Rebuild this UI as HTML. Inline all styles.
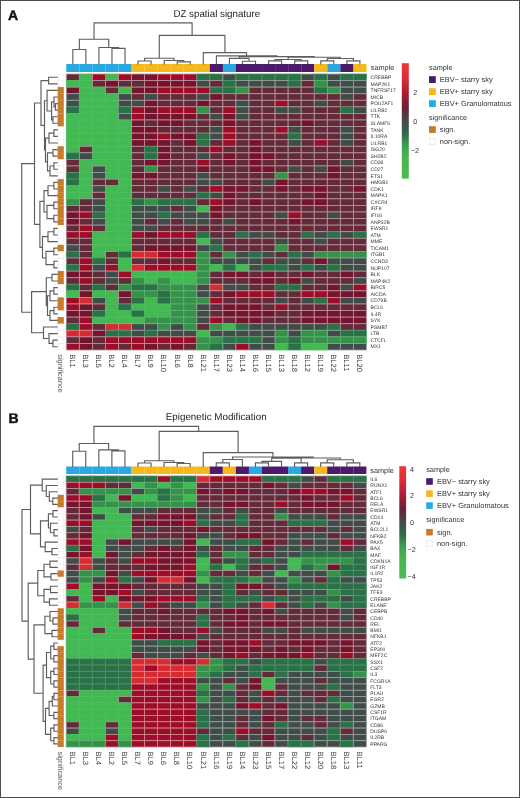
<!DOCTYPE html>
<html><head><meta charset="utf-8"><title>Heatmaps</title>
<style>
html,body{margin:0;padding:0;background:#fff;}
body{width:520px;height:798px;overflow:hidden;position:relative;font-family:"Liberation Sans",sans-serif;}
svg{display:block;position:absolute;left:0;top:0;}
.bd{position:absolute;background:#4d4d4d;}
</style></head><body>
<svg width="520" height="798" viewBox="0 0 520 798" font-family="Liberation Sans" style="text-rendering:geometricPrecision;will-change:transform">
<style>.a{fill:#43b953;stroke:#4dbd5c;stroke-width:0.8}.b{fill:#36924a;stroke:#5bb26e;stroke-width:0.8}.c{fill:#2b7046;stroke:#4f9169;stroke-width:0.8}.e{fill:#404c48;stroke:#9ca2a0;stroke-width:0.8}.f{fill:#632a39;stroke:#b5969e;stroke-width:0.8}.h{fill:#74152d;stroke:#c38f9c;stroke-width:0.8}.i{fill:#9c0e28;stroke:#d58795;stroke-width:0.8}.j{fill:#d62b32;stroke:#e18387;stroke-width:0.8}</style>
<rect x="0" y="0" width="520" height="798" fill="#ffffff"/>
<rect class="f" x="66.30" y="74.00" width="13.05" height="6.57"/>
<rect class="a" x="79.35" y="74.00" width="13.05" height="6.57"/>
<rect class="i" x="92.40" y="74.00" width="13.05" height="6.57"/>
<rect class="a" x="105.45" y="74.00" width="13.05" height="6.57"/>
<rect class="i" x="118.50" y="74.00" width="13.05" height="6.57"/>
<rect class="h" x="131.55" y="74.00" width="13.05" height="6.57"/>
<rect class="h" x="144.60" y="74.00" width="13.05" height="6.57"/>
<rect class="i" x="157.65" y="74.00" width="13.05" height="6.57"/>
<rect class="i" x="170.70" y="74.00" width="13.05" height="6.57"/>
<rect class="i" x="183.75" y="74.00" width="13.05" height="6.57"/>
<rect class="c" x="196.80" y="74.00" width="13.05" height="6.57"/>
<rect class="c" x="209.85" y="74.00" width="13.05" height="6.57"/>
<rect class="e" x="222.90" y="74.00" width="13.05" height="6.57"/>
<rect class="c" x="235.95" y="74.00" width="13.05" height="6.57"/>
<rect class="c" x="249.00" y="74.00" width="13.05" height="6.57"/>
<rect class="c" x="262.05" y="74.00" width="13.05" height="6.57"/>
<rect class="c" x="275.10" y="74.00" width="13.05" height="6.57"/>
<rect class="c" x="288.15" y="74.00" width="13.05" height="6.57"/>
<rect class="e" x="301.20" y="74.00" width="13.05" height="6.57"/>
<rect class="c" x="314.25" y="74.00" width="13.05" height="6.57"/>
<rect class="e" x="327.30" y="74.00" width="13.05" height="6.57"/>
<rect class="c" x="340.35" y="74.00" width="13.05" height="6.57"/>
<rect class="c" x="353.40" y="74.00" width="13.05" height="6.57"/>
<rect class="a" x="66.30" y="80.57" width="13.05" height="6.57"/>
<rect class="a" x="79.35" y="80.57" width="13.05" height="6.57"/>
<rect class="f" x="92.40" y="80.57" width="13.05" height="6.57"/>
<rect class="h" x="105.45" y="80.57" width="13.05" height="6.57"/>
<rect class="f" x="118.50" y="80.57" width="13.05" height="6.57"/>
<rect class="f" x="131.55" y="80.57" width="13.05" height="6.57"/>
<rect class="h" x="144.60" y="80.57" width="13.05" height="6.57"/>
<rect class="h" x="157.65" y="80.57" width="13.05" height="6.57"/>
<rect class="h" x="170.70" y="80.57" width="13.05" height="6.57"/>
<rect class="h" x="183.75" y="80.57" width="13.05" height="6.57"/>
<rect class="e" x="196.80" y="80.57" width="13.05" height="6.57"/>
<rect class="f" x="209.85" y="80.57" width="13.05" height="6.57"/>
<rect class="c" x="222.90" y="80.57" width="13.05" height="6.57"/>
<rect class="e" x="235.95" y="80.57" width="13.05" height="6.57"/>
<rect class="e" x="249.00" y="80.57" width="13.05" height="6.57"/>
<rect class="e" x="262.05" y="80.57" width="13.05" height="6.57"/>
<rect class="e" x="275.10" y="80.57" width="13.05" height="6.57"/>
<rect class="c" x="288.15" y="80.57" width="13.05" height="6.57"/>
<rect class="f" x="301.20" y="80.57" width="13.05" height="6.57"/>
<rect class="b" x="314.25" y="80.57" width="13.05" height="6.57"/>
<rect class="e" x="327.30" y="80.57" width="13.05" height="6.57"/>
<rect class="e" x="340.35" y="80.57" width="13.05" height="6.57"/>
<rect class="e" x="353.40" y="80.57" width="13.05" height="6.57"/>
<rect class="h" x="66.30" y="87.14" width="13.05" height="6.57"/>
<rect class="a" x="79.35" y="87.14" width="13.05" height="6.57"/>
<rect class="a" x="92.40" y="87.14" width="13.05" height="6.57"/>
<rect class="f" x="105.45" y="87.14" width="13.05" height="6.57"/>
<rect class="a" x="118.50" y="87.14" width="13.05" height="6.57"/>
<rect class="h" x="131.55" y="87.14" width="13.05" height="6.57"/>
<rect class="h" x="144.60" y="87.14" width="13.05" height="6.57"/>
<rect class="i" x="157.65" y="87.14" width="13.05" height="6.57"/>
<rect class="i" x="170.70" y="87.14" width="13.05" height="6.57"/>
<rect class="i" x="183.75" y="87.14" width="13.05" height="6.57"/>
<rect class="i" x="196.80" y="87.14" width="13.05" height="6.57"/>
<rect class="c" x="209.85" y="87.14" width="13.05" height="6.57"/>
<rect class="c" x="222.90" y="87.14" width="13.05" height="6.57"/>
<rect class="b" x="235.95" y="87.14" width="13.05" height="6.57"/>
<rect class="f" x="249.00" y="87.14" width="13.05" height="6.57"/>
<rect class="f" x="262.05" y="87.14" width="13.05" height="6.57"/>
<rect class="f" x="275.10" y="87.14" width="13.05" height="6.57"/>
<rect class="f" x="288.15" y="87.14" width="13.05" height="6.57"/>
<rect class="f" x="301.20" y="87.14" width="13.05" height="6.57"/>
<rect class="c" x="314.25" y="87.14" width="13.05" height="6.57"/>
<rect class="b" x="327.30" y="87.14" width="13.05" height="6.57"/>
<rect class="e" x="340.35" y="87.14" width="13.05" height="6.57"/>
<rect class="e" x="353.40" y="87.14" width="13.05" height="6.57"/>
<rect class="e" x="66.30" y="93.71" width="13.05" height="6.57"/>
<rect class="a" x="79.35" y="93.71" width="13.05" height="6.57"/>
<rect class="a" x="92.40" y="93.71" width="13.05" height="6.57"/>
<rect class="a" x="105.45" y="93.71" width="13.05" height="6.57"/>
<rect class="e" x="118.50" y="93.71" width="13.05" height="6.57"/>
<rect class="f" x="131.55" y="93.71" width="13.05" height="6.57"/>
<rect class="e" x="144.60" y="93.71" width="13.05" height="6.57"/>
<rect class="f" x="157.65" y="93.71" width="13.05" height="6.57"/>
<rect class="f" x="170.70" y="93.71" width="13.05" height="6.57"/>
<rect class="f" x="183.75" y="93.71" width="13.05" height="6.57"/>
<rect class="e" x="196.80" y="93.71" width="13.05" height="6.57"/>
<rect class="h" x="209.85" y="93.71" width="13.05" height="6.57"/>
<rect class="f" x="222.90" y="93.71" width="13.05" height="6.57"/>
<rect class="f" x="235.95" y="93.71" width="13.05" height="6.57"/>
<rect class="f" x="249.00" y="93.71" width="13.05" height="6.57"/>
<rect class="f" x="262.05" y="93.71" width="13.05" height="6.57"/>
<rect class="f" x="275.10" y="93.71" width="13.05" height="6.57"/>
<rect class="f" x="288.15" y="93.71" width="13.05" height="6.57"/>
<rect class="f" x="301.20" y="93.71" width="13.05" height="6.57"/>
<rect class="f" x="314.25" y="93.71" width="13.05" height="6.57"/>
<rect class="f" x="327.30" y="93.71" width="13.05" height="6.57"/>
<rect class="e" x="340.35" y="93.71" width="13.05" height="6.57"/>
<rect class="f" x="353.40" y="93.71" width="13.05" height="6.57"/>
<rect class="e" x="66.30" y="100.29" width="13.05" height="6.57"/>
<rect class="a" x="79.35" y="100.29" width="13.05" height="6.57"/>
<rect class="a" x="92.40" y="100.29" width="13.05" height="6.57"/>
<rect class="a" x="105.45" y="100.29" width="13.05" height="6.57"/>
<rect class="e" x="118.50" y="100.29" width="13.05" height="6.57"/>
<rect class="e" x="131.55" y="100.29" width="13.05" height="6.57"/>
<rect class="h" x="144.60" y="100.29" width="13.05" height="6.57"/>
<rect class="f" x="157.65" y="100.29" width="13.05" height="6.57"/>
<rect class="f" x="170.70" y="100.29" width="13.05" height="6.57"/>
<rect class="f" x="183.75" y="100.29" width="13.05" height="6.57"/>
<rect class="h" x="196.80" y="100.29" width="13.05" height="6.57"/>
<rect class="f" x="209.85" y="100.29" width="13.05" height="6.57"/>
<rect class="f" x="222.90" y="100.29" width="13.05" height="6.57"/>
<rect class="e" x="235.95" y="100.29" width="13.05" height="6.57"/>
<rect class="f" x="249.00" y="100.29" width="13.05" height="6.57"/>
<rect class="f" x="262.05" y="100.29" width="13.05" height="6.57"/>
<rect class="i" x="275.10" y="100.29" width="13.05" height="6.57"/>
<rect class="f" x="288.15" y="100.29" width="13.05" height="6.57"/>
<rect class="f" x="301.20" y="100.29" width="13.05" height="6.57"/>
<rect class="e" x="314.25" y="100.29" width="13.05" height="6.57"/>
<rect class="f" x="327.30" y="100.29" width="13.05" height="6.57"/>
<rect class="f" x="340.35" y="100.29" width="13.05" height="6.57"/>
<rect class="f" x="353.40" y="100.29" width="13.05" height="6.57"/>
<rect class="c" x="66.30" y="106.86" width="13.05" height="6.57"/>
<rect class="a" x="79.35" y="106.86" width="13.05" height="6.57"/>
<rect class="a" x="92.40" y="106.86" width="13.05" height="6.57"/>
<rect class="a" x="105.45" y="106.86" width="13.05" height="6.57"/>
<rect class="c" x="118.50" y="106.86" width="13.05" height="6.57"/>
<rect class="i" x="131.55" y="106.86" width="13.05" height="6.57"/>
<rect class="h" x="144.60" y="106.86" width="13.05" height="6.57"/>
<rect class="i" x="157.65" y="106.86" width="13.05" height="6.57"/>
<rect class="i" x="170.70" y="106.86" width="13.05" height="6.57"/>
<rect class="i" x="183.75" y="106.86" width="13.05" height="6.57"/>
<rect class="b" x="196.80" y="106.86" width="13.05" height="6.57"/>
<rect class="f" x="209.85" y="106.86" width="13.05" height="6.57"/>
<rect class="i" x="222.90" y="106.86" width="13.05" height="6.57"/>
<rect class="e" x="235.95" y="106.86" width="13.05" height="6.57"/>
<rect class="f" x="249.00" y="106.86" width="13.05" height="6.57"/>
<rect class="f" x="262.05" y="106.86" width="13.05" height="6.57"/>
<rect class="e" x="275.10" y="106.86" width="13.05" height="6.57"/>
<rect class="e" x="288.15" y="106.86" width="13.05" height="6.57"/>
<rect class="f" x="301.20" y="106.86" width="13.05" height="6.57"/>
<rect class="f" x="314.25" y="106.86" width="13.05" height="6.57"/>
<rect class="f" x="327.30" y="106.86" width="13.05" height="6.57"/>
<rect class="c" x="340.35" y="106.86" width="13.05" height="6.57"/>
<rect class="e" x="353.40" y="106.86" width="13.05" height="6.57"/>
<rect class="a" x="66.30" y="113.43" width="13.05" height="6.57"/>
<rect class="a" x="79.35" y="113.43" width="13.05" height="6.57"/>
<rect class="a" x="92.40" y="113.43" width="13.05" height="6.57"/>
<rect class="a" x="105.45" y="113.43" width="13.05" height="6.57"/>
<rect class="e" x="118.50" y="113.43" width="13.05" height="6.57"/>
<rect class="i" x="131.55" y="113.43" width="13.05" height="6.57"/>
<rect class="h" x="144.60" y="113.43" width="13.05" height="6.57"/>
<rect class="h" x="157.65" y="113.43" width="13.05" height="6.57"/>
<rect class="h" x="170.70" y="113.43" width="13.05" height="6.57"/>
<rect class="h" x="183.75" y="113.43" width="13.05" height="6.57"/>
<rect class="f" x="196.80" y="113.43" width="13.05" height="6.57"/>
<rect class="e" x="209.85" y="113.43" width="13.05" height="6.57"/>
<rect class="h" x="222.90" y="113.43" width="13.05" height="6.57"/>
<rect class="e" x="235.95" y="113.43" width="13.05" height="6.57"/>
<rect class="f" x="249.00" y="113.43" width="13.05" height="6.57"/>
<rect class="f" x="262.05" y="113.43" width="13.05" height="6.57"/>
<rect class="f" x="275.10" y="113.43" width="13.05" height="6.57"/>
<rect class="f" x="288.15" y="113.43" width="13.05" height="6.57"/>
<rect class="f" x="301.20" y="113.43" width="13.05" height="6.57"/>
<rect class="f" x="314.25" y="113.43" width="13.05" height="6.57"/>
<rect class="f" x="327.30" y="113.43" width="13.05" height="6.57"/>
<rect class="f" x="340.35" y="113.43" width="13.05" height="6.57"/>
<rect class="f" x="353.40" y="113.43" width="13.05" height="6.57"/>
<rect class="a" x="66.30" y="120.00" width="13.05" height="6.57"/>
<rect class="a" x="79.35" y="120.00" width="13.05" height="6.57"/>
<rect class="a" x="92.40" y="120.00" width="13.05" height="6.57"/>
<rect class="a" x="105.45" y="120.00" width="13.05" height="6.57"/>
<rect class="a" x="118.50" y="120.00" width="13.05" height="6.57"/>
<rect class="h" x="131.55" y="120.00" width="13.05" height="6.57"/>
<rect class="f" x="144.60" y="120.00" width="13.05" height="6.57"/>
<rect class="h" x="157.65" y="120.00" width="13.05" height="6.57"/>
<rect class="h" x="170.70" y="120.00" width="13.05" height="6.57"/>
<rect class="f" x="183.75" y="120.00" width="13.05" height="6.57"/>
<rect class="f" x="196.80" y="120.00" width="13.05" height="6.57"/>
<rect class="f" x="209.85" y="120.00" width="13.05" height="6.57"/>
<rect class="h" x="222.90" y="120.00" width="13.05" height="6.57"/>
<rect class="f" x="235.95" y="120.00" width="13.05" height="6.57"/>
<rect class="f" x="249.00" y="120.00" width="13.05" height="6.57"/>
<rect class="f" x="262.05" y="120.00" width="13.05" height="6.57"/>
<rect class="f" x="275.10" y="120.00" width="13.05" height="6.57"/>
<rect class="f" x="288.15" y="120.00" width="13.05" height="6.57"/>
<rect class="h" x="301.20" y="120.00" width="13.05" height="6.57"/>
<rect class="f" x="314.25" y="120.00" width="13.05" height="6.57"/>
<rect class="f" x="327.30" y="120.00" width="13.05" height="6.57"/>
<rect class="f" x="340.35" y="120.00" width="13.05" height="6.57"/>
<rect class="f" x="353.40" y="120.00" width="13.05" height="6.57"/>
<rect class="a" x="66.30" y="126.57" width="13.05" height="6.57"/>
<rect class="a" x="79.35" y="126.57" width="13.05" height="6.57"/>
<rect class="a" x="92.40" y="126.57" width="13.05" height="6.57"/>
<rect class="a" x="105.45" y="126.57" width="13.05" height="6.57"/>
<rect class="a" x="118.50" y="126.57" width="13.05" height="6.57"/>
<rect class="h" x="131.55" y="126.57" width="13.05" height="6.57"/>
<rect class="h" x="144.60" y="126.57" width="13.05" height="6.57"/>
<rect class="f" x="157.65" y="126.57" width="13.05" height="6.57"/>
<rect class="f" x="170.70" y="126.57" width="13.05" height="6.57"/>
<rect class="f" x="183.75" y="126.57" width="13.05" height="6.57"/>
<rect class="f" x="196.80" y="126.57" width="13.05" height="6.57"/>
<rect class="e" x="209.85" y="126.57" width="13.05" height="6.57"/>
<rect class="i" x="222.90" y="126.57" width="13.05" height="6.57"/>
<rect class="f" x="235.95" y="126.57" width="13.05" height="6.57"/>
<rect class="f" x="249.00" y="126.57" width="13.05" height="6.57"/>
<rect class="f" x="262.05" y="126.57" width="13.05" height="6.57"/>
<rect class="i" x="275.10" y="126.57" width="13.05" height="6.57"/>
<rect class="e" x="288.15" y="126.57" width="13.05" height="6.57"/>
<rect class="f" x="301.20" y="126.57" width="13.05" height="6.57"/>
<rect class="f" x="314.25" y="126.57" width="13.05" height="6.57"/>
<rect class="f" x="327.30" y="126.57" width="13.05" height="6.57"/>
<rect class="e" x="340.35" y="126.57" width="13.05" height="6.57"/>
<rect class="f" x="353.40" y="126.57" width="13.05" height="6.57"/>
<rect class="a" x="66.30" y="133.14" width="13.05" height="6.57"/>
<rect class="a" x="79.35" y="133.14" width="13.05" height="6.57"/>
<rect class="a" x="92.40" y="133.14" width="13.05" height="6.57"/>
<rect class="a" x="105.45" y="133.14" width="13.05" height="6.57"/>
<rect class="a" x="118.50" y="133.14" width="13.05" height="6.57"/>
<rect class="h" x="131.55" y="133.14" width="13.05" height="6.57"/>
<rect class="h" x="144.60" y="133.14" width="13.05" height="6.57"/>
<rect class="i" x="157.65" y="133.14" width="13.05" height="6.57"/>
<rect class="h" x="170.70" y="133.14" width="13.05" height="6.57"/>
<rect class="h" x="183.75" y="133.14" width="13.05" height="6.57"/>
<rect class="c" x="196.80" y="133.14" width="13.05" height="6.57"/>
<rect class="e" x="209.85" y="133.14" width="13.05" height="6.57"/>
<rect class="i" x="222.90" y="133.14" width="13.05" height="6.57"/>
<rect class="f" x="235.95" y="133.14" width="13.05" height="6.57"/>
<rect class="f" x="249.00" y="133.14" width="13.05" height="6.57"/>
<rect class="f" x="262.05" y="133.14" width="13.05" height="6.57"/>
<rect class="f" x="275.10" y="133.14" width="13.05" height="6.57"/>
<rect class="c" x="288.15" y="133.14" width="13.05" height="6.57"/>
<rect class="f" x="301.20" y="133.14" width="13.05" height="6.57"/>
<rect class="f" x="314.25" y="133.14" width="13.05" height="6.57"/>
<rect class="f" x="327.30" y="133.14" width="13.05" height="6.57"/>
<rect class="e" x="340.35" y="133.14" width="13.05" height="6.57"/>
<rect class="f" x="353.40" y="133.14" width="13.05" height="6.57"/>
<rect class="a" x="66.30" y="139.71" width="13.05" height="6.57"/>
<rect class="a" x="79.35" y="139.71" width="13.05" height="6.57"/>
<rect class="a" x="92.40" y="139.71" width="13.05" height="6.57"/>
<rect class="a" x="105.45" y="139.71" width="13.05" height="6.57"/>
<rect class="a" x="118.50" y="139.71" width="13.05" height="6.57"/>
<rect class="h" x="131.55" y="139.71" width="13.05" height="6.57"/>
<rect class="h" x="144.60" y="139.71" width="13.05" height="6.57"/>
<rect class="h" x="157.65" y="139.71" width="13.05" height="6.57"/>
<rect class="f" x="170.70" y="139.71" width="13.05" height="6.57"/>
<rect class="h" x="183.75" y="139.71" width="13.05" height="6.57"/>
<rect class="c" x="196.80" y="139.71" width="13.05" height="6.57"/>
<rect class="f" x="209.85" y="139.71" width="13.05" height="6.57"/>
<rect class="i" x="222.90" y="139.71" width="13.05" height="6.57"/>
<rect class="f" x="235.95" y="139.71" width="13.05" height="6.57"/>
<rect class="h" x="249.00" y="139.71" width="13.05" height="6.57"/>
<rect class="f" x="262.05" y="139.71" width="13.05" height="6.57"/>
<rect class="f" x="275.10" y="139.71" width="13.05" height="6.57"/>
<rect class="e" x="288.15" y="139.71" width="13.05" height="6.57"/>
<rect class="f" x="301.20" y="139.71" width="13.05" height="6.57"/>
<rect class="i" x="314.25" y="139.71" width="13.05" height="6.57"/>
<rect class="f" x="327.30" y="139.71" width="13.05" height="6.57"/>
<rect class="e" x="340.35" y="139.71" width="13.05" height="6.57"/>
<rect class="f" x="353.40" y="139.71" width="13.05" height="6.57"/>
<rect class="a" x="66.30" y="146.29" width="13.05" height="6.57"/>
<rect class="f" x="79.35" y="146.29" width="13.05" height="6.57"/>
<rect class="a" x="92.40" y="146.29" width="13.05" height="6.57"/>
<rect class="a" x="105.45" y="146.29" width="13.05" height="6.57"/>
<rect class="a" x="118.50" y="146.29" width="13.05" height="6.57"/>
<rect class="f" x="131.55" y="146.29" width="13.05" height="6.57"/>
<rect class="c" x="144.60" y="146.29" width="13.05" height="6.57"/>
<rect class="h" x="157.65" y="146.29" width="13.05" height="6.57"/>
<rect class="f" x="170.70" y="146.29" width="13.05" height="6.57"/>
<rect class="f" x="183.75" y="146.29" width="13.05" height="6.57"/>
<rect class="f" x="196.80" y="146.29" width="13.05" height="6.57"/>
<rect class="i" x="209.85" y="146.29" width="13.05" height="6.57"/>
<rect class="f" x="222.90" y="146.29" width="13.05" height="6.57"/>
<rect class="f" x="235.95" y="146.29" width="13.05" height="6.57"/>
<rect class="h" x="249.00" y="146.29" width="13.05" height="6.57"/>
<rect class="f" x="262.05" y="146.29" width="13.05" height="6.57"/>
<rect class="f" x="275.10" y="146.29" width="13.05" height="6.57"/>
<rect class="f" x="288.15" y="146.29" width="13.05" height="6.57"/>
<rect class="f" x="301.20" y="146.29" width="13.05" height="6.57"/>
<rect class="f" x="314.25" y="146.29" width="13.05" height="6.57"/>
<rect class="f" x="327.30" y="146.29" width="13.05" height="6.57"/>
<rect class="f" x="340.35" y="146.29" width="13.05" height="6.57"/>
<rect class="f" x="353.40" y="146.29" width="13.05" height="6.57"/>
<rect class="c" x="66.30" y="152.86" width="13.05" height="6.57"/>
<rect class="e" x="79.35" y="152.86" width="13.05" height="6.57"/>
<rect class="a" x="92.40" y="152.86" width="13.05" height="6.57"/>
<rect class="a" x="105.45" y="152.86" width="13.05" height="6.57"/>
<rect class="a" x="118.50" y="152.86" width="13.05" height="6.57"/>
<rect class="f" x="131.55" y="152.86" width="13.05" height="6.57"/>
<rect class="c" x="144.60" y="152.86" width="13.05" height="6.57"/>
<rect class="h" x="157.65" y="152.86" width="13.05" height="6.57"/>
<rect class="f" x="170.70" y="152.86" width="13.05" height="6.57"/>
<rect class="f" x="183.75" y="152.86" width="13.05" height="6.57"/>
<rect class="e" x="196.80" y="152.86" width="13.05" height="6.57"/>
<rect class="f" x="209.85" y="152.86" width="13.05" height="6.57"/>
<rect class="h" x="222.90" y="152.86" width="13.05" height="6.57"/>
<rect class="f" x="235.95" y="152.86" width="13.05" height="6.57"/>
<rect class="h" x="249.00" y="152.86" width="13.05" height="6.57"/>
<rect class="h" x="262.05" y="152.86" width="13.05" height="6.57"/>
<rect class="f" x="275.10" y="152.86" width="13.05" height="6.57"/>
<rect class="f" x="288.15" y="152.86" width="13.05" height="6.57"/>
<rect class="f" x="301.20" y="152.86" width="13.05" height="6.57"/>
<rect class="f" x="314.25" y="152.86" width="13.05" height="6.57"/>
<rect class="f" x="327.30" y="152.86" width="13.05" height="6.57"/>
<rect class="f" x="340.35" y="152.86" width="13.05" height="6.57"/>
<rect class="f" x="353.40" y="152.86" width="13.05" height="6.57"/>
<rect class="f" x="66.30" y="159.43" width="13.05" height="6.57"/>
<rect class="a" x="79.35" y="159.43" width="13.05" height="6.57"/>
<rect class="a" x="92.40" y="159.43" width="13.05" height="6.57"/>
<rect class="a" x="105.45" y="159.43" width="13.05" height="6.57"/>
<rect class="a" x="118.50" y="159.43" width="13.05" height="6.57"/>
<rect class="f" x="131.55" y="159.43" width="13.05" height="6.57"/>
<rect class="h" x="144.60" y="159.43" width="13.05" height="6.57"/>
<rect class="h" x="157.65" y="159.43" width="13.05" height="6.57"/>
<rect class="f" x="170.70" y="159.43" width="13.05" height="6.57"/>
<rect class="f" x="183.75" y="159.43" width="13.05" height="6.57"/>
<rect class="i" x="196.80" y="159.43" width="13.05" height="6.57"/>
<rect class="f" x="209.85" y="159.43" width="13.05" height="6.57"/>
<rect class="h" x="222.90" y="159.43" width="13.05" height="6.57"/>
<rect class="f" x="235.95" y="159.43" width="13.05" height="6.57"/>
<rect class="h" x="249.00" y="159.43" width="13.05" height="6.57"/>
<rect class="f" x="262.05" y="159.43" width="13.05" height="6.57"/>
<rect class="f" x="275.10" y="159.43" width="13.05" height="6.57"/>
<rect class="f" x="288.15" y="159.43" width="13.05" height="6.57"/>
<rect class="f" x="301.20" y="159.43" width="13.05" height="6.57"/>
<rect class="f" x="314.25" y="159.43" width="13.05" height="6.57"/>
<rect class="f" x="327.30" y="159.43" width="13.05" height="6.57"/>
<rect class="e" x="340.35" y="159.43" width="13.05" height="6.57"/>
<rect class="f" x="353.40" y="159.43" width="13.05" height="6.57"/>
<rect class="f" x="66.30" y="166.00" width="13.05" height="6.57"/>
<rect class="a" x="79.35" y="166.00" width="13.05" height="6.57"/>
<rect class="e" x="92.40" y="166.00" width="13.05" height="6.57"/>
<rect class="a" x="105.45" y="166.00" width="13.05" height="6.57"/>
<rect class="a" x="118.50" y="166.00" width="13.05" height="6.57"/>
<rect class="f" x="131.55" y="166.00" width="13.05" height="6.57"/>
<rect class="b" x="144.60" y="166.00" width="13.05" height="6.57"/>
<rect class="f" x="157.65" y="166.00" width="13.05" height="6.57"/>
<rect class="f" x="170.70" y="166.00" width="13.05" height="6.57"/>
<rect class="f" x="183.75" y="166.00" width="13.05" height="6.57"/>
<rect class="h" x="196.80" y="166.00" width="13.05" height="6.57"/>
<rect class="f" x="209.85" y="166.00" width="13.05" height="6.57"/>
<rect class="f" x="222.90" y="166.00" width="13.05" height="6.57"/>
<rect class="f" x="235.95" y="166.00" width="13.05" height="6.57"/>
<rect class="h" x="249.00" y="166.00" width="13.05" height="6.57"/>
<rect class="h" x="262.05" y="166.00" width="13.05" height="6.57"/>
<rect class="f" x="275.10" y="166.00" width="13.05" height="6.57"/>
<rect class="e" x="288.15" y="166.00" width="13.05" height="6.57"/>
<rect class="f" x="301.20" y="166.00" width="13.05" height="6.57"/>
<rect class="e" x="314.25" y="166.00" width="13.05" height="6.57"/>
<rect class="h" x="327.30" y="166.00" width="13.05" height="6.57"/>
<rect class="f" x="340.35" y="166.00" width="13.05" height="6.57"/>
<rect class="f" x="353.40" y="166.00" width="13.05" height="6.57"/>
<rect class="c" x="66.30" y="172.57" width="13.05" height="6.57"/>
<rect class="a" x="79.35" y="172.57" width="13.05" height="6.57"/>
<rect class="e" x="92.40" y="172.57" width="13.05" height="6.57"/>
<rect class="a" x="105.45" y="172.57" width="13.05" height="6.57"/>
<rect class="a" x="118.50" y="172.57" width="13.05" height="6.57"/>
<rect class="h" x="131.55" y="172.57" width="13.05" height="6.57"/>
<rect class="h" x="144.60" y="172.57" width="13.05" height="6.57"/>
<rect class="f" x="157.65" y="172.57" width="13.05" height="6.57"/>
<rect class="f" x="170.70" y="172.57" width="13.05" height="6.57"/>
<rect class="f" x="183.75" y="172.57" width="13.05" height="6.57"/>
<rect class="e" x="196.80" y="172.57" width="13.05" height="6.57"/>
<rect class="f" x="209.85" y="172.57" width="13.05" height="6.57"/>
<rect class="f" x="222.90" y="172.57" width="13.05" height="6.57"/>
<rect class="f" x="235.95" y="172.57" width="13.05" height="6.57"/>
<rect class="f" x="249.00" y="172.57" width="13.05" height="6.57"/>
<rect class="f" x="262.05" y="172.57" width="13.05" height="6.57"/>
<rect class="b" x="275.10" y="172.57" width="13.05" height="6.57"/>
<rect class="f" x="288.15" y="172.57" width="13.05" height="6.57"/>
<rect class="f" x="301.20" y="172.57" width="13.05" height="6.57"/>
<rect class="f" x="314.25" y="172.57" width="13.05" height="6.57"/>
<rect class="h" x="327.30" y="172.57" width="13.05" height="6.57"/>
<rect class="f" x="340.35" y="172.57" width="13.05" height="6.57"/>
<rect class="f" x="353.40" y="172.57" width="13.05" height="6.57"/>
<rect class="c" x="66.30" y="179.14" width="13.05" height="6.57"/>
<rect class="a" x="79.35" y="179.14" width="13.05" height="6.57"/>
<rect class="f" x="92.40" y="179.14" width="13.05" height="6.57"/>
<rect class="f" x="105.45" y="179.14" width="13.05" height="6.57"/>
<rect class="a" x="118.50" y="179.14" width="13.05" height="6.57"/>
<rect class="f" x="131.55" y="179.14" width="13.05" height="6.57"/>
<rect class="f" x="144.60" y="179.14" width="13.05" height="6.57"/>
<rect class="f" x="157.65" y="179.14" width="13.05" height="6.57"/>
<rect class="f" x="170.70" y="179.14" width="13.05" height="6.57"/>
<rect class="f" x="183.75" y="179.14" width="13.05" height="6.57"/>
<rect class="e" x="196.80" y="179.14" width="13.05" height="6.57"/>
<rect class="e" x="209.85" y="179.14" width="13.05" height="6.57"/>
<rect class="f" x="222.90" y="179.14" width="13.05" height="6.57"/>
<rect class="f" x="235.95" y="179.14" width="13.05" height="6.57"/>
<rect class="f" x="249.00" y="179.14" width="13.05" height="6.57"/>
<rect class="e" x="262.05" y="179.14" width="13.05" height="6.57"/>
<rect class="h" x="275.10" y="179.14" width="13.05" height="6.57"/>
<rect class="f" x="288.15" y="179.14" width="13.05" height="6.57"/>
<rect class="f" x="301.20" y="179.14" width="13.05" height="6.57"/>
<rect class="f" x="314.25" y="179.14" width="13.05" height="6.57"/>
<rect class="f" x="327.30" y="179.14" width="13.05" height="6.57"/>
<rect class="f" x="340.35" y="179.14" width="13.05" height="6.57"/>
<rect class="f" x="353.40" y="179.14" width="13.05" height="6.57"/>
<rect class="a" x="66.30" y="185.71" width="13.05" height="6.57"/>
<rect class="a" x="79.35" y="185.71" width="13.05" height="6.57"/>
<rect class="e" x="92.40" y="185.71" width="13.05" height="6.57"/>
<rect class="a" x="105.45" y="185.71" width="13.05" height="6.57"/>
<rect class="a" x="118.50" y="185.71" width="13.05" height="6.57"/>
<rect class="f" x="131.55" y="185.71" width="13.05" height="6.57"/>
<rect class="f" x="144.60" y="185.71" width="13.05" height="6.57"/>
<rect class="e" x="157.65" y="185.71" width="13.05" height="6.57"/>
<rect class="f" x="170.70" y="185.71" width="13.05" height="6.57"/>
<rect class="e" x="183.75" y="185.71" width="13.05" height="6.57"/>
<rect class="f" x="196.80" y="185.71" width="13.05" height="6.57"/>
<rect class="i" x="209.85" y="185.71" width="13.05" height="6.57"/>
<rect class="h" x="222.90" y="185.71" width="13.05" height="6.57"/>
<rect class="h" x="235.95" y="185.71" width="13.05" height="6.57"/>
<rect class="f" x="249.00" y="185.71" width="13.05" height="6.57"/>
<rect class="f" x="262.05" y="185.71" width="13.05" height="6.57"/>
<rect class="h" x="275.10" y="185.71" width="13.05" height="6.57"/>
<rect class="f" x="288.15" y="185.71" width="13.05" height="6.57"/>
<rect class="h" x="301.20" y="185.71" width="13.05" height="6.57"/>
<rect class="h" x="314.25" y="185.71" width="13.05" height="6.57"/>
<rect class="f" x="327.30" y="185.71" width="13.05" height="6.57"/>
<rect class="f" x="340.35" y="185.71" width="13.05" height="6.57"/>
<rect class="h" x="353.40" y="185.71" width="13.05" height="6.57"/>
<rect class="a" x="66.30" y="192.29" width="13.05" height="6.57"/>
<rect class="a" x="79.35" y="192.29" width="13.05" height="6.57"/>
<rect class="f" x="92.40" y="192.29" width="13.05" height="6.57"/>
<rect class="a" x="105.45" y="192.29" width="13.05" height="6.57"/>
<rect class="a" x="118.50" y="192.29" width="13.05" height="6.57"/>
<rect class="f" x="131.55" y="192.29" width="13.05" height="6.57"/>
<rect class="f" x="144.60" y="192.29" width="13.05" height="6.57"/>
<rect class="f" x="157.65" y="192.29" width="13.05" height="6.57"/>
<rect class="f" x="170.70" y="192.29" width="13.05" height="6.57"/>
<rect class="f" x="183.75" y="192.29" width="13.05" height="6.57"/>
<rect class="c" x="196.80" y="192.29" width="13.05" height="6.57"/>
<rect class="e" x="209.85" y="192.29" width="13.05" height="6.57"/>
<rect class="h" x="222.90" y="192.29" width="13.05" height="6.57"/>
<rect class="f" x="235.95" y="192.29" width="13.05" height="6.57"/>
<rect class="f" x="249.00" y="192.29" width="13.05" height="6.57"/>
<rect class="f" x="262.05" y="192.29" width="13.05" height="6.57"/>
<rect class="f" x="275.10" y="192.29" width="13.05" height="6.57"/>
<rect class="f" x="288.15" y="192.29" width="13.05" height="6.57"/>
<rect class="f" x="301.20" y="192.29" width="13.05" height="6.57"/>
<rect class="h" x="314.25" y="192.29" width="13.05" height="6.57"/>
<rect class="f" x="327.30" y="192.29" width="13.05" height="6.57"/>
<rect class="f" x="340.35" y="192.29" width="13.05" height="6.57"/>
<rect class="f" x="353.40" y="192.29" width="13.05" height="6.57"/>
<rect class="b" x="66.30" y="198.86" width="13.05" height="6.57"/>
<rect class="f" x="79.35" y="198.86" width="13.05" height="6.57"/>
<rect class="e" x="92.40" y="198.86" width="13.05" height="6.57"/>
<rect class="a" x="105.45" y="198.86" width="13.05" height="6.57"/>
<rect class="a" x="118.50" y="198.86" width="13.05" height="6.57"/>
<rect class="c" x="131.55" y="198.86" width="13.05" height="6.57"/>
<rect class="b" x="144.60" y="198.86" width="13.05" height="6.57"/>
<rect class="c" x="157.65" y="198.86" width="13.05" height="6.57"/>
<rect class="c" x="170.70" y="198.86" width="13.05" height="6.57"/>
<rect class="c" x="183.75" y="198.86" width="13.05" height="6.57"/>
<rect class="f" x="196.80" y="198.86" width="13.05" height="6.57"/>
<rect class="i" x="209.85" y="198.86" width="13.05" height="6.57"/>
<rect class="h" x="222.90" y="198.86" width="13.05" height="6.57"/>
<rect class="f" x="235.95" y="198.86" width="13.05" height="6.57"/>
<rect class="h" x="249.00" y="198.86" width="13.05" height="6.57"/>
<rect class="f" x="262.05" y="198.86" width="13.05" height="6.57"/>
<rect class="f" x="275.10" y="198.86" width="13.05" height="6.57"/>
<rect class="f" x="288.15" y="198.86" width="13.05" height="6.57"/>
<rect class="h" x="301.20" y="198.86" width="13.05" height="6.57"/>
<rect class="h" x="314.25" y="198.86" width="13.05" height="6.57"/>
<rect class="f" x="327.30" y="198.86" width="13.05" height="6.57"/>
<rect class="f" x="340.35" y="198.86" width="13.05" height="6.57"/>
<rect class="f" x="353.40" y="198.86" width="13.05" height="6.57"/>
<rect class="f" x="66.30" y="205.43" width="13.05" height="6.57"/>
<rect class="f" x="79.35" y="205.43" width="13.05" height="6.57"/>
<rect class="e" x="92.40" y="205.43" width="13.05" height="6.57"/>
<rect class="a" x="105.45" y="205.43" width="13.05" height="6.57"/>
<rect class="a" x="118.50" y="205.43" width="13.05" height="6.57"/>
<rect class="e" x="131.55" y="205.43" width="13.05" height="6.57"/>
<rect class="e" x="144.60" y="205.43" width="13.05" height="6.57"/>
<rect class="e" x="157.65" y="205.43" width="13.05" height="6.57"/>
<rect class="f" x="170.70" y="205.43" width="13.05" height="6.57"/>
<rect class="e" x="183.75" y="205.43" width="13.05" height="6.57"/>
<rect class="a" x="196.80" y="205.43" width="13.05" height="6.57"/>
<rect class="h" x="209.85" y="205.43" width="13.05" height="6.57"/>
<rect class="f" x="222.90" y="205.43" width="13.05" height="6.57"/>
<rect class="f" x="235.95" y="205.43" width="13.05" height="6.57"/>
<rect class="f" x="249.00" y="205.43" width="13.05" height="6.57"/>
<rect class="f" x="262.05" y="205.43" width="13.05" height="6.57"/>
<rect class="f" x="275.10" y="205.43" width="13.05" height="6.57"/>
<rect class="f" x="288.15" y="205.43" width="13.05" height="6.57"/>
<rect class="f" x="301.20" y="205.43" width="13.05" height="6.57"/>
<rect class="f" x="314.25" y="205.43" width="13.05" height="6.57"/>
<rect class="f" x="327.30" y="205.43" width="13.05" height="6.57"/>
<rect class="f" x="340.35" y="205.43" width="13.05" height="6.57"/>
<rect class="f" x="353.40" y="205.43" width="13.05" height="6.57"/>
<rect class="h" x="66.30" y="212.00" width="13.05" height="6.57"/>
<rect class="i" x="79.35" y="212.00" width="13.05" height="6.57"/>
<rect class="c" x="92.40" y="212.00" width="13.05" height="6.57"/>
<rect class="a" x="105.45" y="212.00" width="13.05" height="6.57"/>
<rect class="a" x="118.50" y="212.00" width="13.05" height="6.57"/>
<rect class="e" x="131.55" y="212.00" width="13.05" height="6.57"/>
<rect class="e" x="144.60" y="212.00" width="13.05" height="6.57"/>
<rect class="c" x="157.65" y="212.00" width="13.05" height="6.57"/>
<rect class="e" x="170.70" y="212.00" width="13.05" height="6.57"/>
<rect class="e" x="183.75" y="212.00" width="13.05" height="6.57"/>
<rect class="e" x="196.80" y="212.00" width="13.05" height="6.57"/>
<rect class="h" x="209.85" y="212.00" width="13.05" height="6.57"/>
<rect class="f" x="222.90" y="212.00" width="13.05" height="6.57"/>
<rect class="f" x="235.95" y="212.00" width="13.05" height="6.57"/>
<rect class="f" x="249.00" y="212.00" width="13.05" height="6.57"/>
<rect class="f" x="262.05" y="212.00" width="13.05" height="6.57"/>
<rect class="e" x="275.10" y="212.00" width="13.05" height="6.57"/>
<rect class="i" x="288.15" y="212.00" width="13.05" height="6.57"/>
<rect class="f" x="301.20" y="212.00" width="13.05" height="6.57"/>
<rect class="f" x="314.25" y="212.00" width="13.05" height="6.57"/>
<rect class="e" x="327.30" y="212.00" width="13.05" height="6.57"/>
<rect class="f" x="340.35" y="212.00" width="13.05" height="6.57"/>
<rect class="f" x="353.40" y="212.00" width="13.05" height="6.57"/>
<rect class="h" x="66.30" y="218.57" width="13.05" height="6.57"/>
<rect class="f" x="79.35" y="218.57" width="13.05" height="6.57"/>
<rect class="e" x="92.40" y="218.57" width="13.05" height="6.57"/>
<rect class="a" x="105.45" y="218.57" width="13.05" height="6.57"/>
<rect class="a" x="118.50" y="218.57" width="13.05" height="6.57"/>
<rect class="e" x="131.55" y="218.57" width="13.05" height="6.57"/>
<rect class="f" x="144.60" y="218.57" width="13.05" height="6.57"/>
<rect class="e" x="157.65" y="218.57" width="13.05" height="6.57"/>
<rect class="f" x="170.70" y="218.57" width="13.05" height="6.57"/>
<rect class="e" x="183.75" y="218.57" width="13.05" height="6.57"/>
<rect class="e" x="196.80" y="218.57" width="13.05" height="6.57"/>
<rect class="f" x="209.85" y="218.57" width="13.05" height="6.57"/>
<rect class="e" x="222.90" y="218.57" width="13.05" height="6.57"/>
<rect class="f" x="235.95" y="218.57" width="13.05" height="6.57"/>
<rect class="f" x="249.00" y="218.57" width="13.05" height="6.57"/>
<rect class="f" x="262.05" y="218.57" width="13.05" height="6.57"/>
<rect class="f" x="275.10" y="218.57" width="13.05" height="6.57"/>
<rect class="h" x="288.15" y="218.57" width="13.05" height="6.57"/>
<rect class="f" x="301.20" y="218.57" width="13.05" height="6.57"/>
<rect class="f" x="314.25" y="218.57" width="13.05" height="6.57"/>
<rect class="f" x="327.30" y="218.57" width="13.05" height="6.57"/>
<rect class="f" x="340.35" y="218.57" width="13.05" height="6.57"/>
<rect class="f" x="353.40" y="218.57" width="13.05" height="6.57"/>
<rect class="f" x="66.30" y="225.14" width="13.05" height="6.57"/>
<rect class="i" x="79.35" y="225.14" width="13.05" height="6.57"/>
<rect class="f" x="92.40" y="225.14" width="13.05" height="6.57"/>
<rect class="a" x="105.45" y="225.14" width="13.05" height="6.57"/>
<rect class="a" x="118.50" y="225.14" width="13.05" height="6.57"/>
<rect class="e" x="131.55" y="225.14" width="13.05" height="6.57"/>
<rect class="e" x="144.60" y="225.14" width="13.05" height="6.57"/>
<rect class="f" x="157.65" y="225.14" width="13.05" height="6.57"/>
<rect class="f" x="170.70" y="225.14" width="13.05" height="6.57"/>
<rect class="f" x="183.75" y="225.14" width="13.05" height="6.57"/>
<rect class="f" x="196.80" y="225.14" width="13.05" height="6.57"/>
<rect class="f" x="209.85" y="225.14" width="13.05" height="6.57"/>
<rect class="f" x="222.90" y="225.14" width="13.05" height="6.57"/>
<rect class="f" x="235.95" y="225.14" width="13.05" height="6.57"/>
<rect class="f" x="249.00" y="225.14" width="13.05" height="6.57"/>
<rect class="f" x="262.05" y="225.14" width="13.05" height="6.57"/>
<rect class="f" x="275.10" y="225.14" width="13.05" height="6.57"/>
<rect class="f" x="288.15" y="225.14" width="13.05" height="6.57"/>
<rect class="f" x="301.20" y="225.14" width="13.05" height="6.57"/>
<rect class="f" x="314.25" y="225.14" width="13.05" height="6.57"/>
<rect class="f" x="327.30" y="225.14" width="13.05" height="6.57"/>
<rect class="f" x="340.35" y="225.14" width="13.05" height="6.57"/>
<rect class="f" x="353.40" y="225.14" width="13.05" height="6.57"/>
<rect class="i" x="66.30" y="231.71" width="13.05" height="6.57"/>
<rect class="i" x="79.35" y="231.71" width="13.05" height="6.57"/>
<rect class="a" x="92.40" y="231.71" width="13.05" height="6.57"/>
<rect class="a" x="105.45" y="231.71" width="13.05" height="6.57"/>
<rect class="a" x="118.50" y="231.71" width="13.05" height="6.57"/>
<rect class="i" x="131.55" y="231.71" width="13.05" height="6.57"/>
<rect class="h" x="144.60" y="231.71" width="13.05" height="6.57"/>
<rect class="i" x="157.65" y="231.71" width="13.05" height="6.57"/>
<rect class="i" x="170.70" y="231.71" width="13.05" height="6.57"/>
<rect class="i" x="183.75" y="231.71" width="13.05" height="6.57"/>
<rect class="c" x="196.80" y="231.71" width="13.05" height="6.57"/>
<rect class="f" x="209.85" y="231.71" width="13.05" height="6.57"/>
<rect class="f" x="222.90" y="231.71" width="13.05" height="6.57"/>
<rect class="c" x="235.95" y="231.71" width="13.05" height="6.57"/>
<rect class="e" x="249.00" y="231.71" width="13.05" height="6.57"/>
<rect class="e" x="262.05" y="231.71" width="13.05" height="6.57"/>
<rect class="f" x="275.10" y="231.71" width="13.05" height="6.57"/>
<rect class="f" x="288.15" y="231.71" width="13.05" height="6.57"/>
<rect class="c" x="301.20" y="231.71" width="13.05" height="6.57"/>
<rect class="e" x="314.25" y="231.71" width="13.05" height="6.57"/>
<rect class="c" x="327.30" y="231.71" width="13.05" height="6.57"/>
<rect class="e" x="340.35" y="231.71" width="13.05" height="6.57"/>
<rect class="c" x="353.40" y="231.71" width="13.05" height="6.57"/>
<rect class="f" x="66.30" y="238.29" width="13.05" height="6.57"/>
<rect class="f" x="79.35" y="238.29" width="13.05" height="6.57"/>
<rect class="a" x="92.40" y="238.29" width="13.05" height="6.57"/>
<rect class="a" x="105.45" y="238.29" width="13.05" height="6.57"/>
<rect class="a" x="118.50" y="238.29" width="13.05" height="6.57"/>
<rect class="f" x="131.55" y="238.29" width="13.05" height="6.57"/>
<rect class="f" x="144.60" y="238.29" width="13.05" height="6.57"/>
<rect class="f" x="157.65" y="238.29" width="13.05" height="6.57"/>
<rect class="f" x="170.70" y="238.29" width="13.05" height="6.57"/>
<rect class="f" x="183.75" y="238.29" width="13.05" height="6.57"/>
<rect class="a" x="196.80" y="238.29" width="13.05" height="6.57"/>
<rect class="e" x="209.85" y="238.29" width="13.05" height="6.57"/>
<rect class="f" x="222.90" y="238.29" width="13.05" height="6.57"/>
<rect class="f" x="235.95" y="238.29" width="13.05" height="6.57"/>
<rect class="f" x="249.00" y="238.29" width="13.05" height="6.57"/>
<rect class="f" x="262.05" y="238.29" width="13.05" height="6.57"/>
<rect class="e" x="275.10" y="238.29" width="13.05" height="6.57"/>
<rect class="f" x="288.15" y="238.29" width="13.05" height="6.57"/>
<rect class="f" x="301.20" y="238.29" width="13.05" height="6.57"/>
<rect class="e" x="314.25" y="238.29" width="13.05" height="6.57"/>
<rect class="f" x="327.30" y="238.29" width="13.05" height="6.57"/>
<rect class="f" x="340.35" y="238.29" width="13.05" height="6.57"/>
<rect class="f" x="353.40" y="238.29" width="13.05" height="6.57"/>
<rect class="e" x="66.30" y="244.86" width="13.05" height="6.57"/>
<rect class="f" x="79.35" y="244.86" width="13.05" height="6.57"/>
<rect class="a" x="92.40" y="244.86" width="13.05" height="6.57"/>
<rect class="a" x="105.45" y="244.86" width="13.05" height="6.57"/>
<rect class="a" x="118.50" y="244.86" width="13.05" height="6.57"/>
<rect class="f" x="131.55" y="244.86" width="13.05" height="6.57"/>
<rect class="h" x="144.60" y="244.86" width="13.05" height="6.57"/>
<rect class="h" x="157.65" y="244.86" width="13.05" height="6.57"/>
<rect class="h" x="170.70" y="244.86" width="13.05" height="6.57"/>
<rect class="h" x="183.75" y="244.86" width="13.05" height="6.57"/>
<rect class="e" x="196.80" y="244.86" width="13.05" height="6.57"/>
<rect class="c" x="209.85" y="244.86" width="13.05" height="6.57"/>
<rect class="f" x="222.90" y="244.86" width="13.05" height="6.57"/>
<rect class="f" x="235.95" y="244.86" width="13.05" height="6.57"/>
<rect class="f" x="249.00" y="244.86" width="13.05" height="6.57"/>
<rect class="f" x="262.05" y="244.86" width="13.05" height="6.57"/>
<rect class="b" x="275.10" y="244.86" width="13.05" height="6.57"/>
<rect class="f" x="288.15" y="244.86" width="13.05" height="6.57"/>
<rect class="f" x="301.20" y="244.86" width="13.05" height="6.57"/>
<rect class="f" x="314.25" y="244.86" width="13.05" height="6.57"/>
<rect class="f" x="327.30" y="244.86" width="13.05" height="6.57"/>
<rect class="f" x="340.35" y="244.86" width="13.05" height="6.57"/>
<rect class="f" x="353.40" y="244.86" width="13.05" height="6.57"/>
<rect class="c" x="66.30" y="251.43" width="13.05" height="6.57"/>
<rect class="f" x="79.35" y="251.43" width="13.05" height="6.57"/>
<rect class="a" x="92.40" y="251.43" width="13.05" height="6.57"/>
<rect class="f" x="105.45" y="251.43" width="13.05" height="6.57"/>
<rect class="c" x="118.50" y="251.43" width="13.05" height="6.57"/>
<rect class="j" x="131.55" y="251.43" width="13.05" height="6.57"/>
<rect class="j" x="144.60" y="251.43" width="13.05" height="6.57"/>
<rect class="i" x="157.65" y="251.43" width="13.05" height="6.57"/>
<rect class="i" x="170.70" y="251.43" width="13.05" height="6.57"/>
<rect class="i" x="183.75" y="251.43" width="13.05" height="6.57"/>
<rect class="b" x="196.80" y="251.43" width="13.05" height="6.57"/>
<rect class="f" x="209.85" y="251.43" width="13.05" height="6.57"/>
<rect class="b" x="222.90" y="251.43" width="13.05" height="6.57"/>
<rect class="e" x="235.95" y="251.43" width="13.05" height="6.57"/>
<rect class="c" x="249.00" y="251.43" width="13.05" height="6.57"/>
<rect class="e" x="262.05" y="251.43" width="13.05" height="6.57"/>
<rect class="f" x="275.10" y="251.43" width="13.05" height="6.57"/>
<rect class="c" x="288.15" y="251.43" width="13.05" height="6.57"/>
<rect class="e" x="301.20" y="251.43" width="13.05" height="6.57"/>
<rect class="b" x="314.25" y="251.43" width="13.05" height="6.57"/>
<rect class="b" x="327.30" y="251.43" width="13.05" height="6.57"/>
<rect class="b" x="340.35" y="251.43" width="13.05" height="6.57"/>
<rect class="b" x="353.40" y="251.43" width="13.05" height="6.57"/>
<rect class="f" x="66.30" y="258.00" width="13.05" height="6.57"/>
<rect class="i" x="79.35" y="258.00" width="13.05" height="6.57"/>
<rect class="c" x="92.40" y="258.00" width="13.05" height="6.57"/>
<rect class="f" x="105.45" y="258.00" width="13.05" height="6.57"/>
<rect class="a" x="118.50" y="258.00" width="13.05" height="6.57"/>
<rect class="f" x="131.55" y="258.00" width="13.05" height="6.57"/>
<rect class="f" x="144.60" y="258.00" width="13.05" height="6.57"/>
<rect class="h" x="157.65" y="258.00" width="13.05" height="6.57"/>
<rect class="f" x="170.70" y="258.00" width="13.05" height="6.57"/>
<rect class="f" x="183.75" y="258.00" width="13.05" height="6.57"/>
<rect class="b" x="196.80" y="258.00" width="13.05" height="6.57"/>
<rect class="e" x="209.85" y="258.00" width="13.05" height="6.57"/>
<rect class="e" x="222.90" y="258.00" width="13.05" height="6.57"/>
<rect class="e" x="235.95" y="258.00" width="13.05" height="6.57"/>
<rect class="e" x="249.00" y="258.00" width="13.05" height="6.57"/>
<rect class="f" x="262.05" y="258.00" width="13.05" height="6.57"/>
<rect class="e" x="275.10" y="258.00" width="13.05" height="6.57"/>
<rect class="e" x="288.15" y="258.00" width="13.05" height="6.57"/>
<rect class="f" x="301.20" y="258.00" width="13.05" height="6.57"/>
<rect class="h" x="314.25" y="258.00" width="13.05" height="6.57"/>
<rect class="e" x="327.30" y="258.00" width="13.05" height="6.57"/>
<rect class="e" x="340.35" y="258.00" width="13.05" height="6.57"/>
<rect class="e" x="353.40" y="258.00" width="13.05" height="6.57"/>
<rect class="c" x="66.30" y="264.57" width="13.05" height="6.57"/>
<rect class="i" x="79.35" y="264.57" width="13.05" height="6.57"/>
<rect class="e" x="92.40" y="264.57" width="13.05" height="6.57"/>
<rect class="i" x="105.45" y="264.57" width="13.05" height="6.57"/>
<rect class="a" x="118.50" y="264.57" width="13.05" height="6.57"/>
<rect class="j" x="131.55" y="264.57" width="13.05" height="6.57"/>
<rect class="i" x="144.60" y="264.57" width="13.05" height="6.57"/>
<rect class="i" x="157.65" y="264.57" width="13.05" height="6.57"/>
<rect class="i" x="170.70" y="264.57" width="13.05" height="6.57"/>
<rect class="i" x="183.75" y="264.57" width="13.05" height="6.57"/>
<rect class="b" x="196.80" y="264.57" width="13.05" height="6.57"/>
<rect class="a" x="209.85" y="264.57" width="13.05" height="6.57"/>
<rect class="c" x="222.90" y="264.57" width="13.05" height="6.57"/>
<rect class="a" x="235.95" y="264.57" width="13.05" height="6.57"/>
<rect class="e" x="249.00" y="264.57" width="13.05" height="6.57"/>
<rect class="c" x="262.05" y="264.57" width="13.05" height="6.57"/>
<rect class="c" x="275.10" y="264.57" width="13.05" height="6.57"/>
<rect class="e" x="288.15" y="264.57" width="13.05" height="6.57"/>
<rect class="c" x="301.20" y="264.57" width="13.05" height="6.57"/>
<rect class="e" x="314.25" y="264.57" width="13.05" height="6.57"/>
<rect class="c" x="327.30" y="264.57" width="13.05" height="6.57"/>
<rect class="e" x="340.35" y="264.57" width="13.05" height="6.57"/>
<rect class="e" x="353.40" y="264.57" width="13.05" height="6.57"/>
<rect class="h" x="66.30" y="271.14" width="13.05" height="6.57"/>
<rect class="h" x="79.35" y="271.14" width="13.05" height="6.57"/>
<rect class="f" x="92.40" y="271.14" width="13.05" height="6.57"/>
<rect class="e" x="105.45" y="271.14" width="13.05" height="6.57"/>
<rect class="i" x="118.50" y="271.14" width="13.05" height="6.57"/>
<rect class="a" x="131.55" y="271.14" width="13.05" height="6.57"/>
<rect class="a" x="144.60" y="271.14" width="13.05" height="6.57"/>
<rect class="a" x="157.65" y="271.14" width="13.05" height="6.57"/>
<rect class="a" x="170.70" y="271.14" width="13.05" height="6.57"/>
<rect class="a" x="183.75" y="271.14" width="13.05" height="6.57"/>
<rect class="b" x="196.80" y="271.14" width="13.05" height="6.57"/>
<rect class="f" x="209.85" y="271.14" width="13.05" height="6.57"/>
<rect class="h" x="222.90" y="271.14" width="13.05" height="6.57"/>
<rect class="h" x="235.95" y="271.14" width="13.05" height="6.57"/>
<rect class="f" x="249.00" y="271.14" width="13.05" height="6.57"/>
<rect class="h" x="262.05" y="271.14" width="13.05" height="6.57"/>
<rect class="f" x="275.10" y="271.14" width="13.05" height="6.57"/>
<rect class="f" x="288.15" y="271.14" width="13.05" height="6.57"/>
<rect class="h" x="301.20" y="271.14" width="13.05" height="6.57"/>
<rect class="f" x="314.25" y="271.14" width="13.05" height="6.57"/>
<rect class="f" x="327.30" y="271.14" width="13.05" height="6.57"/>
<rect class="h" x="340.35" y="271.14" width="13.05" height="6.57"/>
<rect class="f" x="353.40" y="271.14" width="13.05" height="6.57"/>
<rect class="f" x="66.30" y="277.71" width="13.05" height="6.57"/>
<rect class="i" x="79.35" y="277.71" width="13.05" height="6.57"/>
<rect class="f" x="92.40" y="277.71" width="13.05" height="6.57"/>
<rect class="e" x="105.45" y="277.71" width="13.05" height="6.57"/>
<rect class="f" x="118.50" y="277.71" width="13.05" height="6.57"/>
<rect class="b" x="131.55" y="277.71" width="13.05" height="6.57"/>
<rect class="a" x="144.60" y="277.71" width="13.05" height="6.57"/>
<rect class="b" x="157.65" y="277.71" width="13.05" height="6.57"/>
<rect class="a" x="170.70" y="277.71" width="13.05" height="6.57"/>
<rect class="a" x="183.75" y="277.71" width="13.05" height="6.57"/>
<rect class="b" x="196.80" y="277.71" width="13.05" height="6.57"/>
<rect class="f" x="209.85" y="277.71" width="13.05" height="6.57"/>
<rect class="f" x="222.90" y="277.71" width="13.05" height="6.57"/>
<rect class="f" x="235.95" y="277.71" width="13.05" height="6.57"/>
<rect class="h" x="249.00" y="277.71" width="13.05" height="6.57"/>
<rect class="h" x="262.05" y="277.71" width="13.05" height="6.57"/>
<rect class="f" x="275.10" y="277.71" width="13.05" height="6.57"/>
<rect class="h" x="288.15" y="277.71" width="13.05" height="6.57"/>
<rect class="e" x="301.20" y="277.71" width="13.05" height="6.57"/>
<rect class="f" x="314.25" y="277.71" width="13.05" height="6.57"/>
<rect class="f" x="327.30" y="277.71" width="13.05" height="6.57"/>
<rect class="f" x="340.35" y="277.71" width="13.05" height="6.57"/>
<rect class="e" x="353.40" y="277.71" width="13.05" height="6.57"/>
<rect class="c" x="66.30" y="284.29" width="13.05" height="6.57"/>
<rect class="f" x="79.35" y="284.29" width="13.05" height="6.57"/>
<rect class="c" x="92.40" y="284.29" width="13.05" height="6.57"/>
<rect class="f" x="105.45" y="284.29" width="13.05" height="6.57"/>
<rect class="b" x="118.50" y="284.29" width="13.05" height="6.57"/>
<rect class="c" x="131.55" y="284.29" width="13.05" height="6.57"/>
<rect class="c" x="144.60" y="284.29" width="13.05" height="6.57"/>
<rect class="b" x="157.65" y="284.29" width="13.05" height="6.57"/>
<rect class="b" x="170.70" y="284.29" width="13.05" height="6.57"/>
<rect class="b" x="183.75" y="284.29" width="13.05" height="6.57"/>
<rect class="e" x="196.80" y="284.29" width="13.05" height="6.57"/>
<rect class="j" x="209.85" y="284.29" width="13.05" height="6.57"/>
<rect class="e" x="222.90" y="284.29" width="13.05" height="6.57"/>
<rect class="e" x="235.95" y="284.29" width="13.05" height="6.57"/>
<rect class="f" x="249.00" y="284.29" width="13.05" height="6.57"/>
<rect class="f" x="262.05" y="284.29" width="13.05" height="6.57"/>
<rect class="c" x="275.10" y="284.29" width="13.05" height="6.57"/>
<rect class="c" x="288.15" y="284.29" width="13.05" height="6.57"/>
<rect class="f" x="301.20" y="284.29" width="13.05" height="6.57"/>
<rect class="f" x="314.25" y="284.29" width="13.05" height="6.57"/>
<rect class="h" x="327.30" y="284.29" width="13.05" height="6.57"/>
<rect class="e" x="340.35" y="284.29" width="13.05" height="6.57"/>
<rect class="i" x="353.40" y="284.29" width="13.05" height="6.57"/>
<rect class="a" x="66.30" y="290.86" width="13.05" height="6.57"/>
<rect class="h" x="79.35" y="290.86" width="13.05" height="6.57"/>
<rect class="a" x="92.40" y="290.86" width="13.05" height="6.57"/>
<rect class="a" x="105.45" y="290.86" width="13.05" height="6.57"/>
<rect class="h" x="118.50" y="290.86" width="13.05" height="6.57"/>
<rect class="b" x="131.55" y="290.86" width="13.05" height="6.57"/>
<rect class="b" x="144.60" y="290.86" width="13.05" height="6.57"/>
<rect class="c" x="157.65" y="290.86" width="13.05" height="6.57"/>
<rect class="b" x="170.70" y="290.86" width="13.05" height="6.57"/>
<rect class="b" x="183.75" y="290.86" width="13.05" height="6.57"/>
<rect class="e" x="196.80" y="290.86" width="13.05" height="6.57"/>
<rect class="f" x="209.85" y="290.86" width="13.05" height="6.57"/>
<rect class="h" x="222.90" y="290.86" width="13.05" height="6.57"/>
<rect class="i" x="235.95" y="290.86" width="13.05" height="6.57"/>
<rect class="i" x="249.00" y="290.86" width="13.05" height="6.57"/>
<rect class="i" x="262.05" y="290.86" width="13.05" height="6.57"/>
<rect class="f" x="275.10" y="290.86" width="13.05" height="6.57"/>
<rect class="f" x="288.15" y="290.86" width="13.05" height="6.57"/>
<rect class="i" x="301.20" y="290.86" width="13.05" height="6.57"/>
<rect class="i" x="314.25" y="290.86" width="13.05" height="6.57"/>
<rect class="h" x="327.30" y="290.86" width="13.05" height="6.57"/>
<rect class="h" x="340.35" y="290.86" width="13.05" height="6.57"/>
<rect class="h" x="353.40" y="290.86" width="13.05" height="6.57"/>
<rect class="i" x="66.30" y="297.43" width="13.05" height="6.57"/>
<rect class="j" x="79.35" y="297.43" width="13.05" height="6.57"/>
<rect class="e" x="92.40" y="297.43" width="13.05" height="6.57"/>
<rect class="a" x="105.45" y="297.43" width="13.05" height="6.57"/>
<rect class="f" x="118.50" y="297.43" width="13.05" height="6.57"/>
<rect class="c" x="131.55" y="297.43" width="13.05" height="6.57"/>
<rect class="a" x="144.60" y="297.43" width="13.05" height="6.57"/>
<rect class="c" x="157.65" y="297.43" width="13.05" height="6.57"/>
<rect class="b" x="170.70" y="297.43" width="13.05" height="6.57"/>
<rect class="b" x="183.75" y="297.43" width="13.05" height="6.57"/>
<rect class="b" x="196.80" y="297.43" width="13.05" height="6.57"/>
<rect class="i" x="209.85" y="297.43" width="13.05" height="6.57"/>
<rect class="f" x="222.90" y="297.43" width="13.05" height="6.57"/>
<rect class="f" x="235.95" y="297.43" width="13.05" height="6.57"/>
<rect class="f" x="249.00" y="297.43" width="13.05" height="6.57"/>
<rect class="f" x="262.05" y="297.43" width="13.05" height="6.57"/>
<rect class="e" x="275.10" y="297.43" width="13.05" height="6.57"/>
<rect class="f" x="288.15" y="297.43" width="13.05" height="6.57"/>
<rect class="e" x="301.20" y="297.43" width="13.05" height="6.57"/>
<rect class="c" x="314.25" y="297.43" width="13.05" height="6.57"/>
<rect class="i" x="327.30" y="297.43" width="13.05" height="6.57"/>
<rect class="e" x="340.35" y="297.43" width="13.05" height="6.57"/>
<rect class="e" x="353.40" y="297.43" width="13.05" height="6.57"/>
<rect class="i" x="66.30" y="304.00" width="13.05" height="6.57"/>
<rect class="h" x="79.35" y="304.00" width="13.05" height="6.57"/>
<rect class="f" x="92.40" y="304.00" width="13.05" height="6.57"/>
<rect class="a" x="105.45" y="304.00" width="13.05" height="6.57"/>
<rect class="c" x="118.50" y="304.00" width="13.05" height="6.57"/>
<rect class="a" x="131.55" y="304.00" width="13.05" height="6.57"/>
<rect class="a" x="144.60" y="304.00" width="13.05" height="6.57"/>
<rect class="a" x="157.65" y="304.00" width="13.05" height="6.57"/>
<rect class="b" x="170.70" y="304.00" width="13.05" height="6.57"/>
<rect class="b" x="183.75" y="304.00" width="13.05" height="6.57"/>
<rect class="e" x="196.80" y="304.00" width="13.05" height="6.57"/>
<rect class="f" x="209.85" y="304.00" width="13.05" height="6.57"/>
<rect class="h" x="222.90" y="304.00" width="13.05" height="6.57"/>
<rect class="h" x="235.95" y="304.00" width="13.05" height="6.57"/>
<rect class="h" x="249.00" y="304.00" width="13.05" height="6.57"/>
<rect class="f" x="262.05" y="304.00" width="13.05" height="6.57"/>
<rect class="i" x="275.10" y="304.00" width="13.05" height="6.57"/>
<rect class="f" x="288.15" y="304.00" width="13.05" height="6.57"/>
<rect class="f" x="301.20" y="304.00" width="13.05" height="6.57"/>
<rect class="f" x="314.25" y="304.00" width="13.05" height="6.57"/>
<rect class="f" x="327.30" y="304.00" width="13.05" height="6.57"/>
<rect class="f" x="340.35" y="304.00" width="13.05" height="6.57"/>
<rect class="f" x="353.40" y="304.00" width="13.05" height="6.57"/>
<rect class="h" x="66.30" y="310.57" width="13.05" height="6.57"/>
<rect class="h" x="79.35" y="310.57" width="13.05" height="6.57"/>
<rect class="c" x="92.40" y="310.57" width="13.05" height="6.57"/>
<rect class="a" x="105.45" y="310.57" width="13.05" height="6.57"/>
<rect class="a" x="118.50" y="310.57" width="13.05" height="6.57"/>
<rect class="c" x="131.55" y="310.57" width="13.05" height="6.57"/>
<rect class="a" x="144.60" y="310.57" width="13.05" height="6.57"/>
<rect class="a" x="157.65" y="310.57" width="13.05" height="6.57"/>
<rect class="b" x="170.70" y="310.57" width="13.05" height="6.57"/>
<rect class="b" x="183.75" y="310.57" width="13.05" height="6.57"/>
<rect class="e" x="196.80" y="310.57" width="13.05" height="6.57"/>
<rect class="f" x="209.85" y="310.57" width="13.05" height="6.57"/>
<rect class="h" x="222.90" y="310.57" width="13.05" height="6.57"/>
<rect class="h" x="235.95" y="310.57" width="13.05" height="6.57"/>
<rect class="h" x="249.00" y="310.57" width="13.05" height="6.57"/>
<rect class="h" x="262.05" y="310.57" width="13.05" height="6.57"/>
<rect class="f" x="275.10" y="310.57" width="13.05" height="6.57"/>
<rect class="f" x="288.15" y="310.57" width="13.05" height="6.57"/>
<rect class="h" x="301.20" y="310.57" width="13.05" height="6.57"/>
<rect class="h" x="314.25" y="310.57" width="13.05" height="6.57"/>
<rect class="h" x="327.30" y="310.57" width="13.05" height="6.57"/>
<rect class="h" x="340.35" y="310.57" width="13.05" height="6.57"/>
<rect class="h" x="353.40" y="310.57" width="13.05" height="6.57"/>
<rect class="f" x="66.30" y="317.14" width="13.05" height="6.57"/>
<rect class="i" x="79.35" y="317.14" width="13.05" height="6.57"/>
<rect class="a" x="92.40" y="317.14" width="13.05" height="6.57"/>
<rect class="a" x="105.45" y="317.14" width="13.05" height="6.57"/>
<rect class="a" x="118.50" y="317.14" width="13.05" height="6.57"/>
<rect class="a" x="131.55" y="317.14" width="13.05" height="6.57"/>
<rect class="b" x="144.60" y="317.14" width="13.05" height="6.57"/>
<rect class="b" x="157.65" y="317.14" width="13.05" height="6.57"/>
<rect class="b" x="170.70" y="317.14" width="13.05" height="6.57"/>
<rect class="b" x="183.75" y="317.14" width="13.05" height="6.57"/>
<rect class="e" x="196.80" y="317.14" width="13.05" height="6.57"/>
<rect class="i" x="209.85" y="317.14" width="13.05" height="6.57"/>
<rect class="f" x="222.90" y="317.14" width="13.05" height="6.57"/>
<rect class="h" x="235.95" y="317.14" width="13.05" height="6.57"/>
<rect class="h" x="249.00" y="317.14" width="13.05" height="6.57"/>
<rect class="f" x="262.05" y="317.14" width="13.05" height="6.57"/>
<rect class="f" x="275.10" y="317.14" width="13.05" height="6.57"/>
<rect class="f" x="288.15" y="317.14" width="13.05" height="6.57"/>
<rect class="h" x="301.20" y="317.14" width="13.05" height="6.57"/>
<rect class="h" x="314.25" y="317.14" width="13.05" height="6.57"/>
<rect class="h" x="327.30" y="317.14" width="13.05" height="6.57"/>
<rect class="h" x="340.35" y="317.14" width="13.05" height="6.57"/>
<rect class="h" x="353.40" y="317.14" width="13.05" height="6.57"/>
<rect class="c" x="66.30" y="323.71" width="13.05" height="6.57"/>
<rect class="i" x="79.35" y="323.71" width="13.05" height="6.57"/>
<rect class="f" x="92.40" y="323.71" width="13.05" height="6.57"/>
<rect class="j" x="105.45" y="323.71" width="13.05" height="6.57"/>
<rect class="j" x="118.50" y="323.71" width="13.05" height="6.57"/>
<rect class="e" x="131.55" y="323.71" width="13.05" height="6.57"/>
<rect class="e" x="144.60" y="323.71" width="13.05" height="6.57"/>
<rect class="b" x="157.65" y="323.71" width="13.05" height="6.57"/>
<rect class="e" x="170.70" y="323.71" width="13.05" height="6.57"/>
<rect class="b" x="183.75" y="323.71" width="13.05" height="6.57"/>
<rect class="f" x="196.80" y="323.71" width="13.05" height="6.57"/>
<rect class="b" x="209.85" y="323.71" width="13.05" height="6.57"/>
<rect class="a" x="222.90" y="323.71" width="13.05" height="6.57"/>
<rect class="c" x="235.95" y="323.71" width="13.05" height="6.57"/>
<rect class="e" x="249.00" y="323.71" width="13.05" height="6.57"/>
<rect class="e" x="262.05" y="323.71" width="13.05" height="6.57"/>
<rect class="e" x="275.10" y="323.71" width="13.05" height="6.57"/>
<rect class="e" x="288.15" y="323.71" width="13.05" height="6.57"/>
<rect class="e" x="301.20" y="323.71" width="13.05" height="6.57"/>
<rect class="e" x="314.25" y="323.71" width="13.05" height="6.57"/>
<rect class="c" x="327.30" y="323.71" width="13.05" height="6.57"/>
<rect class="f" x="340.35" y="323.71" width="13.05" height="6.57"/>
<rect class="f" x="353.40" y="323.71" width="13.05" height="6.57"/>
<rect class="j" x="66.30" y="330.29" width="13.05" height="6.57"/>
<rect class="j" x="79.35" y="330.29" width="13.05" height="6.57"/>
<rect class="h" x="92.40" y="330.29" width="13.05" height="6.57"/>
<rect class="c" x="105.45" y="330.29" width="13.05" height="6.57"/>
<rect class="c" x="118.50" y="330.29" width="13.05" height="6.57"/>
<rect class="e" x="131.55" y="330.29" width="13.05" height="6.57"/>
<rect class="c" x="144.60" y="330.29" width="13.05" height="6.57"/>
<rect class="e" x="157.65" y="330.29" width="13.05" height="6.57"/>
<rect class="e" x="170.70" y="330.29" width="13.05" height="6.57"/>
<rect class="e" x="183.75" y="330.29" width="13.05" height="6.57"/>
<rect class="a" x="196.80" y="330.29" width="13.05" height="6.57"/>
<rect class="e" x="209.85" y="330.29" width="13.05" height="6.57"/>
<rect class="e" x="222.90" y="330.29" width="13.05" height="6.57"/>
<rect class="e" x="235.95" y="330.29" width="13.05" height="6.57"/>
<rect class="e" x="249.00" y="330.29" width="13.05" height="6.57"/>
<rect class="e" x="262.05" y="330.29" width="13.05" height="6.57"/>
<rect class="b" x="275.10" y="330.29" width="13.05" height="6.57"/>
<rect class="e" x="288.15" y="330.29" width="13.05" height="6.57"/>
<rect class="b" x="301.20" y="330.29" width="13.05" height="6.57"/>
<rect class="b" x="314.25" y="330.29" width="13.05" height="6.57"/>
<rect class="e" x="327.30" y="330.29" width="13.05" height="6.57"/>
<rect class="c" x="340.35" y="330.29" width="13.05" height="6.57"/>
<rect class="c" x="353.40" y="330.29" width="13.05" height="6.57"/>
<rect class="f" x="66.30" y="336.86" width="13.05" height="6.57"/>
<rect class="h" x="79.35" y="336.86" width="13.05" height="6.57"/>
<rect class="f" x="92.40" y="336.86" width="13.05" height="6.57"/>
<rect class="i" x="105.45" y="336.86" width="13.05" height="6.57"/>
<rect class="i" x="118.50" y="336.86" width="13.05" height="6.57"/>
<rect class="i" x="131.55" y="336.86" width="13.05" height="6.57"/>
<rect class="i" x="144.60" y="336.86" width="13.05" height="6.57"/>
<rect class="i" x="157.65" y="336.86" width="13.05" height="6.57"/>
<rect class="i" x="170.70" y="336.86" width="13.05" height="6.57"/>
<rect class="i" x="183.75" y="336.86" width="13.05" height="6.57"/>
<rect class="b" x="196.80" y="336.86" width="13.05" height="6.57"/>
<rect class="b" x="209.85" y="336.86" width="13.05" height="6.57"/>
<rect class="c" x="222.90" y="336.86" width="13.05" height="6.57"/>
<rect class="c" x="235.95" y="336.86" width="13.05" height="6.57"/>
<rect class="c" x="249.00" y="336.86" width="13.05" height="6.57"/>
<rect class="e" x="262.05" y="336.86" width="13.05" height="6.57"/>
<rect class="b" x="275.10" y="336.86" width="13.05" height="6.57"/>
<rect class="c" x="288.15" y="336.86" width="13.05" height="6.57"/>
<rect class="b" x="301.20" y="336.86" width="13.05" height="6.57"/>
<rect class="b" x="314.25" y="336.86" width="13.05" height="6.57"/>
<rect class="b" x="327.30" y="336.86" width="13.05" height="6.57"/>
<rect class="b" x="340.35" y="336.86" width="13.05" height="6.57"/>
<rect class="b" x="353.40" y="336.86" width="13.05" height="6.57"/>
<rect class="i" x="66.30" y="343.43" width="13.05" height="6.57"/>
<rect class="h" x="79.35" y="343.43" width="13.05" height="6.57"/>
<rect class="f" x="92.40" y="343.43" width="13.05" height="6.57"/>
<rect class="i" x="105.45" y="343.43" width="13.05" height="6.57"/>
<rect class="f" x="118.50" y="343.43" width="13.05" height="6.57"/>
<rect class="i" x="131.55" y="343.43" width="13.05" height="6.57"/>
<rect class="h" x="144.60" y="343.43" width="13.05" height="6.57"/>
<rect class="f" x="157.65" y="343.43" width="13.05" height="6.57"/>
<rect class="h" x="170.70" y="343.43" width="13.05" height="6.57"/>
<rect class="f" x="183.75" y="343.43" width="13.05" height="6.57"/>
<rect class="b" x="196.80" y="343.43" width="13.05" height="6.57"/>
<rect class="c" x="209.85" y="343.43" width="13.05" height="6.57"/>
<rect class="e" x="222.90" y="343.43" width="13.05" height="6.57"/>
<rect class="i" x="235.95" y="343.43" width="13.05" height="6.57"/>
<rect class="e" x="249.00" y="343.43" width="13.05" height="6.57"/>
<rect class="e" x="262.05" y="343.43" width="13.05" height="6.57"/>
<rect class="a" x="275.10" y="343.43" width="13.05" height="6.57"/>
<rect class="c" x="288.15" y="343.43" width="13.05" height="6.57"/>
<rect class="a" x="301.20" y="343.43" width="13.05" height="6.57"/>
<rect class="a" x="314.25" y="343.43" width="13.05" height="6.57"/>
<rect class="e" x="327.30" y="343.43" width="13.05" height="6.57"/>
<rect class="e" x="340.35" y="343.43" width="13.05" height="6.57"/>
<rect class="e" x="353.40" y="343.43" width="13.05" height="6.57"/>
<rect x="66.30" y="64.00" width="13.10" height="8.00" fill="#29a9e1"/>
<rect x="79.35" y="64.00" width="13.10" height="8.00" fill="#29a9e1"/>
<rect x="92.40" y="64.00" width="13.10" height="8.00" fill="#29a9e1"/>
<rect x="105.45" y="64.00" width="13.10" height="8.00" fill="#29a9e1"/>
<rect x="118.50" y="64.00" width="13.10" height="8.00" fill="#29a9e1"/>
<rect x="131.55" y="64.00" width="13.10" height="8.00" fill="#f6b81a"/>
<rect x="144.60" y="64.00" width="13.10" height="8.00" fill="#f6b81a"/>
<rect x="157.65" y="64.00" width="13.10" height="8.00" fill="#f6b81a"/>
<rect x="170.70" y="64.00" width="13.10" height="8.00" fill="#f6b81a"/>
<rect x="183.75" y="64.00" width="13.10" height="8.00" fill="#f6b81a"/>
<rect x="196.80" y="64.00" width="13.10" height="8.00" fill="#f6b81a"/>
<rect x="209.85" y="64.00" width="13.10" height="8.00" fill="#4b1a6b"/>
<rect x="222.90" y="64.00" width="13.10" height="8.00" fill="#29a9e1"/>
<rect x="235.95" y="64.00" width="13.10" height="8.00" fill="#4b1a6b"/>
<rect x="249.00" y="64.00" width="13.10" height="8.00" fill="#4b1a6b"/>
<rect x="262.05" y="64.00" width="13.10" height="8.00" fill="#4b1a6b"/>
<rect x="275.10" y="64.00" width="13.10" height="8.00" fill="#4b1a6b"/>
<rect x="288.15" y="64.00" width="13.10" height="8.00" fill="#4b1a6b"/>
<rect x="301.20" y="64.00" width="13.10" height="8.00" fill="#4b1a6b"/>
<rect x="314.25" y="64.00" width="13.10" height="8.00" fill="#f6b81a"/>
<rect x="327.30" y="64.00" width="13.10" height="8.00" fill="#29a9e1"/>
<rect x="340.35" y="64.00" width="13.10" height="8.00" fill="#4b1a6b"/>
<rect x="353.40" y="64.00" width="13.10" height="8.00" fill="#f6b81a"/>
<rect x="57.85" y="74.25" width="5.70" height="6.07" fill="#fff" stroke="#ebe8ee" stroke-width="0.5"/>
<rect x="57.85" y="80.82" width="5.70" height="6.07" fill="#fff" stroke="#ebe8ee" stroke-width="0.5"/>
<rect x="57.60" y="87.09" width="6.20" height="6.67" fill="#c97a2a"/>
<rect x="57.60" y="93.66" width="6.20" height="6.67" fill="#c97a2a"/>
<rect x="57.60" y="100.24" width="6.20" height="6.67" fill="#c97a2a"/>
<rect x="57.60" y="106.81" width="6.20" height="6.67" fill="#c97a2a"/>
<rect x="57.60" y="113.38" width="6.20" height="6.67" fill="#c97a2a"/>
<rect x="57.60" y="119.95" width="6.20" height="6.67" fill="#c97a2a"/>
<rect x="57.85" y="126.82" width="5.70" height="6.07" fill="#fff" stroke="#ebe8ee" stroke-width="0.5"/>
<rect x="57.85" y="133.39" width="5.70" height="6.07" fill="#fff" stroke="#ebe8ee" stroke-width="0.5"/>
<rect x="57.85" y="139.96" width="5.70" height="6.07" fill="#fff" stroke="#ebe8ee" stroke-width="0.5"/>
<rect x="57.60" y="146.24" width="6.20" height="6.67" fill="#c97a2a"/>
<rect x="57.60" y="152.81" width="6.20" height="6.67" fill="#c97a2a"/>
<rect x="57.85" y="159.68" width="5.70" height="6.07" fill="#fff" stroke="#ebe8ee" stroke-width="0.5"/>
<rect x="57.85" y="166.25" width="5.70" height="6.07" fill="#fff" stroke="#ebe8ee" stroke-width="0.5"/>
<rect x="57.85" y="172.82" width="5.70" height="6.07" fill="#fff" stroke="#ebe8ee" stroke-width="0.5"/>
<rect x="57.60" y="179.09" width="6.20" height="6.67" fill="#c97a2a"/>
<rect x="57.60" y="185.66" width="6.20" height="6.67" fill="#c97a2a"/>
<rect x="57.60" y="192.24" width="6.20" height="6.67" fill="#c97a2a"/>
<rect x="57.60" y="198.81" width="6.20" height="6.67" fill="#c97a2a"/>
<rect x="57.60" y="205.38" width="6.20" height="6.67" fill="#c97a2a"/>
<rect x="57.60" y="211.95" width="6.20" height="6.67" fill="#c97a2a"/>
<rect x="57.60" y="218.52" width="6.20" height="6.67" fill="#c97a2a"/>
<rect x="57.85" y="225.39" width="5.70" height="6.07" fill="#fff" stroke="#ebe8ee" stroke-width="0.5"/>
<rect x="57.85" y="231.96" width="5.70" height="6.07" fill="#fff" stroke="#ebe8ee" stroke-width="0.5"/>
<rect x="57.85" y="238.54" width="5.70" height="6.07" fill="#fff" stroke="#ebe8ee" stroke-width="0.5"/>
<rect x="57.60" y="244.81" width="6.20" height="6.67" fill="#c97a2a"/>
<rect x="57.85" y="251.68" width="5.70" height="6.07" fill="#fff" stroke="#ebe8ee" stroke-width="0.5"/>
<rect x="57.85" y="258.25" width="5.70" height="6.07" fill="#fff" stroke="#ebe8ee" stroke-width="0.5"/>
<rect x="57.85" y="264.82" width="5.70" height="6.07" fill="#fff" stroke="#ebe8ee" stroke-width="0.5"/>
<rect x="57.60" y="271.09" width="6.20" height="6.67" fill="#c97a2a"/>
<rect x="57.60" y="277.66" width="6.20" height="6.67" fill="#c97a2a"/>
<rect x="57.85" y="284.54" width="5.70" height="6.07" fill="#fff" stroke="#ebe8ee" stroke-width="0.5"/>
<rect x="57.85" y="291.11" width="5.70" height="6.07" fill="#fff" stroke="#ebe8ee" stroke-width="0.5"/>
<rect x="57.60" y="297.38" width="6.20" height="6.67" fill="#c97a2a"/>
<rect x="57.60" y="303.95" width="6.20" height="6.67" fill="#c97a2a"/>
<rect x="57.85" y="310.82" width="5.70" height="6.07" fill="#fff" stroke="#ebe8ee" stroke-width="0.5"/>
<rect x="57.60" y="317.09" width="6.20" height="6.67" fill="#c97a2a"/>
<rect x="57.85" y="323.96" width="5.70" height="6.07" fill="#fff" stroke="#ebe8ee" stroke-width="0.5"/>
<rect x="57.85" y="330.54" width="5.70" height="6.07" fill="#fff" stroke="#ebe8ee" stroke-width="0.5"/>
<rect x="57.85" y="337.11" width="5.70" height="6.07" fill="#fff" stroke="#ebe8ee" stroke-width="0.5"/>
<rect x="57.85" y="343.68" width="5.70" height="6.07" fill="#fff" stroke="#ebe8ee" stroke-width="0.5"/>
<text x="370.60" y="79.04" font-size="5" fill="#333">CREBBP</text>
<text x="370.60" y="85.61" font-size="5" fill="#333">MAP2K1</text>
<text x="370.60" y="92.18" font-size="5" fill="#333">TNFRSF17</text>
<text x="370.60" y="98.75" font-size="5" fill="#333">MICB</text>
<text x="370.60" y="105.32" font-size="5" fill="#333">POU2AF1</text>
<text x="370.60" y="111.89" font-size="5" fill="#333">LILRB2</text>
<text x="370.60" y="118.46" font-size="5" fill="#333">TTK</text>
<text x="370.60" y="125.04" font-size="5" fill="#333">SLAMF6</text>
<text x="370.60" y="131.61" font-size="5" fill="#333">TANK</text>
<text x="370.60" y="138.18" font-size="5" fill="#333">IL10RA</text>
<text x="370.60" y="144.75" font-size="5" fill="#333">LILRB1</text>
<text x="370.60" y="151.32" font-size="5" fill="#333">ISG20</text>
<text x="370.60" y="157.89" font-size="5" fill="#333">SH2B2</text>
<text x="370.60" y="164.46" font-size="5" fill="#333">CD38</text>
<text x="370.60" y="171.04" font-size="5" fill="#333">CD27</text>
<text x="370.60" y="177.61" font-size="5" fill="#333">ETS1</text>
<text x="370.60" y="184.18" font-size="5" fill="#333">HMGB1</text>
<text x="370.60" y="190.75" font-size="5" fill="#333">CDK1</text>
<text x="370.60" y="197.32" font-size="5" fill="#333">MAPK1</text>
<text x="370.60" y="203.89" font-size="5" fill="#333">CXCR4</text>
<text x="370.60" y="210.46" font-size="5" fill="#333">IRF8</text>
<text x="370.60" y="217.04" font-size="5" fill="#333">IFI16</text>
<text x="370.60" y="223.61" font-size="5" fill="#333">ANP32B</text>
<text x="370.60" y="230.18" font-size="5" fill="#333">EWSR1</text>
<text x="370.60" y="236.75" font-size="5" fill="#333">ATM</text>
<text x="370.60" y="243.32" font-size="5" fill="#333">MME</text>
<text x="370.60" y="249.89" font-size="5" fill="#333">TICAM1</text>
<text x="370.60" y="256.46" font-size="5" fill="#333">ITGB1</text>
<text x="370.60" y="263.04" font-size="5" fill="#333">CCND3</text>
<text x="370.60" y="269.61" font-size="5" fill="#333">NUP107</text>
<text x="370.60" y="276.18" font-size="5" fill="#333">BLK</text>
<text x="370.60" y="282.75" font-size="5" fill="#333">MAP4K2</text>
<text x="370.60" y="289.32" font-size="5" fill="#333">BIRC5</text>
<text x="370.60" y="295.89" font-size="5" fill="#333">AICDA</text>
<text x="370.60" y="302.46" font-size="5" fill="#333">CD79B</text>
<text x="370.60" y="309.04" font-size="5" fill="#333">BCL6</text>
<text x="370.60" y="315.61" font-size="5" fill="#333">IL4R</text>
<text x="370.60" y="322.18" font-size="5" fill="#333">SYK</text>
<text x="370.60" y="328.75" font-size="5" fill="#333">PSMB7</text>
<text x="370.60" y="335.32" font-size="5" fill="#333">LTB</text>
<text x="370.60" y="341.89" font-size="5" fill="#333">CTCFL</text>
<text x="370.60" y="348.46" font-size="5" fill="#333">MX1</text>
<text x="70.12" y="354.20" font-size="7.6" fill="#333" transform="rotate(90 70.12 354.20)">BL1</text>
<text x="83.17" y="354.20" font-size="7.6" fill="#333" transform="rotate(90 83.17 354.20)">BL3</text>
<text x="96.22" y="354.20" font-size="7.6" fill="#333" transform="rotate(90 96.22 354.20)">BL5</text>
<text x="109.27" y="354.20" font-size="7.6" fill="#333" transform="rotate(90 109.27 354.20)">BL2</text>
<text x="122.33" y="354.20" font-size="7.6" fill="#333" transform="rotate(90 122.33 354.20)">BL4</text>
<text x="135.38" y="354.20" font-size="7.6" fill="#333" transform="rotate(90 135.38 354.20)">BL7</text>
<text x="148.43" y="354.20" font-size="7.6" fill="#333" transform="rotate(90 148.43 354.20)">BL9</text>
<text x="161.48" y="354.20" font-size="7.6" fill="#333" transform="rotate(90 161.48 354.20)">BL10</text>
<text x="174.53" y="354.20" font-size="7.6" fill="#333" transform="rotate(90 174.53 354.20)">BL6</text>
<text x="187.58" y="354.20" font-size="7.6" fill="#333" transform="rotate(90 187.58 354.20)">BL8</text>
<text x="200.62" y="354.20" font-size="7.6" fill="#333" transform="rotate(90 200.62 354.20)">BL21</text>
<text x="213.68" y="354.20" font-size="7.6" fill="#333" transform="rotate(90 213.68 354.20)">BL17</text>
<text x="226.73" y="354.20" font-size="7.6" fill="#333" transform="rotate(90 226.73 354.20)">BL23</text>
<text x="239.78" y="354.20" font-size="7.6" fill="#333" transform="rotate(90 239.78 354.20)">BL14</text>
<text x="252.83" y="354.20" font-size="7.6" fill="#333" transform="rotate(90 252.83 354.20)">BL16</text>
<text x="265.88" y="354.20" font-size="7.6" fill="#333" transform="rotate(90 265.88 354.20)">BL15</text>
<text x="278.93" y="354.20" font-size="7.6" fill="#333" transform="rotate(90 278.93 354.20)">BL13</text>
<text x="291.98" y="354.20" font-size="7.6" fill="#333" transform="rotate(90 291.98 354.20)">BL18</text>
<text x="305.03" y="354.20" font-size="7.6" fill="#333" transform="rotate(90 305.03 354.20)">BL12</text>
<text x="318.08" y="354.20" font-size="7.6" fill="#333" transform="rotate(90 318.08 354.20)">BL19</text>
<text x="331.13" y="354.20" font-size="7.6" fill="#333" transform="rotate(90 331.13 354.20)">BL22</text>
<text x="344.18" y="354.20" font-size="7.6" fill="#333" transform="rotate(90 344.18 354.20)">BL11</text>
<text x="357.23" y="354.20" font-size="7.6" fill="#333" transform="rotate(90 357.23 354.20)">BL20</text>
<text x="58.10" y="354.20" font-size="7.4" fill="#555" transform="rotate(90 58.10 354.20)">significance</text>
<path d="M72.83 49.50L85.88 49.50 M72.83 49.50L72.83 64.00 M85.88 49.50L85.88 64.00 M111.97 48.40L125.03 48.40 M111.97 48.40L111.97 64.00 M125.03 48.40L125.03 64.00 M98.92 47.50L118.50 47.50 M98.92 47.50L98.92 64.00 M118.50 47.50L118.50 48.40 M79.35 39.20L108.71 39.20 M79.35 39.20L79.35 49.50 M108.71 39.20L108.71 47.50 M138.07 61.00L151.12 61.00 M138.07 61.00L138.07 64.00 M151.12 61.00L151.12 64.00 M177.23 61.80L190.28 61.80 M177.23 61.80L177.23 64.00 M190.28 61.80L190.28 64.00 M164.18 60.50L183.75 60.50 M164.18 60.50L164.18 64.00 M183.75 60.50L183.75 61.80 M144.60 58.20L173.96 58.20 M144.60 58.20L144.60 61.00 M173.96 58.20L173.96 60.50 M242.48 61.20L255.53 61.20 M242.48 61.20L242.48 64.00 M255.53 61.20L255.53 64.00 M229.43 58.40L249.00 58.40 M229.43 58.40L229.43 64.00 M249.00 58.40L249.00 61.20 M268.57 60.90L281.62 60.90 M268.57 60.90L268.57 64.00 M281.62 60.90L281.62 64.00 M294.68 60.90L307.73 60.90 M294.68 60.90L294.68 64.00 M307.73 60.90L307.73 64.00 M275.10 59.50L301.20 59.50 M275.10 59.50L275.10 60.90 M301.20 59.50L301.20 60.90 M320.78 60.90L333.83 60.90 M320.78 60.90L320.78 64.00 M333.83 60.90L333.83 64.00 M346.88 60.90L359.93 60.90 M346.88 60.90L346.88 64.00 M359.93 60.90L359.93 64.00 M327.30 58.50L353.40 58.50 M327.30 58.50L327.30 60.90 M353.40 58.50L353.40 60.90 M288.15 57.20L340.35 57.20 M288.15 57.20L288.15 59.50 M340.35 57.20L340.35 58.50 M239.21 56.60L314.25 56.60 M239.21 56.60L239.21 58.40 M314.25 56.60L314.25 57.20 M216.38 55.80L276.73 55.80 M216.38 55.80L216.38 64.00 M276.73 55.80L276.73 56.60 M203.32 52.60L246.55 52.60 M203.32 52.60L203.32 64.00 M246.55 52.60L246.55 55.80 M159.28 35.30L224.94 35.30 M159.28 35.30L159.28 58.20 M224.94 35.30L224.94 52.60 M94.03 22.80L192.11 22.80 M94.03 22.80L94.03 39.20 M192.11 22.80L192.11 35.30" stroke="#5e5e5e" stroke-width="1.15" fill="none" stroke-linecap="square"/>
<path d="M48.60 77.29L48.60 83.86 M48.60 77.29L57.20 77.29 M48.60 83.86L57.20 83.86 M55.50 103.57L55.50 110.14 M55.50 103.57L57.20 103.57 M55.50 110.14L57.20 110.14 M54.00 97.00L54.00 106.86 M54.00 97.00L57.20 97.00 M54.00 106.86L55.50 106.86 M53.00 116.71L53.00 123.29 M53.00 116.71L57.20 116.71 M53.00 123.29L57.20 123.29 M51.60 101.93L51.60 120.00 M51.60 101.93L54.00 101.93 M51.60 120.00L53.00 120.00 M47.10 90.43L47.10 110.96 M47.10 90.43L57.20 90.43 M47.10 110.96L51.60 110.96 M53.90 129.86L53.90 136.43 M53.90 129.86L57.20 129.86 M53.90 136.43L57.20 136.43 M49.00 133.14L49.00 143.00 M49.00 133.14L53.90 133.14 M49.00 143.00L57.20 143.00 M53.00 149.57L53.00 156.14 M53.00 149.57L57.20 149.57 M53.00 156.14L57.20 156.14 M53.90 162.71L53.90 169.29 M53.90 162.71L57.20 162.71 M53.90 169.29L57.20 169.29 M50.00 166.00L50.00 175.86 M50.00 166.00L53.90 166.00 M50.00 175.86L57.20 175.86 M47.50 152.86L47.50 170.93 M47.50 152.86L53.00 152.86 M47.50 170.93L50.00 170.93 M45.50 138.07L45.50 161.89 M45.50 138.07L49.00 138.07 M45.50 161.89L47.50 161.89 M44.50 100.70L44.50 149.98 M44.50 100.70L47.10 100.70 M44.50 149.98L45.50 149.98 M41.00 80.57L41.00 125.34 M41.00 80.57L48.60 80.57 M41.00 125.34L44.50 125.34 M53.90 182.43L53.90 189.00 M53.90 182.43L57.20 182.43 M53.90 189.00L57.20 189.00 M48.00 185.71L48.00 195.57 M48.00 185.71L53.90 185.71 M48.00 195.57L57.20 195.57 M53.90 202.14L53.90 208.71 M53.90 202.14L57.20 202.14 M53.90 208.71L57.20 208.71 M53.90 215.29L53.90 221.86 M53.90 215.29L57.20 215.29 M53.90 221.86L57.20 221.86 M47.00 205.43L47.00 218.57 M47.00 205.43L53.90 205.43 M47.00 218.57L53.90 218.57 M44.00 190.64L44.00 212.00 M44.00 190.64L48.00 190.64 M44.00 212.00L47.00 212.00 M53.90 228.43L53.90 235.00 M53.90 228.43L57.20 228.43 M53.90 235.00L57.20 235.00 M48.00 231.71L48.00 241.57 M48.00 231.71L53.90 231.71 M48.00 241.57L57.20 241.57 M53.90 248.14L53.90 254.71 M53.90 248.14L57.20 248.14 M53.90 254.71L57.20 254.71 M53.90 261.29L53.90 267.86 M53.90 261.29L57.20 261.29 M53.90 267.86L57.20 267.86 M46.00 251.43L46.00 264.57 M46.00 251.43L53.90 251.43 M46.00 264.57L53.90 264.57 M42.50 236.64L42.50 258.00 M42.50 236.64L48.00 236.64 M42.50 258.00L46.00 258.00 M39.90 201.32L39.90 247.32 M39.90 201.32L44.00 201.32 M39.90 247.32L42.50 247.32 M34.50 102.96L34.50 224.32 M34.50 102.96L41.00 102.96 M34.50 224.32L39.90 224.32 M52.00 274.43L52.00 281.00 M52.00 274.43L57.20 274.43 M52.00 281.00L57.20 281.00 M53.90 287.57L53.90 294.14 M53.90 287.57L57.20 287.57 M53.90 294.14L57.20 294.14 M50.00 290.86L50.00 300.71 M50.00 290.86L53.90 290.86 M50.00 300.71L57.20 300.71 M53.90 307.29L53.90 313.86 M53.90 307.29L57.20 307.29 M53.90 313.86L57.20 313.86 M50.00 310.57L50.00 320.43 M50.00 310.57L53.90 310.57 M50.00 320.43L57.20 320.43 M47.50 295.79L47.50 315.50 M47.50 295.79L50.00 295.79 M47.50 315.50L50.00 315.50 M46.30 277.71L46.30 305.64 M46.30 277.71L52.00 277.71 M46.30 305.64L47.50 305.64 M53.00 340.14L53.00 346.71 M53.00 340.14L57.20 340.14 M53.00 346.71L57.20 346.71 M49.00 333.57L49.00 343.43 M49.00 333.57L57.20 333.57 M49.00 343.43L53.00 343.43 M43.50 327.00L43.50 338.50 M43.50 327.00L57.20 327.00 M43.50 338.50L49.00 338.50 M31.60 291.68L31.60 332.75 M31.60 291.68L46.30 291.68 M31.60 332.75L43.50 332.75 M21.70 163.64L21.70 312.21 M21.70 163.64L34.50 163.64 M21.70 312.21L31.60 312.21" stroke="#5e5e5e" stroke-width="1.15" fill="none" stroke-linecap="square"/>
<rect class="c" x="66.20" y="476.00" width="13.05" height="6.30"/>
<rect class="c" x="79.25" y="476.00" width="13.05" height="6.30"/>
<rect class="c" x="92.30" y="476.00" width="13.05" height="6.30"/>
<rect class="c" x="105.35" y="476.00" width="13.05" height="6.30"/>
<rect class="c" x="118.40" y="476.00" width="13.05" height="6.30"/>
<rect class="c" x="131.45" y="476.00" width="13.05" height="6.30"/>
<rect class="c" x="144.50" y="476.00" width="13.05" height="6.30"/>
<rect class="i" x="157.55" y="476.00" width="13.05" height="6.30"/>
<rect class="c" x="170.60" y="476.00" width="13.05" height="6.30"/>
<rect class="c" x="183.65" y="476.00" width="13.05" height="6.30"/>
<rect class="j" x="196.70" y="476.00" width="13.05" height="6.30"/>
<rect class="i" x="209.75" y="476.00" width="13.05" height="6.30"/>
<rect class="i" x="222.80" y="476.00" width="13.05" height="6.30"/>
<rect class="i" x="235.85" y="476.00" width="13.05" height="6.30"/>
<rect class="i" x="248.90" y="476.00" width="13.05" height="6.30"/>
<rect class="c" x="261.95" y="476.00" width="13.05" height="6.30"/>
<rect class="c" x="275.00" y="476.00" width="13.05" height="6.30"/>
<rect class="c" x="288.05" y="476.00" width="13.05" height="6.30"/>
<rect class="e" x="301.10" y="476.00" width="13.05" height="6.30"/>
<rect class="f" x="314.15" y="476.00" width="13.05" height="6.30"/>
<rect class="c" x="327.20" y="476.00" width="13.05" height="6.30"/>
<rect class="c" x="340.25" y="476.00" width="13.05" height="6.30"/>
<rect class="c" x="353.30" y="476.00" width="13.05" height="6.30"/>
<rect class="i" x="66.20" y="482.30" width="13.05" height="6.30"/>
<rect class="i" x="79.25" y="482.30" width="13.05" height="6.30"/>
<rect class="i" x="92.30" y="482.30" width="13.05" height="6.30"/>
<rect class="f" x="105.35" y="482.30" width="13.05" height="6.30"/>
<rect class="f" x="118.40" y="482.30" width="13.05" height="6.30"/>
<rect class="a" x="131.45" y="482.30" width="13.05" height="6.30"/>
<rect class="b" x="144.50" y="482.30" width="13.05" height="6.30"/>
<rect class="a" x="157.55" y="482.30" width="13.05" height="6.30"/>
<rect class="b" x="170.60" y="482.30" width="13.05" height="6.30"/>
<rect class="a" x="183.65" y="482.30" width="13.05" height="6.30"/>
<rect class="f" x="196.70" y="482.30" width="13.05" height="6.30"/>
<rect class="f" x="209.75" y="482.30" width="13.05" height="6.30"/>
<rect class="f" x="222.80" y="482.30" width="13.05" height="6.30"/>
<rect class="f" x="235.85" y="482.30" width="13.05" height="6.30"/>
<rect class="f" x="248.90" y="482.30" width="13.05" height="6.30"/>
<rect class="h" x="261.95" y="482.30" width="13.05" height="6.30"/>
<rect class="f" x="275.00" y="482.30" width="13.05" height="6.30"/>
<rect class="e" x="288.05" y="482.30" width="13.05" height="6.30"/>
<rect class="f" x="301.10" y="482.30" width="13.05" height="6.30"/>
<rect class="f" x="314.15" y="482.30" width="13.05" height="6.30"/>
<rect class="f" x="327.20" y="482.30" width="13.05" height="6.30"/>
<rect class="f" x="340.25" y="482.30" width="13.05" height="6.30"/>
<rect class="e" x="353.30" y="482.30" width="13.05" height="6.30"/>
<rect class="f" x="66.20" y="488.60" width="13.05" height="6.30"/>
<rect class="b" x="79.25" y="488.60" width="13.05" height="6.30"/>
<rect class="b" x="92.30" y="488.60" width="13.05" height="6.30"/>
<rect class="b" x="105.35" y="488.60" width="13.05" height="6.30"/>
<rect class="b" x="118.40" y="488.60" width="13.05" height="6.30"/>
<rect class="e" x="131.45" y="488.60" width="13.05" height="6.30"/>
<rect class="b" x="144.50" y="488.60" width="13.05" height="6.30"/>
<rect class="c" x="157.55" y="488.60" width="13.05" height="6.30"/>
<rect class="b" x="170.60" y="488.60" width="13.05" height="6.30"/>
<rect class="b" x="183.65" y="488.60" width="13.05" height="6.30"/>
<rect class="h" x="196.70" y="488.60" width="13.05" height="6.30"/>
<rect class="f" x="209.75" y="488.60" width="13.05" height="6.30"/>
<rect class="h" x="222.80" y="488.60" width="13.05" height="6.30"/>
<rect class="h" x="235.85" y="488.60" width="13.05" height="6.30"/>
<rect class="f" x="248.90" y="488.60" width="13.05" height="6.30"/>
<rect class="f" x="261.95" y="488.60" width="13.05" height="6.30"/>
<rect class="f" x="275.00" y="488.60" width="13.05" height="6.30"/>
<rect class="h" x="288.05" y="488.60" width="13.05" height="6.30"/>
<rect class="i" x="301.10" y="488.60" width="13.05" height="6.30"/>
<rect class="i" x="314.15" y="488.60" width="13.05" height="6.30"/>
<rect class="h" x="327.20" y="488.60" width="13.05" height="6.30"/>
<rect class="h" x="340.25" y="488.60" width="13.05" height="6.30"/>
<rect class="f" x="353.30" y="488.60" width="13.05" height="6.30"/>
<rect class="i" x="66.20" y="494.91" width="13.05" height="6.30"/>
<rect class="i" x="79.25" y="494.91" width="13.05" height="6.30"/>
<rect class="c" x="92.30" y="494.91" width="13.05" height="6.30"/>
<rect class="a" x="105.35" y="494.91" width="13.05" height="6.30"/>
<rect class="h" x="118.40" y="494.91" width="13.05" height="6.30"/>
<rect class="a" x="131.45" y="494.91" width="13.05" height="6.30"/>
<rect class="a" x="144.50" y="494.91" width="13.05" height="6.30"/>
<rect class="c" x="157.55" y="494.91" width="13.05" height="6.30"/>
<rect class="b" x="170.60" y="494.91" width="13.05" height="6.30"/>
<rect class="a" x="183.65" y="494.91" width="13.05" height="6.30"/>
<rect class="f" x="196.70" y="494.91" width="13.05" height="6.30"/>
<rect class="f" x="209.75" y="494.91" width="13.05" height="6.30"/>
<rect class="f" x="222.80" y="494.91" width="13.05" height="6.30"/>
<rect class="f" x="235.85" y="494.91" width="13.05" height="6.30"/>
<rect class="f" x="248.90" y="494.91" width="13.05" height="6.30"/>
<rect class="f" x="261.95" y="494.91" width="13.05" height="6.30"/>
<rect class="f" x="275.00" y="494.91" width="13.05" height="6.30"/>
<rect class="f" x="288.05" y="494.91" width="13.05" height="6.30"/>
<rect class="h" x="301.10" y="494.91" width="13.05" height="6.30"/>
<rect class="f" x="314.15" y="494.91" width="13.05" height="6.30"/>
<rect class="f" x="327.20" y="494.91" width="13.05" height="6.30"/>
<rect class="i" x="340.25" y="494.91" width="13.05" height="6.30"/>
<rect class="f" x="353.30" y="494.91" width="13.05" height="6.30"/>
<rect class="h" x="66.20" y="501.21" width="13.05" height="6.30"/>
<rect class="h" x="79.25" y="501.21" width="13.05" height="6.30"/>
<rect class="b" x="92.30" y="501.21" width="13.05" height="6.30"/>
<rect class="b" x="105.35" y="501.21" width="13.05" height="6.30"/>
<rect class="b" x="118.40" y="501.21" width="13.05" height="6.30"/>
<rect class="b" x="131.45" y="501.21" width="13.05" height="6.30"/>
<rect class="b" x="144.50" y="501.21" width="13.05" height="6.30"/>
<rect class="b" x="157.55" y="501.21" width="13.05" height="6.30"/>
<rect class="b" x="170.60" y="501.21" width="13.05" height="6.30"/>
<rect class="b" x="183.65" y="501.21" width="13.05" height="6.30"/>
<rect class="f" x="196.70" y="501.21" width="13.05" height="6.30"/>
<rect class="f" x="209.75" y="501.21" width="13.05" height="6.30"/>
<rect class="h" x="222.80" y="501.21" width="13.05" height="6.30"/>
<rect class="h" x="235.85" y="501.21" width="13.05" height="6.30"/>
<rect class="f" x="248.90" y="501.21" width="13.05" height="6.30"/>
<rect class="f" x="261.95" y="501.21" width="13.05" height="6.30"/>
<rect class="i" x="275.00" y="501.21" width="13.05" height="6.30"/>
<rect class="f" x="288.05" y="501.21" width="13.05" height="6.30"/>
<rect class="h" x="301.10" y="501.21" width="13.05" height="6.30"/>
<rect class="h" x="314.15" y="501.21" width="13.05" height="6.30"/>
<rect class="h" x="327.20" y="501.21" width="13.05" height="6.30"/>
<rect class="f" x="340.25" y="501.21" width="13.05" height="6.30"/>
<rect class="f" x="353.30" y="501.21" width="13.05" height="6.30"/>
<rect class="f" x="66.20" y="507.51" width="13.05" height="6.30"/>
<rect class="h" x="79.25" y="507.51" width="13.05" height="6.30"/>
<rect class="a" x="92.30" y="507.51" width="13.05" height="6.30"/>
<rect class="a" x="105.35" y="507.51" width="13.05" height="6.30"/>
<rect class="e" x="118.40" y="507.51" width="13.05" height="6.30"/>
<rect class="e" x="131.45" y="507.51" width="13.05" height="6.30"/>
<rect class="e" x="144.50" y="507.51" width="13.05" height="6.30"/>
<rect class="f" x="157.55" y="507.51" width="13.05" height="6.30"/>
<rect class="f" x="170.60" y="507.51" width="13.05" height="6.30"/>
<rect class="f" x="183.65" y="507.51" width="13.05" height="6.30"/>
<rect class="e" x="196.70" y="507.51" width="13.05" height="6.30"/>
<rect class="e" x="209.75" y="507.51" width="13.05" height="6.30"/>
<rect class="f" x="222.80" y="507.51" width="13.05" height="6.30"/>
<rect class="e" x="235.85" y="507.51" width="13.05" height="6.30"/>
<rect class="f" x="248.90" y="507.51" width="13.05" height="6.30"/>
<rect class="f" x="261.95" y="507.51" width="13.05" height="6.30"/>
<rect class="e" x="275.00" y="507.51" width="13.05" height="6.30"/>
<rect class="f" x="288.05" y="507.51" width="13.05" height="6.30"/>
<rect class="f" x="301.10" y="507.51" width="13.05" height="6.30"/>
<rect class="f" x="314.15" y="507.51" width="13.05" height="6.30"/>
<rect class="f" x="327.20" y="507.51" width="13.05" height="6.30"/>
<rect class="f" x="340.25" y="507.51" width="13.05" height="6.30"/>
<rect class="f" x="353.30" y="507.51" width="13.05" height="6.30"/>
<rect class="f" x="66.20" y="513.81" width="13.05" height="6.30"/>
<rect class="h" x="79.25" y="513.81" width="13.05" height="6.30"/>
<rect class="e" x="92.30" y="513.81" width="13.05" height="6.30"/>
<rect class="a" x="105.35" y="513.81" width="13.05" height="6.30"/>
<rect class="a" x="118.40" y="513.81" width="13.05" height="6.30"/>
<rect class="f" x="131.45" y="513.81" width="13.05" height="6.30"/>
<rect class="f" x="144.50" y="513.81" width="13.05" height="6.30"/>
<rect class="h" x="157.55" y="513.81" width="13.05" height="6.30"/>
<rect class="h" x="170.60" y="513.81" width="13.05" height="6.30"/>
<rect class="h" x="183.65" y="513.81" width="13.05" height="6.30"/>
<rect class="e" x="196.70" y="513.81" width="13.05" height="6.30"/>
<rect class="f" x="209.75" y="513.81" width="13.05" height="6.30"/>
<rect class="f" x="222.80" y="513.81" width="13.05" height="6.30"/>
<rect class="c" x="235.85" y="513.81" width="13.05" height="6.30"/>
<rect class="f" x="248.90" y="513.81" width="13.05" height="6.30"/>
<rect class="f" x="261.95" y="513.81" width="13.05" height="6.30"/>
<rect class="b" x="275.00" y="513.81" width="13.05" height="6.30"/>
<rect class="e" x="288.05" y="513.81" width="13.05" height="6.30"/>
<rect class="e" x="301.10" y="513.81" width="13.05" height="6.30"/>
<rect class="e" x="314.15" y="513.81" width="13.05" height="6.30"/>
<rect class="f" x="327.20" y="513.81" width="13.05" height="6.30"/>
<rect class="e" x="340.25" y="513.81" width="13.05" height="6.30"/>
<rect class="e" x="353.30" y="513.81" width="13.05" height="6.30"/>
<rect class="i" x="66.20" y="520.12" width="13.05" height="6.30"/>
<rect class="i" x="79.25" y="520.12" width="13.05" height="6.30"/>
<rect class="a" x="92.30" y="520.12" width="13.05" height="6.30"/>
<rect class="a" x="105.35" y="520.12" width="13.05" height="6.30"/>
<rect class="a" x="118.40" y="520.12" width="13.05" height="6.30"/>
<rect class="h" x="131.45" y="520.12" width="13.05" height="6.30"/>
<rect class="h" x="144.50" y="520.12" width="13.05" height="6.30"/>
<rect class="h" x="157.55" y="520.12" width="13.05" height="6.30"/>
<rect class="h" x="170.60" y="520.12" width="13.05" height="6.30"/>
<rect class="i" x="183.65" y="520.12" width="13.05" height="6.30"/>
<rect class="c" x="196.70" y="520.12" width="13.05" height="6.30"/>
<rect class="e" x="209.75" y="520.12" width="13.05" height="6.30"/>
<rect class="e" x="222.80" y="520.12" width="13.05" height="6.30"/>
<rect class="c" x="235.85" y="520.12" width="13.05" height="6.30"/>
<rect class="f" x="248.90" y="520.12" width="13.05" height="6.30"/>
<rect class="f" x="261.95" y="520.12" width="13.05" height="6.30"/>
<rect class="f" x="275.00" y="520.12" width="13.05" height="6.30"/>
<rect class="c" x="288.05" y="520.12" width="13.05" height="6.30"/>
<rect class="c" x="301.10" y="520.12" width="13.05" height="6.30"/>
<rect class="c" x="314.15" y="520.12" width="13.05" height="6.30"/>
<rect class="e" x="327.20" y="520.12" width="13.05" height="6.30"/>
<rect class="e" x="340.25" y="520.12" width="13.05" height="6.30"/>
<rect class="e" x="353.30" y="520.12" width="13.05" height="6.30"/>
<rect class="e" x="66.20" y="526.42" width="13.05" height="6.30"/>
<rect class="f" x="79.25" y="526.42" width="13.05" height="6.30"/>
<rect class="a" x="92.30" y="526.42" width="13.05" height="6.30"/>
<rect class="a" x="105.35" y="526.42" width="13.05" height="6.30"/>
<rect class="a" x="118.40" y="526.42" width="13.05" height="6.30"/>
<rect class="f" x="131.45" y="526.42" width="13.05" height="6.30"/>
<rect class="e" x="144.50" y="526.42" width="13.05" height="6.30"/>
<rect class="f" x="157.55" y="526.42" width="13.05" height="6.30"/>
<rect class="f" x="170.60" y="526.42" width="13.05" height="6.30"/>
<rect class="f" x="183.65" y="526.42" width="13.05" height="6.30"/>
<rect class="h" x="196.70" y="526.42" width="13.05" height="6.30"/>
<rect class="f" x="209.75" y="526.42" width="13.05" height="6.30"/>
<rect class="f" x="222.80" y="526.42" width="13.05" height="6.30"/>
<rect class="f" x="235.85" y="526.42" width="13.05" height="6.30"/>
<rect class="f" x="248.90" y="526.42" width="13.05" height="6.30"/>
<rect class="f" x="261.95" y="526.42" width="13.05" height="6.30"/>
<rect class="f" x="275.00" y="526.42" width="13.05" height="6.30"/>
<rect class="f" x="288.05" y="526.42" width="13.05" height="6.30"/>
<rect class="f" x="301.10" y="526.42" width="13.05" height="6.30"/>
<rect class="f" x="314.15" y="526.42" width="13.05" height="6.30"/>
<rect class="e" x="327.20" y="526.42" width="13.05" height="6.30"/>
<rect class="f" x="340.25" y="526.42" width="13.05" height="6.30"/>
<rect class="e" x="353.30" y="526.42" width="13.05" height="6.30"/>
<rect class="f" x="66.20" y="532.72" width="13.05" height="6.30"/>
<rect class="h" x="79.25" y="532.72" width="13.05" height="6.30"/>
<rect class="a" x="92.30" y="532.72" width="13.05" height="6.30"/>
<rect class="a" x="105.35" y="532.72" width="13.05" height="6.30"/>
<rect class="a" x="118.40" y="532.72" width="13.05" height="6.30"/>
<rect class="f" x="131.45" y="532.72" width="13.05" height="6.30"/>
<rect class="f" x="144.50" y="532.72" width="13.05" height="6.30"/>
<rect class="f" x="157.55" y="532.72" width="13.05" height="6.30"/>
<rect class="f" x="170.60" y="532.72" width="13.05" height="6.30"/>
<rect class="h" x="183.65" y="532.72" width="13.05" height="6.30"/>
<rect class="e" x="196.70" y="532.72" width="13.05" height="6.30"/>
<rect class="e" x="209.75" y="532.72" width="13.05" height="6.30"/>
<rect class="f" x="222.80" y="532.72" width="13.05" height="6.30"/>
<rect class="h" x="235.85" y="532.72" width="13.05" height="6.30"/>
<rect class="h" x="248.90" y="532.72" width="13.05" height="6.30"/>
<rect class="f" x="261.95" y="532.72" width="13.05" height="6.30"/>
<rect class="f" x="275.00" y="532.72" width="13.05" height="6.30"/>
<rect class="e" x="288.05" y="532.72" width="13.05" height="6.30"/>
<rect class="e" x="301.10" y="532.72" width="13.05" height="6.30"/>
<rect class="e" x="314.15" y="532.72" width="13.05" height="6.30"/>
<rect class="f" x="327.20" y="532.72" width="13.05" height="6.30"/>
<rect class="e" x="340.25" y="532.72" width="13.05" height="6.30"/>
<rect class="e" x="353.30" y="532.72" width="13.05" height="6.30"/>
<rect class="i" x="66.20" y="539.02" width="13.05" height="6.30"/>
<rect class="i" x="79.25" y="539.02" width="13.05" height="6.30"/>
<rect class="a" x="92.30" y="539.02" width="13.05" height="6.30"/>
<rect class="e" x="105.35" y="539.02" width="13.05" height="6.30"/>
<rect class="h" x="118.40" y="539.02" width="13.05" height="6.30"/>
<rect class="e" x="131.45" y="539.02" width="13.05" height="6.30"/>
<rect class="e" x="144.50" y="539.02" width="13.05" height="6.30"/>
<rect class="e" x="157.55" y="539.02" width="13.05" height="6.30"/>
<rect class="e" x="170.60" y="539.02" width="13.05" height="6.30"/>
<rect class="h" x="183.65" y="539.02" width="13.05" height="6.30"/>
<rect class="a" x="196.70" y="539.02" width="13.05" height="6.30"/>
<rect class="e" x="209.75" y="539.02" width="13.05" height="6.30"/>
<rect class="e" x="222.80" y="539.02" width="13.05" height="6.30"/>
<rect class="c" x="235.85" y="539.02" width="13.05" height="6.30"/>
<rect class="c" x="248.90" y="539.02" width="13.05" height="6.30"/>
<rect class="h" x="261.95" y="539.02" width="13.05" height="6.30"/>
<rect class="f" x="275.00" y="539.02" width="13.05" height="6.30"/>
<rect class="e" x="288.05" y="539.02" width="13.05" height="6.30"/>
<rect class="f" x="301.10" y="539.02" width="13.05" height="6.30"/>
<rect class="e" x="314.15" y="539.02" width="13.05" height="6.30"/>
<rect class="e" x="327.20" y="539.02" width="13.05" height="6.30"/>
<rect class="i" x="340.25" y="539.02" width="13.05" height="6.30"/>
<rect class="f" x="353.30" y="539.02" width="13.05" height="6.30"/>
<rect class="c" x="66.20" y="545.33" width="13.05" height="6.30"/>
<rect class="h" x="79.25" y="545.33" width="13.05" height="6.30"/>
<rect class="a" x="92.30" y="545.33" width="13.05" height="6.30"/>
<rect class="e" x="105.35" y="545.33" width="13.05" height="6.30"/>
<rect class="e" x="118.40" y="545.33" width="13.05" height="6.30"/>
<rect class="e" x="131.45" y="545.33" width="13.05" height="6.30"/>
<rect class="f" x="144.50" y="545.33" width="13.05" height="6.30"/>
<rect class="h" x="157.55" y="545.33" width="13.05" height="6.30"/>
<rect class="f" x="170.60" y="545.33" width="13.05" height="6.30"/>
<rect class="h" x="183.65" y="545.33" width="13.05" height="6.30"/>
<rect class="e" x="196.70" y="545.33" width="13.05" height="6.30"/>
<rect class="f" x="209.75" y="545.33" width="13.05" height="6.30"/>
<rect class="e" x="222.80" y="545.33" width="13.05" height="6.30"/>
<rect class="e" x="235.85" y="545.33" width="13.05" height="6.30"/>
<rect class="f" x="248.90" y="545.33" width="13.05" height="6.30"/>
<rect class="f" x="261.95" y="545.33" width="13.05" height="6.30"/>
<rect class="e" x="275.00" y="545.33" width="13.05" height="6.30"/>
<rect class="e" x="288.05" y="545.33" width="13.05" height="6.30"/>
<rect class="e" x="301.10" y="545.33" width="13.05" height="6.30"/>
<rect class="e" x="314.15" y="545.33" width="13.05" height="6.30"/>
<rect class="e" x="327.20" y="545.33" width="13.05" height="6.30"/>
<rect class="f" x="340.25" y="545.33" width="13.05" height="6.30"/>
<rect class="e" x="353.30" y="545.33" width="13.05" height="6.30"/>
<rect class="h" x="66.20" y="551.63" width="13.05" height="6.30"/>
<rect class="i" x="79.25" y="551.63" width="13.05" height="6.30"/>
<rect class="a" x="92.30" y="551.63" width="13.05" height="6.30"/>
<rect class="h" x="105.35" y="551.63" width="13.05" height="6.30"/>
<rect class="e" x="118.40" y="551.63" width="13.05" height="6.30"/>
<rect class="f" x="131.45" y="551.63" width="13.05" height="6.30"/>
<rect class="h" x="144.50" y="551.63" width="13.05" height="6.30"/>
<rect class="h" x="157.55" y="551.63" width="13.05" height="6.30"/>
<rect class="h" x="170.60" y="551.63" width="13.05" height="6.30"/>
<rect class="h" x="183.65" y="551.63" width="13.05" height="6.30"/>
<rect class="c" x="196.70" y="551.63" width="13.05" height="6.30"/>
<rect class="f" x="209.75" y="551.63" width="13.05" height="6.30"/>
<rect class="b" x="222.80" y="551.63" width="13.05" height="6.30"/>
<rect class="b" x="235.85" y="551.63" width="13.05" height="6.30"/>
<rect class="f" x="248.90" y="551.63" width="13.05" height="6.30"/>
<rect class="f" x="261.95" y="551.63" width="13.05" height="6.30"/>
<rect class="e" x="275.00" y="551.63" width="13.05" height="6.30"/>
<rect class="e" x="288.05" y="551.63" width="13.05" height="6.30"/>
<rect class="c" x="301.10" y="551.63" width="13.05" height="6.30"/>
<rect class="c" x="314.15" y="551.63" width="13.05" height="6.30"/>
<rect class="c" x="327.20" y="551.63" width="13.05" height="6.30"/>
<rect class="c" x="340.25" y="551.63" width="13.05" height="6.30"/>
<rect class="c" x="353.30" y="551.63" width="13.05" height="6.30"/>
<rect class="e" x="66.20" y="557.93" width="13.05" height="6.30"/>
<rect class="j" x="79.25" y="557.93" width="13.05" height="6.30"/>
<rect class="e" x="92.30" y="557.93" width="13.05" height="6.30"/>
<rect class="f" x="105.35" y="557.93" width="13.05" height="6.30"/>
<rect class="e" x="118.40" y="557.93" width="13.05" height="6.30"/>
<rect class="i" x="131.45" y="557.93" width="13.05" height="6.30"/>
<rect class="i" x="144.50" y="557.93" width="13.05" height="6.30"/>
<rect class="h" x="157.55" y="557.93" width="13.05" height="6.30"/>
<rect class="h" x="170.60" y="557.93" width="13.05" height="6.30"/>
<rect class="h" x="183.65" y="557.93" width="13.05" height="6.30"/>
<rect class="a" x="196.70" y="557.93" width="13.05" height="6.30"/>
<rect class="f" x="209.75" y="557.93" width="13.05" height="6.30"/>
<rect class="e" x="222.80" y="557.93" width="13.05" height="6.30"/>
<rect class="c" x="235.85" y="557.93" width="13.05" height="6.30"/>
<rect class="e" x="248.90" y="557.93" width="13.05" height="6.30"/>
<rect class="c" x="261.95" y="557.93" width="13.05" height="6.30"/>
<rect class="e" x="275.00" y="557.93" width="13.05" height="6.30"/>
<rect class="a" x="288.05" y="557.93" width="13.05" height="6.30"/>
<rect class="b" x="301.10" y="557.93" width="13.05" height="6.30"/>
<rect class="b" x="314.15" y="557.93" width="13.05" height="6.30"/>
<rect class="b" x="327.20" y="557.93" width="13.05" height="6.30"/>
<rect class="b" x="340.25" y="557.93" width="13.05" height="6.30"/>
<rect class="c" x="353.30" y="557.93" width="13.05" height="6.30"/>
<rect class="f" x="66.20" y="564.23" width="13.05" height="6.30"/>
<rect class="j" x="79.25" y="564.23" width="13.05" height="6.30"/>
<rect class="e" x="92.30" y="564.23" width="13.05" height="6.30"/>
<rect class="f" x="105.35" y="564.23" width="13.05" height="6.30"/>
<rect class="f" x="118.40" y="564.23" width="13.05" height="6.30"/>
<rect class="f" x="131.45" y="564.23" width="13.05" height="6.30"/>
<rect class="h" x="144.50" y="564.23" width="13.05" height="6.30"/>
<rect class="h" x="157.55" y="564.23" width="13.05" height="6.30"/>
<rect class="h" x="170.60" y="564.23" width="13.05" height="6.30"/>
<rect class="i" x="183.65" y="564.23" width="13.05" height="6.30"/>
<rect class="a" x="196.70" y="564.23" width="13.05" height="6.30"/>
<rect class="c" x="209.75" y="564.23" width="13.05" height="6.30"/>
<rect class="a" x="222.80" y="564.23" width="13.05" height="6.30"/>
<rect class="c" x="235.85" y="564.23" width="13.05" height="6.30"/>
<rect class="f" x="248.90" y="564.23" width="13.05" height="6.30"/>
<rect class="f" x="261.95" y="564.23" width="13.05" height="6.30"/>
<rect class="e" x="275.00" y="564.23" width="13.05" height="6.30"/>
<rect class="a" x="288.05" y="564.23" width="13.05" height="6.30"/>
<rect class="c" x="301.10" y="564.23" width="13.05" height="6.30"/>
<rect class="b" x="314.15" y="564.23" width="13.05" height="6.30"/>
<rect class="h" x="327.20" y="564.23" width="13.05" height="6.30"/>
<rect class="c" x="340.25" y="564.23" width="13.05" height="6.30"/>
<rect class="c" x="353.30" y="564.23" width="13.05" height="6.30"/>
<rect class="e" x="66.20" y="570.53" width="13.05" height="6.30"/>
<rect class="b" x="79.25" y="570.53" width="13.05" height="6.30"/>
<rect class="b" x="92.30" y="570.53" width="13.05" height="6.30"/>
<rect class="h" x="105.35" y="570.53" width="13.05" height="6.30"/>
<rect class="e" x="118.40" y="570.53" width="13.05" height="6.30"/>
<rect class="i" x="131.45" y="570.53" width="13.05" height="6.30"/>
<rect class="i" x="144.50" y="570.53" width="13.05" height="6.30"/>
<rect class="i" x="157.55" y="570.53" width="13.05" height="6.30"/>
<rect class="i" x="170.60" y="570.53" width="13.05" height="6.30"/>
<rect class="i" x="183.65" y="570.53" width="13.05" height="6.30"/>
<rect class="b" x="196.70" y="570.53" width="13.05" height="6.30"/>
<rect class="f" x="209.75" y="570.53" width="13.05" height="6.30"/>
<rect class="f" x="222.80" y="570.53" width="13.05" height="6.30"/>
<rect class="e" x="235.85" y="570.53" width="13.05" height="6.30"/>
<rect class="f" x="248.90" y="570.53" width="13.05" height="6.30"/>
<rect class="e" x="261.95" y="570.53" width="13.05" height="6.30"/>
<rect class="a" x="275.00" y="570.53" width="13.05" height="6.30"/>
<rect class="e" x="288.05" y="570.53" width="13.05" height="6.30"/>
<rect class="e" x="301.10" y="570.53" width="13.05" height="6.30"/>
<rect class="e" x="314.15" y="570.53" width="13.05" height="6.30"/>
<rect class="b" x="327.20" y="570.53" width="13.05" height="6.30"/>
<rect class="c" x="340.25" y="570.53" width="13.05" height="6.30"/>
<rect class="c" x="353.30" y="570.53" width="13.05" height="6.30"/>
<rect class="e" x="66.20" y="576.84" width="13.05" height="6.30"/>
<rect class="b" x="79.25" y="576.84" width="13.05" height="6.30"/>
<rect class="e" x="92.30" y="576.84" width="13.05" height="6.30"/>
<rect class="i" x="105.35" y="576.84" width="13.05" height="6.30"/>
<rect class="c" x="118.40" y="576.84" width="13.05" height="6.30"/>
<rect class="e" x="131.45" y="576.84" width="13.05" height="6.30"/>
<rect class="h" x="144.50" y="576.84" width="13.05" height="6.30"/>
<rect class="j" x="157.55" y="576.84" width="13.05" height="6.30"/>
<rect class="j" x="170.60" y="576.84" width="13.05" height="6.30"/>
<rect class="h" x="183.65" y="576.84" width="13.05" height="6.30"/>
<rect class="a" x="196.70" y="576.84" width="13.05" height="6.30"/>
<rect class="c" x="209.75" y="576.84" width="13.05" height="6.30"/>
<rect class="c" x="222.80" y="576.84" width="13.05" height="6.30"/>
<rect class="c" x="235.85" y="576.84" width="13.05" height="6.30"/>
<rect class="b" x="248.90" y="576.84" width="13.05" height="6.30"/>
<rect class="e" x="261.95" y="576.84" width="13.05" height="6.30"/>
<rect class="e" x="275.00" y="576.84" width="13.05" height="6.30"/>
<rect class="b" x="288.05" y="576.84" width="13.05" height="6.30"/>
<rect class="e" x="301.10" y="576.84" width="13.05" height="6.30"/>
<rect class="f" x="314.15" y="576.84" width="13.05" height="6.30"/>
<rect class="c" x="327.20" y="576.84" width="13.05" height="6.30"/>
<rect class="e" x="340.25" y="576.84" width="13.05" height="6.30"/>
<rect class="e" x="353.30" y="576.84" width="13.05" height="6.30"/>
<rect class="i" x="66.20" y="583.14" width="13.05" height="6.30"/>
<rect class="a" x="79.25" y="583.14" width="13.05" height="6.30"/>
<rect class="h" x="92.30" y="583.14" width="13.05" height="6.30"/>
<rect class="h" x="105.35" y="583.14" width="13.05" height="6.30"/>
<rect class="h" x="118.40" y="583.14" width="13.05" height="6.30"/>
<rect class="f" x="131.45" y="583.14" width="13.05" height="6.30"/>
<rect class="f" x="144.50" y="583.14" width="13.05" height="6.30"/>
<rect class="f" x="157.55" y="583.14" width="13.05" height="6.30"/>
<rect class="f" x="170.60" y="583.14" width="13.05" height="6.30"/>
<rect class="f" x="183.65" y="583.14" width="13.05" height="6.30"/>
<rect class="e" x="196.70" y="583.14" width="13.05" height="6.30"/>
<rect class="e" x="209.75" y="583.14" width="13.05" height="6.30"/>
<rect class="c" x="222.80" y="583.14" width="13.05" height="6.30"/>
<rect class="h" x="235.85" y="583.14" width="13.05" height="6.30"/>
<rect class="h" x="248.90" y="583.14" width="13.05" height="6.30"/>
<rect class="f" x="261.95" y="583.14" width="13.05" height="6.30"/>
<rect class="e" x="275.00" y="583.14" width="13.05" height="6.30"/>
<rect class="c" x="288.05" y="583.14" width="13.05" height="6.30"/>
<rect class="c" x="301.10" y="583.14" width="13.05" height="6.30"/>
<rect class="c" x="314.15" y="583.14" width="13.05" height="6.30"/>
<rect class="c" x="327.20" y="583.14" width="13.05" height="6.30"/>
<rect class="c" x="340.25" y="583.14" width="13.05" height="6.30"/>
<rect class="c" x="353.30" y="583.14" width="13.05" height="6.30"/>
<rect class="a" x="66.20" y="589.44" width="13.05" height="6.30"/>
<rect class="a" x="79.25" y="589.44" width="13.05" height="6.30"/>
<rect class="h" x="92.30" y="589.44" width="13.05" height="6.30"/>
<rect class="h" x="105.35" y="589.44" width="13.05" height="6.30"/>
<rect class="i" x="118.40" y="589.44" width="13.05" height="6.30"/>
<rect class="e" x="131.45" y="589.44" width="13.05" height="6.30"/>
<rect class="f" x="144.50" y="589.44" width="13.05" height="6.30"/>
<rect class="f" x="157.55" y="589.44" width="13.05" height="6.30"/>
<rect class="f" x="170.60" y="589.44" width="13.05" height="6.30"/>
<rect class="f" x="183.65" y="589.44" width="13.05" height="6.30"/>
<rect class="e" x="196.70" y="589.44" width="13.05" height="6.30"/>
<rect class="e" x="209.75" y="589.44" width="13.05" height="6.30"/>
<rect class="c" x="222.80" y="589.44" width="13.05" height="6.30"/>
<rect class="f" x="235.85" y="589.44" width="13.05" height="6.30"/>
<rect class="e" x="248.90" y="589.44" width="13.05" height="6.30"/>
<rect class="f" x="261.95" y="589.44" width="13.05" height="6.30"/>
<rect class="f" x="275.00" y="589.44" width="13.05" height="6.30"/>
<rect class="e" x="288.05" y="589.44" width="13.05" height="6.30"/>
<rect class="e" x="301.10" y="589.44" width="13.05" height="6.30"/>
<rect class="e" x="314.15" y="589.44" width="13.05" height="6.30"/>
<rect class="b" x="327.20" y="589.44" width="13.05" height="6.30"/>
<rect class="c" x="340.25" y="589.44" width="13.05" height="6.30"/>
<rect class="c" x="353.30" y="589.44" width="13.05" height="6.30"/>
<rect class="f" x="66.20" y="595.74" width="13.05" height="6.30"/>
<rect class="a" x="79.25" y="595.74" width="13.05" height="6.30"/>
<rect class="i" x="92.30" y="595.74" width="13.05" height="6.30"/>
<rect class="a" x="105.35" y="595.74" width="13.05" height="6.30"/>
<rect class="h" x="118.40" y="595.74" width="13.05" height="6.30"/>
<rect class="h" x="131.45" y="595.74" width="13.05" height="6.30"/>
<rect class="h" x="144.50" y="595.74" width="13.05" height="6.30"/>
<rect class="i" x="157.55" y="595.74" width="13.05" height="6.30"/>
<rect class="i" x="170.60" y="595.74" width="13.05" height="6.30"/>
<rect class="i" x="183.65" y="595.74" width="13.05" height="6.30"/>
<rect class="c" x="196.70" y="595.74" width="13.05" height="6.30"/>
<rect class="e" x="209.75" y="595.74" width="13.05" height="6.30"/>
<rect class="c" x="222.80" y="595.74" width="13.05" height="6.30"/>
<rect class="c" x="235.85" y="595.74" width="13.05" height="6.30"/>
<rect class="c" x="248.90" y="595.74" width="13.05" height="6.30"/>
<rect class="e" x="261.95" y="595.74" width="13.05" height="6.30"/>
<rect class="c" x="275.00" y="595.74" width="13.05" height="6.30"/>
<rect class="e" x="288.05" y="595.74" width="13.05" height="6.30"/>
<rect class="c" x="301.10" y="595.74" width="13.05" height="6.30"/>
<rect class="c" x="314.15" y="595.74" width="13.05" height="6.30"/>
<rect class="c" x="327.20" y="595.74" width="13.05" height="6.30"/>
<rect class="e" x="340.25" y="595.74" width="13.05" height="6.30"/>
<rect class="c" x="353.30" y="595.74" width="13.05" height="6.30"/>
<rect class="j" x="66.20" y="602.05" width="13.05" height="6.30"/>
<rect class="b" x="79.25" y="602.05" width="13.05" height="6.30"/>
<rect class="b" x="92.30" y="602.05" width="13.05" height="6.30"/>
<rect class="b" x="105.35" y="602.05" width="13.05" height="6.30"/>
<rect class="j" x="118.40" y="602.05" width="13.05" height="6.30"/>
<rect class="e" x="131.45" y="602.05" width="13.05" height="6.30"/>
<rect class="i" x="144.50" y="602.05" width="13.05" height="6.30"/>
<rect class="f" x="157.55" y="602.05" width="13.05" height="6.30"/>
<rect class="e" x="170.60" y="602.05" width="13.05" height="6.30"/>
<rect class="e" x="183.65" y="602.05" width="13.05" height="6.30"/>
<rect class="b" x="196.70" y="602.05" width="13.05" height="6.30"/>
<rect class="e" x="209.75" y="602.05" width="13.05" height="6.30"/>
<rect class="c" x="222.80" y="602.05" width="13.05" height="6.30"/>
<rect class="e" x="235.85" y="602.05" width="13.05" height="6.30"/>
<rect class="f" x="248.90" y="602.05" width="13.05" height="6.30"/>
<rect class="j" x="261.95" y="602.05" width="13.05" height="6.30"/>
<rect class="f" x="275.00" y="602.05" width="13.05" height="6.30"/>
<rect class="e" x="288.05" y="602.05" width="13.05" height="6.30"/>
<rect class="c" x="301.10" y="602.05" width="13.05" height="6.30"/>
<rect class="e" x="314.15" y="602.05" width="13.05" height="6.30"/>
<rect class="b" x="327.20" y="602.05" width="13.05" height="6.30"/>
<rect class="c" x="340.25" y="602.05" width="13.05" height="6.30"/>
<rect class="c" x="353.30" y="602.05" width="13.05" height="6.30"/>
<rect class="a" x="66.20" y="608.35" width="13.05" height="6.30"/>
<rect class="a" x="79.25" y="608.35" width="13.05" height="6.30"/>
<rect class="a" x="92.30" y="608.35" width="13.05" height="6.30"/>
<rect class="a" x="105.35" y="608.35" width="13.05" height="6.30"/>
<rect class="e" x="118.40" y="608.35" width="13.05" height="6.30"/>
<rect class="f" x="131.45" y="608.35" width="13.05" height="6.30"/>
<rect class="f" x="144.50" y="608.35" width="13.05" height="6.30"/>
<rect class="h" x="157.55" y="608.35" width="13.05" height="6.30"/>
<rect class="f" x="170.60" y="608.35" width="13.05" height="6.30"/>
<rect class="f" x="183.65" y="608.35" width="13.05" height="6.30"/>
<rect class="f" x="196.70" y="608.35" width="13.05" height="6.30"/>
<rect class="f" x="209.75" y="608.35" width="13.05" height="6.30"/>
<rect class="h" x="222.80" y="608.35" width="13.05" height="6.30"/>
<rect class="h" x="235.85" y="608.35" width="13.05" height="6.30"/>
<rect class="f" x="248.90" y="608.35" width="13.05" height="6.30"/>
<rect class="h" x="261.95" y="608.35" width="13.05" height="6.30"/>
<rect class="e" x="275.00" y="608.35" width="13.05" height="6.30"/>
<rect class="f" x="288.05" y="608.35" width="13.05" height="6.30"/>
<rect class="f" x="301.10" y="608.35" width="13.05" height="6.30"/>
<rect class="f" x="314.15" y="608.35" width="13.05" height="6.30"/>
<rect class="f" x="327.20" y="608.35" width="13.05" height="6.30"/>
<rect class="e" x="340.25" y="608.35" width="13.05" height="6.30"/>
<rect class="f" x="353.30" y="608.35" width="13.05" height="6.30"/>
<rect class="c" x="66.20" y="614.65" width="13.05" height="6.30"/>
<rect class="a" x="79.25" y="614.65" width="13.05" height="6.30"/>
<rect class="a" x="92.30" y="614.65" width="13.05" height="6.30"/>
<rect class="a" x="105.35" y="614.65" width="13.05" height="6.30"/>
<rect class="e" x="118.40" y="614.65" width="13.05" height="6.30"/>
<rect class="f" x="131.45" y="614.65" width="13.05" height="6.30"/>
<rect class="f" x="144.50" y="614.65" width="13.05" height="6.30"/>
<rect class="f" x="157.55" y="614.65" width="13.05" height="6.30"/>
<rect class="f" x="170.60" y="614.65" width="13.05" height="6.30"/>
<rect class="f" x="183.65" y="614.65" width="13.05" height="6.30"/>
<rect class="c" x="196.70" y="614.65" width="13.05" height="6.30"/>
<rect class="f" x="209.75" y="614.65" width="13.05" height="6.30"/>
<rect class="f" x="222.80" y="614.65" width="13.05" height="6.30"/>
<rect class="h" x="235.85" y="614.65" width="13.05" height="6.30"/>
<rect class="f" x="248.90" y="614.65" width="13.05" height="6.30"/>
<rect class="f" x="261.95" y="614.65" width="13.05" height="6.30"/>
<rect class="f" x="275.00" y="614.65" width="13.05" height="6.30"/>
<rect class="f" x="288.05" y="614.65" width="13.05" height="6.30"/>
<rect class="f" x="301.10" y="614.65" width="13.05" height="6.30"/>
<rect class="f" x="314.15" y="614.65" width="13.05" height="6.30"/>
<rect class="f" x="327.20" y="614.65" width="13.05" height="6.30"/>
<rect class="e" x="340.25" y="614.65" width="13.05" height="6.30"/>
<rect class="f" x="353.30" y="614.65" width="13.05" height="6.30"/>
<rect class="f" x="66.20" y="620.95" width="13.05" height="6.30"/>
<rect class="a" x="79.25" y="620.95" width="13.05" height="6.30"/>
<rect class="a" x="92.30" y="620.95" width="13.05" height="6.30"/>
<rect class="a" x="105.35" y="620.95" width="13.05" height="6.30"/>
<rect class="f" x="118.40" y="620.95" width="13.05" height="6.30"/>
<rect class="f" x="131.45" y="620.95" width="13.05" height="6.30"/>
<rect class="f" x="144.50" y="620.95" width="13.05" height="6.30"/>
<rect class="f" x="157.55" y="620.95" width="13.05" height="6.30"/>
<rect class="f" x="170.60" y="620.95" width="13.05" height="6.30"/>
<rect class="f" x="183.65" y="620.95" width="13.05" height="6.30"/>
<rect class="c" x="196.70" y="620.95" width="13.05" height="6.30"/>
<rect class="f" x="209.75" y="620.95" width="13.05" height="6.30"/>
<rect class="h" x="222.80" y="620.95" width="13.05" height="6.30"/>
<rect class="h" x="235.85" y="620.95" width="13.05" height="6.30"/>
<rect class="f" x="248.90" y="620.95" width="13.05" height="6.30"/>
<rect class="h" x="261.95" y="620.95" width="13.05" height="6.30"/>
<rect class="h" x="275.00" y="620.95" width="13.05" height="6.30"/>
<rect class="f" x="288.05" y="620.95" width="13.05" height="6.30"/>
<rect class="f" x="301.10" y="620.95" width="13.05" height="6.30"/>
<rect class="f" x="314.15" y="620.95" width="13.05" height="6.30"/>
<rect class="f" x="327.20" y="620.95" width="13.05" height="6.30"/>
<rect class="f" x="340.25" y="620.95" width="13.05" height="6.30"/>
<rect class="f" x="353.30" y="620.95" width="13.05" height="6.30"/>
<rect class="a" x="66.20" y="627.26" width="13.05" height="6.30"/>
<rect class="a" x="79.25" y="627.26" width="13.05" height="6.30"/>
<rect class="f" x="92.30" y="627.26" width="13.05" height="6.30"/>
<rect class="a" x="105.35" y="627.26" width="13.05" height="6.30"/>
<rect class="a" x="118.40" y="627.26" width="13.05" height="6.30"/>
<rect class="i" x="131.45" y="627.26" width="13.05" height="6.30"/>
<rect class="i" x="144.50" y="627.26" width="13.05" height="6.30"/>
<rect class="h" x="157.55" y="627.26" width="13.05" height="6.30"/>
<rect class="f" x="170.60" y="627.26" width="13.05" height="6.30"/>
<rect class="f" x="183.65" y="627.26" width="13.05" height="6.30"/>
<rect class="i" x="196.70" y="627.26" width="13.05" height="6.30"/>
<rect class="e" x="209.75" y="627.26" width="13.05" height="6.30"/>
<rect class="f" x="222.80" y="627.26" width="13.05" height="6.30"/>
<rect class="f" x="235.85" y="627.26" width="13.05" height="6.30"/>
<rect class="f" x="248.90" y="627.26" width="13.05" height="6.30"/>
<rect class="e" x="261.95" y="627.26" width="13.05" height="6.30"/>
<rect class="e" x="275.00" y="627.26" width="13.05" height="6.30"/>
<rect class="f" x="288.05" y="627.26" width="13.05" height="6.30"/>
<rect class="e" x="301.10" y="627.26" width="13.05" height="6.30"/>
<rect class="e" x="314.15" y="627.26" width="13.05" height="6.30"/>
<rect class="e" x="327.20" y="627.26" width="13.05" height="6.30"/>
<rect class="e" x="340.25" y="627.26" width="13.05" height="6.30"/>
<rect class="e" x="353.30" y="627.26" width="13.05" height="6.30"/>
<rect class="a" x="66.20" y="633.56" width="13.05" height="6.30"/>
<rect class="a" x="79.25" y="633.56" width="13.05" height="6.30"/>
<rect class="a" x="92.30" y="633.56" width="13.05" height="6.30"/>
<rect class="a" x="105.35" y="633.56" width="13.05" height="6.30"/>
<rect class="a" x="118.40" y="633.56" width="13.05" height="6.30"/>
<rect class="i" x="131.45" y="633.56" width="13.05" height="6.30"/>
<rect class="h" x="144.50" y="633.56" width="13.05" height="6.30"/>
<rect class="h" x="157.55" y="633.56" width="13.05" height="6.30"/>
<rect class="h" x="170.60" y="633.56" width="13.05" height="6.30"/>
<rect class="h" x="183.65" y="633.56" width="13.05" height="6.30"/>
<rect class="e" x="196.70" y="633.56" width="13.05" height="6.30"/>
<rect class="f" x="209.75" y="633.56" width="13.05" height="6.30"/>
<rect class="f" x="222.80" y="633.56" width="13.05" height="6.30"/>
<rect class="f" x="235.85" y="633.56" width="13.05" height="6.30"/>
<rect class="f" x="248.90" y="633.56" width="13.05" height="6.30"/>
<rect class="f" x="261.95" y="633.56" width="13.05" height="6.30"/>
<rect class="f" x="275.00" y="633.56" width="13.05" height="6.30"/>
<rect class="f" x="288.05" y="633.56" width="13.05" height="6.30"/>
<rect class="f" x="301.10" y="633.56" width="13.05" height="6.30"/>
<rect class="f" x="314.15" y="633.56" width="13.05" height="6.30"/>
<rect class="f" x="327.20" y="633.56" width="13.05" height="6.30"/>
<rect class="f" x="340.25" y="633.56" width="13.05" height="6.30"/>
<rect class="f" x="353.30" y="633.56" width="13.05" height="6.30"/>
<rect class="a" x="66.20" y="639.86" width="13.05" height="6.30"/>
<rect class="a" x="79.25" y="639.86" width="13.05" height="6.30"/>
<rect class="a" x="92.30" y="639.86" width="13.05" height="6.30"/>
<rect class="a" x="105.35" y="639.86" width="13.05" height="6.30"/>
<rect class="a" x="118.40" y="639.86" width="13.05" height="6.30"/>
<rect class="e" x="131.45" y="639.86" width="13.05" height="6.30"/>
<rect class="e" x="144.50" y="639.86" width="13.05" height="6.30"/>
<rect class="c" x="157.55" y="639.86" width="13.05" height="6.30"/>
<rect class="c" x="170.60" y="639.86" width="13.05" height="6.30"/>
<rect class="c" x="183.65" y="639.86" width="13.05" height="6.30"/>
<rect class="h" x="196.70" y="639.86" width="13.05" height="6.30"/>
<rect class="f" x="209.75" y="639.86" width="13.05" height="6.30"/>
<rect class="h" x="222.80" y="639.86" width="13.05" height="6.30"/>
<rect class="h" x="235.85" y="639.86" width="13.05" height="6.30"/>
<rect class="i" x="248.90" y="639.86" width="13.05" height="6.30"/>
<rect class="f" x="261.95" y="639.86" width="13.05" height="6.30"/>
<rect class="f" x="275.00" y="639.86" width="13.05" height="6.30"/>
<rect class="h" x="288.05" y="639.86" width="13.05" height="6.30"/>
<rect class="h" x="301.10" y="639.86" width="13.05" height="6.30"/>
<rect class="h" x="314.15" y="639.86" width="13.05" height="6.30"/>
<rect class="f" x="327.20" y="639.86" width="13.05" height="6.30"/>
<rect class="h" x="340.25" y="639.86" width="13.05" height="6.30"/>
<rect class="f" x="353.30" y="639.86" width="13.05" height="6.30"/>
<rect class="a" x="66.20" y="646.16" width="13.05" height="6.30"/>
<rect class="a" x="79.25" y="646.16" width="13.05" height="6.30"/>
<rect class="a" x="92.30" y="646.16" width="13.05" height="6.30"/>
<rect class="a" x="105.35" y="646.16" width="13.05" height="6.30"/>
<rect class="a" x="118.40" y="646.16" width="13.05" height="6.30"/>
<rect class="e" x="131.45" y="646.16" width="13.05" height="6.30"/>
<rect class="e" x="144.50" y="646.16" width="13.05" height="6.30"/>
<rect class="e" x="157.55" y="646.16" width="13.05" height="6.30"/>
<rect class="e" x="170.60" y="646.16" width="13.05" height="6.30"/>
<rect class="e" x="183.65" y="646.16" width="13.05" height="6.30"/>
<rect class="h" x="196.70" y="646.16" width="13.05" height="6.30"/>
<rect class="f" x="209.75" y="646.16" width="13.05" height="6.30"/>
<rect class="h" x="222.80" y="646.16" width="13.05" height="6.30"/>
<rect class="h" x="235.85" y="646.16" width="13.05" height="6.30"/>
<rect class="h" x="248.90" y="646.16" width="13.05" height="6.30"/>
<rect class="f" x="261.95" y="646.16" width="13.05" height="6.30"/>
<rect class="h" x="275.00" y="646.16" width="13.05" height="6.30"/>
<rect class="f" x="288.05" y="646.16" width="13.05" height="6.30"/>
<rect class="h" x="301.10" y="646.16" width="13.05" height="6.30"/>
<rect class="f" x="314.15" y="646.16" width="13.05" height="6.30"/>
<rect class="f" x="327.20" y="646.16" width="13.05" height="6.30"/>
<rect class="h" x="340.25" y="646.16" width="13.05" height="6.30"/>
<rect class="f" x="353.30" y="646.16" width="13.05" height="6.30"/>
<rect class="a" x="66.20" y="652.47" width="13.05" height="6.30"/>
<rect class="a" x="79.25" y="652.47" width="13.05" height="6.30"/>
<rect class="a" x="92.30" y="652.47" width="13.05" height="6.30"/>
<rect class="a" x="105.35" y="652.47" width="13.05" height="6.30"/>
<rect class="a" x="118.40" y="652.47" width="13.05" height="6.30"/>
<rect class="f" x="131.45" y="652.47" width="13.05" height="6.30"/>
<rect class="e" x="144.50" y="652.47" width="13.05" height="6.30"/>
<rect class="e" x="157.55" y="652.47" width="13.05" height="6.30"/>
<rect class="e" x="170.60" y="652.47" width="13.05" height="6.30"/>
<rect class="f" x="183.65" y="652.47" width="13.05" height="6.30"/>
<rect class="e" x="196.70" y="652.47" width="13.05" height="6.30"/>
<rect class="f" x="209.75" y="652.47" width="13.05" height="6.30"/>
<rect class="h" x="222.80" y="652.47" width="13.05" height="6.30"/>
<rect class="i" x="235.85" y="652.47" width="13.05" height="6.30"/>
<rect class="f" x="248.90" y="652.47" width="13.05" height="6.30"/>
<rect class="h" x="261.95" y="652.47" width="13.05" height="6.30"/>
<rect class="h" x="275.00" y="652.47" width="13.05" height="6.30"/>
<rect class="h" x="288.05" y="652.47" width="13.05" height="6.30"/>
<rect class="i" x="301.10" y="652.47" width="13.05" height="6.30"/>
<rect class="f" x="314.15" y="652.47" width="13.05" height="6.30"/>
<rect class="f" x="327.20" y="652.47" width="13.05" height="6.30"/>
<rect class="i" x="340.25" y="652.47" width="13.05" height="6.30"/>
<rect class="f" x="353.30" y="652.47" width="13.05" height="6.30"/>
<rect class="c" x="66.20" y="658.77" width="13.05" height="6.30"/>
<rect class="c" x="79.25" y="658.77" width="13.05" height="6.30"/>
<rect class="c" x="92.30" y="658.77" width="13.05" height="6.30"/>
<rect class="c" x="105.35" y="658.77" width="13.05" height="6.30"/>
<rect class="c" x="118.40" y="658.77" width="13.05" height="6.30"/>
<rect class="j" x="131.45" y="658.77" width="13.05" height="6.30"/>
<rect class="j" x="144.50" y="658.77" width="13.05" height="6.30"/>
<rect class="j" x="157.55" y="658.77" width="13.05" height="6.30"/>
<rect class="i" x="170.60" y="658.77" width="13.05" height="6.30"/>
<rect class="i" x="183.65" y="658.77" width="13.05" height="6.30"/>
<rect class="j" x="196.70" y="658.77" width="13.05" height="6.30"/>
<rect class="b" x="209.75" y="658.77" width="13.05" height="6.30"/>
<rect class="c" x="222.80" y="658.77" width="13.05" height="6.30"/>
<rect class="c" x="235.85" y="658.77" width="13.05" height="6.30"/>
<rect class="e" x="248.90" y="658.77" width="13.05" height="6.30"/>
<rect class="c" x="261.95" y="658.77" width="13.05" height="6.30"/>
<rect class="c" x="275.00" y="658.77" width="13.05" height="6.30"/>
<rect class="c" x="288.05" y="658.77" width="13.05" height="6.30"/>
<rect class="c" x="301.10" y="658.77" width="13.05" height="6.30"/>
<rect class="e" x="314.15" y="658.77" width="13.05" height="6.30"/>
<rect class="c" x="327.20" y="658.77" width="13.05" height="6.30"/>
<rect class="c" x="340.25" y="658.77" width="13.05" height="6.30"/>
<rect class="c" x="353.30" y="658.77" width="13.05" height="6.30"/>
<rect class="c" x="66.20" y="665.07" width="13.05" height="6.30"/>
<rect class="c" x="79.25" y="665.07" width="13.05" height="6.30"/>
<rect class="c" x="92.30" y="665.07" width="13.05" height="6.30"/>
<rect class="c" x="105.35" y="665.07" width="13.05" height="6.30"/>
<rect class="c" x="118.40" y="665.07" width="13.05" height="6.30"/>
<rect class="j" x="131.45" y="665.07" width="13.05" height="6.30"/>
<rect class="i" x="144.50" y="665.07" width="13.05" height="6.30"/>
<rect class="j" x="157.55" y="665.07" width="13.05" height="6.30"/>
<rect class="j" x="170.60" y="665.07" width="13.05" height="6.30"/>
<rect class="j" x="183.65" y="665.07" width="13.05" height="6.30"/>
<rect class="b" x="196.70" y="665.07" width="13.05" height="6.30"/>
<rect class="b" x="209.75" y="665.07" width="13.05" height="6.30"/>
<rect class="c" x="222.80" y="665.07" width="13.05" height="6.30"/>
<rect class="e" x="235.85" y="665.07" width="13.05" height="6.30"/>
<rect class="c" x="248.90" y="665.07" width="13.05" height="6.30"/>
<rect class="c" x="261.95" y="665.07" width="13.05" height="6.30"/>
<rect class="c" x="275.00" y="665.07" width="13.05" height="6.30"/>
<rect class="c" x="288.05" y="665.07" width="13.05" height="6.30"/>
<rect class="c" x="301.10" y="665.07" width="13.05" height="6.30"/>
<rect class="f" x="314.15" y="665.07" width="13.05" height="6.30"/>
<rect class="c" x="327.20" y="665.07" width="13.05" height="6.30"/>
<rect class="c" x="340.25" y="665.07" width="13.05" height="6.30"/>
<rect class="c" x="353.30" y="665.07" width="13.05" height="6.30"/>
<rect class="c" x="66.20" y="671.37" width="13.05" height="6.30"/>
<rect class="c" x="79.25" y="671.37" width="13.05" height="6.30"/>
<rect class="c" x="92.30" y="671.37" width="13.05" height="6.30"/>
<rect class="c" x="105.35" y="671.37" width="13.05" height="6.30"/>
<rect class="c" x="118.40" y="671.37" width="13.05" height="6.30"/>
<rect class="j" x="131.45" y="671.37" width="13.05" height="6.30"/>
<rect class="j" x="144.50" y="671.37" width="13.05" height="6.30"/>
<rect class="j" x="157.55" y="671.37" width="13.05" height="6.30"/>
<rect class="j" x="170.60" y="671.37" width="13.05" height="6.30"/>
<rect class="j" x="183.65" y="671.37" width="13.05" height="6.30"/>
<rect class="b" x="196.70" y="671.37" width="13.05" height="6.30"/>
<rect class="c" x="209.75" y="671.37" width="13.05" height="6.30"/>
<rect class="e" x="222.80" y="671.37" width="13.05" height="6.30"/>
<rect class="e" x="235.85" y="671.37" width="13.05" height="6.30"/>
<rect class="c" x="248.90" y="671.37" width="13.05" height="6.30"/>
<rect class="f" x="261.95" y="671.37" width="13.05" height="6.30"/>
<rect class="c" x="275.00" y="671.37" width="13.05" height="6.30"/>
<rect class="e" x="288.05" y="671.37" width="13.05" height="6.30"/>
<rect class="e" x="301.10" y="671.37" width="13.05" height="6.30"/>
<rect class="e" x="314.15" y="671.37" width="13.05" height="6.30"/>
<rect class="e" x="327.20" y="671.37" width="13.05" height="6.30"/>
<rect class="c" x="340.25" y="671.37" width="13.05" height="6.30"/>
<rect class="b" x="353.30" y="671.37" width="13.05" height="6.30"/>
<rect class="c" x="66.20" y="677.67" width="13.05" height="6.30"/>
<rect class="c" x="79.25" y="677.67" width="13.05" height="6.30"/>
<rect class="c" x="92.30" y="677.67" width="13.05" height="6.30"/>
<rect class="c" x="105.35" y="677.67" width="13.05" height="6.30"/>
<rect class="c" x="118.40" y="677.67" width="13.05" height="6.30"/>
<rect class="j" x="131.45" y="677.67" width="13.05" height="6.30"/>
<rect class="j" x="144.50" y="677.67" width="13.05" height="6.30"/>
<rect class="i" x="157.55" y="677.67" width="13.05" height="6.30"/>
<rect class="i" x="170.60" y="677.67" width="13.05" height="6.30"/>
<rect class="i" x="183.65" y="677.67" width="13.05" height="6.30"/>
<rect class="e" x="196.70" y="677.67" width="13.05" height="6.30"/>
<rect class="e" x="209.75" y="677.67" width="13.05" height="6.30"/>
<rect class="f" x="222.80" y="677.67" width="13.05" height="6.30"/>
<rect class="e" x="235.85" y="677.67" width="13.05" height="6.30"/>
<rect class="h" x="248.90" y="677.67" width="13.05" height="6.30"/>
<rect class="a" x="261.95" y="677.67" width="13.05" height="6.30"/>
<rect class="e" x="275.00" y="677.67" width="13.05" height="6.30"/>
<rect class="e" x="288.05" y="677.67" width="13.05" height="6.30"/>
<rect class="e" x="301.10" y="677.67" width="13.05" height="6.30"/>
<rect class="f" x="314.15" y="677.67" width="13.05" height="6.30"/>
<rect class="e" x="327.20" y="677.67" width="13.05" height="6.30"/>
<rect class="e" x="340.25" y="677.67" width="13.05" height="6.30"/>
<rect class="e" x="353.30" y="677.67" width="13.05" height="6.30"/>
<rect class="c" x="66.20" y="683.98" width="13.05" height="6.30"/>
<rect class="c" x="79.25" y="683.98" width="13.05" height="6.30"/>
<rect class="c" x="92.30" y="683.98" width="13.05" height="6.30"/>
<rect class="c" x="105.35" y="683.98" width="13.05" height="6.30"/>
<rect class="c" x="118.40" y="683.98" width="13.05" height="6.30"/>
<rect class="i" x="131.45" y="683.98" width="13.05" height="6.30"/>
<rect class="i" x="144.50" y="683.98" width="13.05" height="6.30"/>
<rect class="i" x="157.55" y="683.98" width="13.05" height="6.30"/>
<rect class="i" x="170.60" y="683.98" width="13.05" height="6.30"/>
<rect class="i" x="183.65" y="683.98" width="13.05" height="6.30"/>
<rect class="b" x="196.70" y="683.98" width="13.05" height="6.30"/>
<rect class="e" x="209.75" y="683.98" width="13.05" height="6.30"/>
<rect class="b" x="222.80" y="683.98" width="13.05" height="6.30"/>
<rect class="f" x="235.85" y="683.98" width="13.05" height="6.30"/>
<rect class="h" x="248.90" y="683.98" width="13.05" height="6.30"/>
<rect class="a" x="261.95" y="683.98" width="13.05" height="6.30"/>
<rect class="f" x="275.00" y="683.98" width="13.05" height="6.30"/>
<rect class="e" x="288.05" y="683.98" width="13.05" height="6.30"/>
<rect class="e" x="301.10" y="683.98" width="13.05" height="6.30"/>
<rect class="e" x="314.15" y="683.98" width="13.05" height="6.30"/>
<rect class="c" x="327.20" y="683.98" width="13.05" height="6.30"/>
<rect class="e" x="340.25" y="683.98" width="13.05" height="6.30"/>
<rect class="e" x="353.30" y="683.98" width="13.05" height="6.30"/>
<rect class="f" x="66.20" y="690.28" width="13.05" height="6.30"/>
<rect class="a" x="79.25" y="690.28" width="13.05" height="6.30"/>
<rect class="a" x="92.30" y="690.28" width="13.05" height="6.30"/>
<rect class="a" x="105.35" y="690.28" width="13.05" height="6.30"/>
<rect class="a" x="118.40" y="690.28" width="13.05" height="6.30"/>
<rect class="i" x="131.45" y="690.28" width="13.05" height="6.30"/>
<rect class="i" x="144.50" y="690.28" width="13.05" height="6.30"/>
<rect class="i" x="157.55" y="690.28" width="13.05" height="6.30"/>
<rect class="i" x="170.60" y="690.28" width="13.05" height="6.30"/>
<rect class="i" x="183.65" y="690.28" width="13.05" height="6.30"/>
<rect class="c" x="196.70" y="690.28" width="13.05" height="6.30"/>
<rect class="e" x="209.75" y="690.28" width="13.05" height="6.30"/>
<rect class="e" x="222.80" y="690.28" width="13.05" height="6.30"/>
<rect class="f" x="235.85" y="690.28" width="13.05" height="6.30"/>
<rect class="e" x="248.90" y="690.28" width="13.05" height="6.30"/>
<rect class="i" x="261.95" y="690.28" width="13.05" height="6.30"/>
<rect class="f" x="275.00" y="690.28" width="13.05" height="6.30"/>
<rect class="e" x="288.05" y="690.28" width="13.05" height="6.30"/>
<rect class="f" x="301.10" y="690.28" width="13.05" height="6.30"/>
<rect class="f" x="314.15" y="690.28" width="13.05" height="6.30"/>
<rect class="f" x="327.20" y="690.28" width="13.05" height="6.30"/>
<rect class="e" x="340.25" y="690.28" width="13.05" height="6.30"/>
<rect class="e" x="353.30" y="690.28" width="13.05" height="6.30"/>
<rect class="a" x="66.20" y="696.58" width="13.05" height="6.30"/>
<rect class="a" x="79.25" y="696.58" width="13.05" height="6.30"/>
<rect class="a" x="92.30" y="696.58" width="13.05" height="6.30"/>
<rect class="a" x="105.35" y="696.58" width="13.05" height="6.30"/>
<rect class="f" x="118.40" y="696.58" width="13.05" height="6.30"/>
<rect class="i" x="131.45" y="696.58" width="13.05" height="6.30"/>
<rect class="i" x="144.50" y="696.58" width="13.05" height="6.30"/>
<rect class="i" x="157.55" y="696.58" width="13.05" height="6.30"/>
<rect class="i" x="170.60" y="696.58" width="13.05" height="6.30"/>
<rect class="i" x="183.65" y="696.58" width="13.05" height="6.30"/>
<rect class="b" x="196.70" y="696.58" width="13.05" height="6.30"/>
<rect class="e" x="209.75" y="696.58" width="13.05" height="6.30"/>
<rect class="c" x="222.80" y="696.58" width="13.05" height="6.30"/>
<rect class="f" x="235.85" y="696.58" width="13.05" height="6.30"/>
<rect class="e" x="248.90" y="696.58" width="13.05" height="6.30"/>
<rect class="f" x="261.95" y="696.58" width="13.05" height="6.30"/>
<rect class="e" x="275.00" y="696.58" width="13.05" height="6.30"/>
<rect class="e" x="288.05" y="696.58" width="13.05" height="6.30"/>
<rect class="e" x="301.10" y="696.58" width="13.05" height="6.30"/>
<rect class="f" x="314.15" y="696.58" width="13.05" height="6.30"/>
<rect class="c" x="327.20" y="696.58" width="13.05" height="6.30"/>
<rect class="e" x="340.25" y="696.58" width="13.05" height="6.30"/>
<rect class="e" x="353.30" y="696.58" width="13.05" height="6.30"/>
<rect class="a" x="66.20" y="702.88" width="13.05" height="6.30"/>
<rect class="a" x="79.25" y="702.88" width="13.05" height="6.30"/>
<rect class="a" x="92.30" y="702.88" width="13.05" height="6.30"/>
<rect class="a" x="105.35" y="702.88" width="13.05" height="6.30"/>
<rect class="a" x="118.40" y="702.88" width="13.05" height="6.30"/>
<rect class="i" x="131.45" y="702.88" width="13.05" height="6.30"/>
<rect class="i" x="144.50" y="702.88" width="13.05" height="6.30"/>
<rect class="i" x="157.55" y="702.88" width="13.05" height="6.30"/>
<rect class="i" x="170.60" y="702.88" width="13.05" height="6.30"/>
<rect class="i" x="183.65" y="702.88" width="13.05" height="6.30"/>
<rect class="e" x="196.70" y="702.88" width="13.05" height="6.30"/>
<rect class="e" x="209.75" y="702.88" width="13.05" height="6.30"/>
<rect class="e" x="222.80" y="702.88" width="13.05" height="6.30"/>
<rect class="h" x="235.85" y="702.88" width="13.05" height="6.30"/>
<rect class="i" x="248.90" y="702.88" width="13.05" height="6.30"/>
<rect class="f" x="261.95" y="702.88" width="13.05" height="6.30"/>
<rect class="h" x="275.00" y="702.88" width="13.05" height="6.30"/>
<rect class="e" x="288.05" y="702.88" width="13.05" height="6.30"/>
<rect class="e" x="301.10" y="702.88" width="13.05" height="6.30"/>
<rect class="e" x="314.15" y="702.88" width="13.05" height="6.30"/>
<rect class="e" x="327.20" y="702.88" width="13.05" height="6.30"/>
<rect class="b" x="340.25" y="702.88" width="13.05" height="6.30"/>
<rect class="e" x="353.30" y="702.88" width="13.05" height="6.30"/>
<rect class="a" x="66.20" y="709.19" width="13.05" height="6.30"/>
<rect class="a" x="79.25" y="709.19" width="13.05" height="6.30"/>
<rect class="a" x="92.30" y="709.19" width="13.05" height="6.30"/>
<rect class="a" x="105.35" y="709.19" width="13.05" height="6.30"/>
<rect class="a" x="118.40" y="709.19" width="13.05" height="6.30"/>
<rect class="i" x="131.45" y="709.19" width="13.05" height="6.30"/>
<rect class="i" x="144.50" y="709.19" width="13.05" height="6.30"/>
<rect class="i" x="157.55" y="709.19" width="13.05" height="6.30"/>
<rect class="i" x="170.60" y="709.19" width="13.05" height="6.30"/>
<rect class="i" x="183.65" y="709.19" width="13.05" height="6.30"/>
<rect class="c" x="196.70" y="709.19" width="13.05" height="6.30"/>
<rect class="e" x="209.75" y="709.19" width="13.05" height="6.30"/>
<rect class="e" x="222.80" y="709.19" width="13.05" height="6.30"/>
<rect class="e" x="235.85" y="709.19" width="13.05" height="6.30"/>
<rect class="e" x="248.90" y="709.19" width="13.05" height="6.30"/>
<rect class="f" x="261.95" y="709.19" width="13.05" height="6.30"/>
<rect class="f" x="275.00" y="709.19" width="13.05" height="6.30"/>
<rect class="e" x="288.05" y="709.19" width="13.05" height="6.30"/>
<rect class="e" x="301.10" y="709.19" width="13.05" height="6.30"/>
<rect class="e" x="314.15" y="709.19" width="13.05" height="6.30"/>
<rect class="e" x="327.20" y="709.19" width="13.05" height="6.30"/>
<rect class="e" x="340.25" y="709.19" width="13.05" height="6.30"/>
<rect class="e" x="353.30" y="709.19" width="13.05" height="6.30"/>
<rect class="a" x="66.20" y="715.49" width="13.05" height="6.30"/>
<rect class="a" x="79.25" y="715.49" width="13.05" height="6.30"/>
<rect class="a" x="92.30" y="715.49" width="13.05" height="6.30"/>
<rect class="a" x="105.35" y="715.49" width="13.05" height="6.30"/>
<rect class="a" x="118.40" y="715.49" width="13.05" height="6.30"/>
<rect class="i" x="131.45" y="715.49" width="13.05" height="6.30"/>
<rect class="i" x="144.50" y="715.49" width="13.05" height="6.30"/>
<rect class="i" x="157.55" y="715.49" width="13.05" height="6.30"/>
<rect class="i" x="170.60" y="715.49" width="13.05" height="6.30"/>
<rect class="i" x="183.65" y="715.49" width="13.05" height="6.30"/>
<rect class="c" x="196.70" y="715.49" width="13.05" height="6.30"/>
<rect class="e" x="209.75" y="715.49" width="13.05" height="6.30"/>
<rect class="e" x="222.80" y="715.49" width="13.05" height="6.30"/>
<rect class="f" x="235.85" y="715.49" width="13.05" height="6.30"/>
<rect class="e" x="248.90" y="715.49" width="13.05" height="6.30"/>
<rect class="h" x="261.95" y="715.49" width="13.05" height="6.30"/>
<rect class="f" x="275.00" y="715.49" width="13.05" height="6.30"/>
<rect class="e" x="288.05" y="715.49" width="13.05" height="6.30"/>
<rect class="f" x="301.10" y="715.49" width="13.05" height="6.30"/>
<rect class="f" x="314.15" y="715.49" width="13.05" height="6.30"/>
<rect class="e" x="327.20" y="715.49" width="13.05" height="6.30"/>
<rect class="e" x="340.25" y="715.49" width="13.05" height="6.30"/>
<rect class="e" x="353.30" y="715.49" width="13.05" height="6.30"/>
<rect class="f" x="66.20" y="721.79" width="13.05" height="6.30"/>
<rect class="a" x="79.25" y="721.79" width="13.05" height="6.30"/>
<rect class="a" x="92.30" y="721.79" width="13.05" height="6.30"/>
<rect class="f" x="105.35" y="721.79" width="13.05" height="6.30"/>
<rect class="a" x="118.40" y="721.79" width="13.05" height="6.30"/>
<rect class="i" x="131.45" y="721.79" width="13.05" height="6.30"/>
<rect class="i" x="144.50" y="721.79" width="13.05" height="6.30"/>
<rect class="i" x="157.55" y="721.79" width="13.05" height="6.30"/>
<rect class="i" x="170.60" y="721.79" width="13.05" height="6.30"/>
<rect class="i" x="183.65" y="721.79" width="13.05" height="6.30"/>
<rect class="c" x="196.70" y="721.79" width="13.05" height="6.30"/>
<rect class="e" x="209.75" y="721.79" width="13.05" height="6.30"/>
<rect class="e" x="222.80" y="721.79" width="13.05" height="6.30"/>
<rect class="f" x="235.85" y="721.79" width="13.05" height="6.30"/>
<rect class="e" x="248.90" y="721.79" width="13.05" height="6.30"/>
<rect class="f" x="261.95" y="721.79" width="13.05" height="6.30"/>
<rect class="c" x="275.00" y="721.79" width="13.05" height="6.30"/>
<rect class="e" x="288.05" y="721.79" width="13.05" height="6.30"/>
<rect class="e" x="301.10" y="721.79" width="13.05" height="6.30"/>
<rect class="f" x="314.15" y="721.79" width="13.05" height="6.30"/>
<rect class="e" x="327.20" y="721.79" width="13.05" height="6.30"/>
<rect class="c" x="340.25" y="721.79" width="13.05" height="6.30"/>
<rect class="e" x="353.30" y="721.79" width="13.05" height="6.30"/>
<rect class="e" x="66.20" y="728.09" width="13.05" height="6.30"/>
<rect class="a" x="79.25" y="728.09" width="13.05" height="6.30"/>
<rect class="a" x="92.30" y="728.09" width="13.05" height="6.30"/>
<rect class="e" x="105.35" y="728.09" width="13.05" height="6.30"/>
<rect class="a" x="118.40" y="728.09" width="13.05" height="6.30"/>
<rect class="i" x="131.45" y="728.09" width="13.05" height="6.30"/>
<rect class="i" x="144.50" y="728.09" width="13.05" height="6.30"/>
<rect class="i" x="157.55" y="728.09" width="13.05" height="6.30"/>
<rect class="i" x="170.60" y="728.09" width="13.05" height="6.30"/>
<rect class="i" x="183.65" y="728.09" width="13.05" height="6.30"/>
<rect class="f" x="196.70" y="728.09" width="13.05" height="6.30"/>
<rect class="e" x="209.75" y="728.09" width="13.05" height="6.30"/>
<rect class="e" x="222.80" y="728.09" width="13.05" height="6.30"/>
<rect class="i" x="235.85" y="728.09" width="13.05" height="6.30"/>
<rect class="f" x="248.90" y="728.09" width="13.05" height="6.30"/>
<rect class="f" x="261.95" y="728.09" width="13.05" height="6.30"/>
<rect class="e" x="275.00" y="728.09" width="13.05" height="6.30"/>
<rect class="e" x="288.05" y="728.09" width="13.05" height="6.30"/>
<rect class="e" x="301.10" y="728.09" width="13.05" height="6.30"/>
<rect class="e" x="314.15" y="728.09" width="13.05" height="6.30"/>
<rect class="c" x="327.20" y="728.09" width="13.05" height="6.30"/>
<rect class="f" x="340.25" y="728.09" width="13.05" height="6.30"/>
<rect class="e" x="353.30" y="728.09" width="13.05" height="6.30"/>
<rect class="a" x="66.20" y="734.40" width="13.05" height="6.30"/>
<rect class="a" x="79.25" y="734.40" width="13.05" height="6.30"/>
<rect class="a" x="92.30" y="734.40" width="13.05" height="6.30"/>
<rect class="i" x="105.35" y="734.40" width="13.05" height="6.30"/>
<rect class="a" x="118.40" y="734.40" width="13.05" height="6.30"/>
<rect class="i" x="131.45" y="734.40" width="13.05" height="6.30"/>
<rect class="i" x="144.50" y="734.40" width="13.05" height="6.30"/>
<rect class="i" x="157.55" y="734.40" width="13.05" height="6.30"/>
<rect class="i" x="170.60" y="734.40" width="13.05" height="6.30"/>
<rect class="i" x="183.65" y="734.40" width="13.05" height="6.30"/>
<rect class="c" x="196.70" y="734.40" width="13.05" height="6.30"/>
<rect class="e" x="209.75" y="734.40" width="13.05" height="6.30"/>
<rect class="c" x="222.80" y="734.40" width="13.05" height="6.30"/>
<rect class="f" x="235.85" y="734.40" width="13.05" height="6.30"/>
<rect class="e" x="248.90" y="734.40" width="13.05" height="6.30"/>
<rect class="h" x="261.95" y="734.40" width="13.05" height="6.30"/>
<rect class="e" x="275.00" y="734.40" width="13.05" height="6.30"/>
<rect class="e" x="288.05" y="734.40" width="13.05" height="6.30"/>
<rect class="f" x="301.10" y="734.40" width="13.05" height="6.30"/>
<rect class="e" x="314.15" y="734.40" width="13.05" height="6.30"/>
<rect class="c" x="327.20" y="734.40" width="13.05" height="6.30"/>
<rect class="e" x="340.25" y="734.40" width="13.05" height="6.30"/>
<rect class="e" x="353.30" y="734.40" width="13.05" height="6.30"/>
<rect class="b" x="66.20" y="740.70" width="13.05" height="6.30"/>
<rect class="b" x="79.25" y="740.70" width="13.05" height="6.30"/>
<rect class="b" x="92.30" y="740.70" width="13.05" height="6.30"/>
<rect class="i" x="105.35" y="740.70" width="13.05" height="6.30"/>
<rect class="b" x="118.40" y="740.70" width="13.05" height="6.30"/>
<rect class="i" x="131.45" y="740.70" width="13.05" height="6.30"/>
<rect class="i" x="144.50" y="740.70" width="13.05" height="6.30"/>
<rect class="i" x="157.55" y="740.70" width="13.05" height="6.30"/>
<rect class="i" x="170.60" y="740.70" width="13.05" height="6.30"/>
<rect class="i" x="183.65" y="740.70" width="13.05" height="6.30"/>
<rect class="c" x="196.70" y="740.70" width="13.05" height="6.30"/>
<rect class="e" x="209.75" y="740.70" width="13.05" height="6.30"/>
<rect class="e" x="222.80" y="740.70" width="13.05" height="6.30"/>
<rect class="c" x="235.85" y="740.70" width="13.05" height="6.30"/>
<rect class="e" x="248.90" y="740.70" width="13.05" height="6.30"/>
<rect class="f" x="261.95" y="740.70" width="13.05" height="6.30"/>
<rect class="e" x="275.00" y="740.70" width="13.05" height="6.30"/>
<rect class="c" x="288.05" y="740.70" width="13.05" height="6.30"/>
<rect class="c" x="301.10" y="740.70" width="13.05" height="6.30"/>
<rect class="e" x="314.15" y="740.70" width="13.05" height="6.30"/>
<rect class="e" x="327.20" y="740.70" width="13.05" height="6.30"/>
<rect class="c" x="340.25" y="740.70" width="13.05" height="6.30"/>
<rect class="e" x="353.30" y="740.70" width="13.05" height="6.30"/>
<rect x="66.20" y="466.50" width="13.10" height="7.50" fill="#29a9e1"/>
<rect x="79.25" y="466.50" width="13.10" height="7.50" fill="#29a9e1"/>
<rect x="92.30" y="466.50" width="13.10" height="7.50" fill="#29a9e1"/>
<rect x="105.35" y="466.50" width="13.10" height="7.50" fill="#29a9e1"/>
<rect x="118.40" y="466.50" width="13.10" height="7.50" fill="#29a9e1"/>
<rect x="131.45" y="466.50" width="13.10" height="7.50" fill="#f6b81a"/>
<rect x="144.50" y="466.50" width="13.10" height="7.50" fill="#f6b81a"/>
<rect x="157.55" y="466.50" width="13.10" height="7.50" fill="#f6b81a"/>
<rect x="170.60" y="466.50" width="13.10" height="7.50" fill="#f6b81a"/>
<rect x="183.65" y="466.50" width="13.10" height="7.50" fill="#f6b81a"/>
<rect x="196.70" y="466.50" width="13.10" height="7.50" fill="#f6b81a"/>
<rect x="209.75" y="466.50" width="13.10" height="7.50" fill="#4b1a6b"/>
<rect x="222.80" y="466.50" width="13.10" height="7.50" fill="#f6b81a"/>
<rect x="235.85" y="466.50" width="13.10" height="7.50" fill="#4b1a6b"/>
<rect x="248.90" y="466.50" width="13.10" height="7.50" fill="#29a9e1"/>
<rect x="261.95" y="466.50" width="13.10" height="7.50" fill="#4b1a6b"/>
<rect x="275.00" y="466.50" width="13.10" height="7.50" fill="#4b1a6b"/>
<rect x="288.05" y="466.50" width="13.10" height="7.50" fill="#29a9e1"/>
<rect x="301.10" y="466.50" width="13.10" height="7.50" fill="#4b1a6b"/>
<rect x="314.15" y="466.50" width="13.10" height="7.50" fill="#f6b81a"/>
<rect x="327.20" y="466.50" width="13.10" height="7.50" fill="#4b1a6b"/>
<rect x="340.25" y="466.50" width="13.10" height="7.50" fill="#4b1a6b"/>
<rect x="353.30" y="466.50" width="13.10" height="7.50" fill="#4b1a6b"/>
<rect x="57.85" y="476.25" width="5.70" height="5.80" fill="#fff" stroke="#ebe8ee" stroke-width="0.5"/>
<rect x="57.85" y="482.55" width="5.70" height="5.80" fill="#fff" stroke="#ebe8ee" stroke-width="0.5"/>
<rect x="57.85" y="488.85" width="5.70" height="5.80" fill="#fff" stroke="#ebe8ee" stroke-width="0.5"/>
<rect x="57.60" y="494.86" width="6.20" height="6.40" fill="#c97a2a"/>
<rect x="57.60" y="501.16" width="6.20" height="6.40" fill="#c97a2a"/>
<rect x="57.85" y="507.76" width="5.70" height="5.80" fill="#fff" stroke="#ebe8ee" stroke-width="0.5"/>
<rect x="57.85" y="514.06" width="5.70" height="5.80" fill="#fff" stroke="#ebe8ee" stroke-width="0.5"/>
<rect x="57.85" y="520.37" width="5.70" height="5.80" fill="#fff" stroke="#ebe8ee" stroke-width="0.5"/>
<rect x="57.85" y="526.67" width="5.70" height="5.80" fill="#fff" stroke="#ebe8ee" stroke-width="0.5"/>
<rect x="57.85" y="532.97" width="5.70" height="5.80" fill="#fff" stroke="#ebe8ee" stroke-width="0.5"/>
<rect x="57.85" y="539.27" width="5.70" height="5.80" fill="#fff" stroke="#ebe8ee" stroke-width="0.5"/>
<rect x="57.85" y="545.58" width="5.70" height="5.80" fill="#fff" stroke="#ebe8ee" stroke-width="0.5"/>
<rect x="57.85" y="551.88" width="5.70" height="5.80" fill="#fff" stroke="#ebe8ee" stroke-width="0.5"/>
<rect x="57.85" y="558.18" width="5.70" height="5.80" fill="#fff" stroke="#ebe8ee" stroke-width="0.5"/>
<rect x="57.85" y="564.48" width="5.70" height="5.80" fill="#fff" stroke="#ebe8ee" stroke-width="0.5"/>
<rect x="57.60" y="570.48" width="6.20" height="6.40" fill="#c97a2a"/>
<rect x="57.85" y="577.09" width="5.70" height="5.80" fill="#fff" stroke="#ebe8ee" stroke-width="0.5"/>
<rect x="57.85" y="583.39" width="5.70" height="5.80" fill="#fff" stroke="#ebe8ee" stroke-width="0.5"/>
<rect x="57.85" y="589.69" width="5.70" height="5.80" fill="#fff" stroke="#ebe8ee" stroke-width="0.5"/>
<rect x="57.85" y="595.99" width="5.70" height="5.80" fill="#fff" stroke="#ebe8ee" stroke-width="0.5"/>
<rect x="57.85" y="602.30" width="5.70" height="5.80" fill="#fff" stroke="#ebe8ee" stroke-width="0.5"/>
<rect x="57.60" y="608.30" width="6.20" height="6.40" fill="#c97a2a"/>
<rect x="57.60" y="614.60" width="6.20" height="6.40" fill="#c97a2a"/>
<rect x="57.60" y="620.90" width="6.20" height="6.40" fill="#c97a2a"/>
<rect x="57.60" y="627.21" width="6.20" height="6.40" fill="#c97a2a"/>
<rect x="57.60" y="633.51" width="6.20" height="6.40" fill="#c97a2a"/>
<rect x="57.85" y="640.11" width="5.70" height="5.80" fill="#fff" stroke="#ebe8ee" stroke-width="0.5"/>
<rect x="57.60" y="646.11" width="6.20" height="6.40" fill="#c97a2a"/>
<rect x="57.60" y="652.42" width="6.20" height="6.40" fill="#c97a2a"/>
<rect x="57.60" y="658.72" width="6.20" height="6.40" fill="#c97a2a"/>
<rect x="57.60" y="665.02" width="6.20" height="6.40" fill="#c97a2a"/>
<rect x="57.60" y="671.32" width="6.20" height="6.40" fill="#c97a2a"/>
<rect x="57.60" y="677.62" width="6.20" height="6.40" fill="#c97a2a"/>
<rect x="57.60" y="683.93" width="6.20" height="6.40" fill="#c97a2a"/>
<rect x="57.60" y="690.23" width="6.20" height="6.40" fill="#c97a2a"/>
<rect x="57.60" y="696.53" width="6.20" height="6.40" fill="#c97a2a"/>
<rect x="57.60" y="702.83" width="6.20" height="6.40" fill="#c97a2a"/>
<rect x="57.60" y="709.14" width="6.20" height="6.40" fill="#c97a2a"/>
<rect x="57.60" y="715.44" width="6.20" height="6.40" fill="#c97a2a"/>
<rect x="57.60" y="721.74" width="6.20" height="6.40" fill="#c97a2a"/>
<rect x="57.60" y="728.04" width="6.20" height="6.40" fill="#c97a2a"/>
<rect x="57.60" y="734.35" width="6.20" height="6.40" fill="#c97a2a"/>
<rect x="57.60" y="740.65" width="6.20" height="6.40" fill="#c97a2a"/>
<text x="370.30" y="480.90" font-size="5" fill="#333">IL6</text>
<text x="370.30" y="487.20" font-size="5" fill="#333">RUNX1</text>
<text x="370.30" y="493.51" font-size="5" fill="#333">ATF1</text>
<text x="370.30" y="499.81" font-size="5" fill="#333">BCL6</text>
<text x="370.30" y="506.11" font-size="5" fill="#333">RELA</text>
<text x="370.30" y="512.41" font-size="5" fill="#333">EWSR1</text>
<text x="370.30" y="518.72" font-size="5" fill="#333">CD14</text>
<text x="370.30" y="525.02" font-size="5" fill="#333">ATM</text>
<text x="370.30" y="531.32" font-size="5" fill="#333">BCL2L1</text>
<text x="370.30" y="537.62" font-size="5" fill="#333">NFKB2</text>
<text x="370.30" y="543.92" font-size="5" fill="#333">PAX5</text>
<text x="370.30" y="550.23" font-size="5" fill="#333">BAX</text>
<text x="370.30" y="556.53" font-size="5" fill="#333">MAF</text>
<text x="370.30" y="562.83" font-size="5" fill="#333">CDKN1A</text>
<text x="370.30" y="569.13" font-size="5" fill="#333">IGF1R</text>
<text x="370.30" y="575.44" font-size="5" fill="#333">IL1R2</text>
<text x="370.30" y="581.74" font-size="5" fill="#333">TP53</text>
<text x="370.30" y="588.04" font-size="5" fill="#333">JAK2</text>
<text x="370.30" y="594.34" font-size="5" fill="#333">TFE3</text>
<text x="370.30" y="600.65" font-size="5" fill="#333">CREBBP</text>
<text x="370.30" y="606.95" font-size="5" fill="#333">ELANE</text>
<text x="370.30" y="613.25" font-size="5" fill="#333">CEBPB</text>
<text x="370.30" y="619.55" font-size="5" fill="#333">CD40</text>
<text x="370.30" y="625.85" font-size="5" fill="#333">REL</text>
<text x="370.30" y="632.16" font-size="5" fill="#333">BMI1</text>
<text x="370.30" y="638.46" font-size="5" fill="#333">NFKB1</text>
<text x="370.30" y="644.76" font-size="5" fill="#333">ATF2</text>
<text x="370.30" y="651.06" font-size="5" fill="#333">EP300</text>
<text x="370.30" y="657.37" font-size="5" fill="#333">MEF2C</text>
<text x="370.30" y="663.67" font-size="5" fill="#333">SSX1</text>
<text x="370.30" y="669.97" font-size="5" fill="#333">CSF2</text>
<text x="370.30" y="676.27" font-size="5" fill="#333">IL3</text>
<text x="370.30" y="682.58" font-size="5" fill="#333">FCGR1A</text>
<text x="370.30" y="688.88" font-size="5" fill="#333">FLT3</text>
<text x="370.30" y="695.18" font-size="5" fill="#333">PLAU</text>
<text x="370.30" y="701.48" font-size="5" fill="#333">EGR2</text>
<text x="370.30" y="707.78" font-size="5" fill="#333">GZMB</text>
<text x="370.30" y="714.09" font-size="5" fill="#333">CSF1R</text>
<text x="370.30" y="720.39" font-size="5" fill="#333">ITGAM</text>
<text x="370.30" y="726.69" font-size="5" fill="#333">CD86</text>
<text x="370.30" y="732.99" font-size="5" fill="#333">DUSP6</text>
<text x="370.30" y="739.30" font-size="5" fill="#333">IL2RB</text>
<text x="370.30" y="745.60" font-size="5" fill="#333">PPARG</text>
<text x="70.03" y="751.50" font-size="7.6" fill="#333" transform="rotate(90 70.03 751.50)">BL1</text>
<text x="83.08" y="751.50" font-size="7.6" fill="#333" transform="rotate(90 83.08 751.50)">BL3</text>
<text x="96.12" y="751.50" font-size="7.6" fill="#333" transform="rotate(90 96.12 751.50)">BL4</text>
<text x="109.17" y="751.50" font-size="7.6" fill="#333" transform="rotate(90 109.17 751.50)">BL2</text>
<text x="122.23" y="751.50" font-size="7.6" fill="#333" transform="rotate(90 122.23 751.50)">BL5</text>
<text x="135.28" y="751.50" font-size="7.6" fill="#333" transform="rotate(90 135.28 751.50)">BL7</text>
<text x="148.33" y="751.50" font-size="7.6" fill="#333" transform="rotate(90 148.33 751.50)">BL9</text>
<text x="161.38" y="751.50" font-size="7.6" fill="#333" transform="rotate(90 161.38 751.50)">BL6</text>
<text x="174.43" y="751.50" font-size="7.6" fill="#333" transform="rotate(90 174.43 751.50)">BL8</text>
<text x="187.48" y="751.50" font-size="7.6" fill="#333" transform="rotate(90 187.48 751.50)">BL10</text>
<text x="200.53" y="751.50" font-size="7.6" fill="#333" transform="rotate(90 200.53 751.50)">BL21</text>
<text x="213.58" y="751.50" font-size="7.6" fill="#333" transform="rotate(90 213.58 751.50)">BL16</text>
<text x="226.62" y="751.50" font-size="7.6" fill="#333" transform="rotate(90 226.62 751.50)">BL19</text>
<text x="239.68" y="751.50" font-size="7.6" fill="#333" transform="rotate(90 239.68 751.50)">BL14</text>
<text x="252.73" y="751.50" font-size="7.6" fill="#333" transform="rotate(90 252.73 751.50)">BL23</text>
<text x="265.78" y="751.50" font-size="7.6" fill="#333" transform="rotate(90 265.78 751.50)">BL15</text>
<text x="278.83" y="751.50" font-size="7.6" fill="#333" transform="rotate(90 278.83 751.50)">BL17</text>
<text x="291.88" y="751.50" font-size="7.6" fill="#333" transform="rotate(90 291.88 751.50)">BL22</text>
<text x="304.93" y="751.50" font-size="7.6" fill="#333" transform="rotate(90 304.93 751.50)">BL12</text>
<text x="317.98" y="751.50" font-size="7.6" fill="#333" transform="rotate(90 317.98 751.50)">BL20</text>
<text x="331.03" y="751.50" font-size="7.6" fill="#333" transform="rotate(90 331.03 751.50)">BL18</text>
<text x="344.07" y="751.50" font-size="7.6" fill="#333" transform="rotate(90 344.07 751.50)">BL13</text>
<text x="357.12" y="751.50" font-size="7.6" fill="#333" transform="rotate(90 357.12 751.50)">BL11</text>
<text x="58.10" y="751.50" font-size="7.4" fill="#555" transform="rotate(90 58.10 751.50)">significance</text>
<path d="M72.73 451.20L85.78 451.20 M72.73 451.20L72.73 466.50 M85.78 451.20L85.78 466.50 M111.88 450.80L124.93 450.80 M111.88 450.80L111.88 466.50 M124.93 450.80L124.93 466.50 M98.83 449.80L118.40 449.80 M98.83 449.80L98.83 466.50 M118.40 449.80L118.40 450.80 M79.25 443.50L108.61 443.50 M79.25 443.50L79.25 451.20 M108.61 443.50L108.61 449.80 M137.98 463.00L151.03 463.00 M137.98 463.00L137.98 466.50 M151.03 463.00L151.03 466.50 M177.12 463.50L190.18 463.50 M177.12 463.50L177.12 466.50 M190.18 463.50L190.18 466.50 M164.07 462.50L183.65 462.50 M164.07 462.50L164.07 466.50 M183.65 462.50L183.65 463.50 M144.50 460.70L173.86 460.70 M144.50 460.70L144.50 463.00 M173.86 460.70L173.86 462.50 M216.28 462.90L229.32 462.90 M216.28 462.90L216.28 466.50 M229.32 462.90L229.32 466.50 M222.80 459.50L242.38 459.50 M222.80 459.50L222.80 462.90 M242.38 459.50L242.38 466.50 M255.43 462.90L268.48 462.90 M255.43 462.90L255.43 466.50 M268.48 462.90L268.48 466.50 M261.95 461.30L281.53 461.30 M261.95 461.30L261.95 462.90 M281.53 461.30L281.53 466.50 M294.57 462.90L307.62 462.90 M294.57 462.90L294.57 466.50 M307.62 462.90L307.62 466.50 M271.74 458.10L301.10 458.10 M271.74 458.10L271.74 461.30 M301.10 458.10L301.10 462.90 M320.68 462.90L333.73 462.90 M320.68 462.90L320.68 466.50 M333.73 462.90L333.73 466.50 M346.77 462.90L359.82 462.90 M346.77 462.90L346.77 466.50 M359.82 462.90L359.82 466.50 M327.20 459.70L353.30 459.70 M327.20 459.70L327.20 462.90 M353.30 459.70L353.30 462.90 M286.42 458.00L340.25 458.00 M286.42 458.00L286.42 458.10 M340.25 458.00L340.25 459.70 M232.59 457.00L313.33 457.00 M232.59 457.00L232.59 459.50 M313.33 457.00L313.33 458.00 M203.23 452.60L272.96 452.60 M203.23 452.60L203.23 466.50 M272.96 452.60L272.96 457.00 M159.18 431.40L238.09 431.40 M159.18 431.40L159.18 460.70 M238.09 431.40L238.09 452.60 M93.93 426.40L198.64 426.40 M93.93 426.40L93.93 443.50 M198.64 426.40L198.64 431.40" stroke="#5e5e5e" stroke-width="1.15" fill="none" stroke-linecap="square"/>
<path d="M52.80 498.06L52.80 504.36 M52.80 498.06L57.20 498.06 M52.80 504.36L57.20 504.36 M49.30 491.76L49.30 501.21 M49.30 491.76L57.20 491.76 M49.30 501.21L52.80 501.21 M46.30 485.45L46.30 496.48 M46.30 485.45L57.20 485.45 M46.30 496.48L49.30 496.48 M42.20 479.15L42.20 490.97 M42.20 479.15L57.20 479.15 M42.20 490.97L46.30 490.97 M53.00 510.66L53.00 516.97 M53.00 510.66L57.20 510.66 M53.00 516.97L57.20 516.97 M54.00 529.57L54.00 535.87 M54.00 529.57L57.20 529.57 M54.00 535.87L57.20 535.87 M50.50 523.27L50.50 532.72 M50.50 523.27L57.20 523.27 M50.50 532.72L54.00 532.72 M48.40 513.81L48.40 527.99 M48.40 513.81L53.00 513.81 M48.40 527.99L50.50 527.99 M52.00 548.48L52.00 554.78 M52.00 548.48L57.20 548.48 M52.00 554.78L57.20 554.78 M45.20 542.17L45.20 551.63 M45.20 542.17L57.20 542.17 M45.20 551.63L52.00 551.63 M40.50 520.90L40.50 546.90 M40.50 520.90L48.40 520.90 M40.50 546.90L45.20 546.90 M30.50 485.06L30.50 533.90 M30.50 485.06L42.20 485.06 M30.50 533.90L40.50 533.90 M50.00 561.08L50.00 567.38 M50.00 561.08L57.20 561.08 M50.00 567.38L57.20 567.38 M51.00 573.69L51.00 579.99 M51.00 573.69L57.20 573.69 M51.00 579.99L57.20 579.99 M44.00 564.23L44.00 576.84 M44.00 564.23L50.00 564.23 M44.00 576.84L51.00 576.84 M50.50 586.29L50.50 592.59 M50.50 586.29L57.20 586.29 M50.50 592.59L57.20 592.59 M49.50 598.90L49.50 605.20 M49.50 598.90L57.20 598.90 M49.50 605.20L57.20 605.20 M44.00 589.44L44.00 602.05 M44.00 589.44L50.50 589.44 M44.00 602.05L49.50 602.05 M37.80 570.53L37.80 595.74 M37.80 570.53L44.00 570.53 M37.80 595.74L44.00 595.74 M53.00 617.80L53.00 624.10 M53.00 617.80L57.20 617.80 M53.00 624.10L57.20 624.10 M50.00 611.50L50.00 620.95 M50.00 611.50L57.20 611.50 M50.00 620.95L53.00 620.95 M52.00 630.41L52.00 636.71 M52.00 630.41L57.20 630.41 M52.00 636.71L57.20 636.71 M44.90 616.23L44.90 633.56 M44.90 616.23L50.00 616.23 M44.90 633.56L52.00 633.56 M53.90 643.01L53.90 649.31 M53.90 643.01L57.20 643.01 M53.90 649.31L57.20 649.31 M53.90 655.62L53.90 661.92 M53.90 655.62L57.20 655.62 M53.90 661.92L57.20 661.92 M50.70 646.16L50.70 658.77 M50.70 646.16L53.90 646.16 M50.70 658.77L53.90 658.77 M53.90 668.22L53.90 674.52 M53.90 668.22L57.20 668.22 M53.90 674.52L57.20 674.52 M53.90 680.83L53.90 687.13 M53.90 680.83L57.20 680.83 M53.90 687.13L57.20 687.13 M50.70 671.37L50.70 683.98 M50.70 671.37L53.90 671.37 M50.70 683.98L53.90 683.98 M46.50 652.47L46.50 677.67 M46.50 652.47L50.70 652.47 M46.50 677.67L50.70 677.67 M53.90 693.43L53.90 699.73 M53.90 693.43L57.20 693.43 M53.90 699.73L57.20 699.73 M52.30 696.58L52.30 706.03 M52.30 696.58L53.90 696.58 M52.30 706.03L57.20 706.03 M53.90 712.34L53.90 718.64 M53.90 712.34L57.20 712.34 M53.90 718.64L57.20 718.64 M49.10 701.31L49.10 715.49 M49.10 701.31L52.30 701.31 M49.10 715.49L53.90 715.49 M53.90 724.94L53.90 731.24 M53.90 724.94L57.20 724.94 M53.90 731.24L57.20 731.24 M53.90 737.55L53.90 743.85 M53.90 737.55L57.20 737.55 M53.90 743.85L57.20 743.85 M50.70 728.09L50.70 740.70 M50.70 728.09L53.90 728.09 M50.70 740.70L53.90 740.70 M45.50 708.40L45.50 734.40 M45.50 708.40L49.10 708.40 M45.50 734.40L50.70 734.40 M43.10 665.07L43.10 721.40 M43.10 665.07L46.50 665.07 M43.10 721.40L45.50 721.40 M34.00 624.89L34.00 693.23 M34.00 624.89L44.90 624.89 M34.00 693.23L43.10 693.23 M28.20 583.14L28.20 659.06 M28.20 583.14L37.80 583.14 M28.20 659.06L34.00 659.06 M22.00 509.48L22.00 621.10 M22.00 509.48L30.50 509.48 M22.00 621.10L28.20 621.10" stroke="#5e5e5e" stroke-width="1.15" fill="none" stroke-linecap="square"/>
<text x="8.0" y="19.8" font-size="14" font-weight="bold" fill="#111" stroke="#111" stroke-width="0.45">A</text>
<text x="8.4" y="423.4" font-size="14" font-weight="bold" fill="#111" stroke="#111" stroke-width="0.45">B</text>
<text x="173.4" y="16.8" font-size="10" fill="#222" textLength="86.8" lengthAdjust="spacingAndGlyphs">DZ spatial signature</text>
<text x="165.8" y="420.4" font-size="10" fill="#222" textLength="100.8" lengthAdjust="spacingAndGlyphs">Epigenetic Modification</text>
<text x="370.8" y="70.3" font-size="7.3" fill="#333">sample</text>
<text x="370.3" y="472.7" font-size="7.3" fill="#333">sample</text>
<defs>
<linearGradient id="cbA" x1="0" y1="0" x2="0" y2="1">
 <stop offset="0" stop-color="#ee3a36"/>
 <stop offset="0.13" stop-color="#d92c38"/>
 <stop offset="0.27" stop-color="#a81d34"/>
 <stop offset="0.38" stop-color="#6a2036"/>
 <stop offset="0.5" stop-color="#464a4e"/>
 <stop offset="0.61" stop-color="#33684a"/>
 <stop offset="0.72" stop-color="#3fa24c"/>
 <stop offset="0.82" stop-color="#48b64f"/>
 <stop offset="1" stop-color="#4cba50"/>
</linearGradient>
</defs>
<rect x="401.8" y="63.2" width="7" height="115.5" fill="url(#cbA)"/>
<text x="413.3" y="94.7" font-size="7.2" fill="#333">2</text>
<text x="413.3" y="123.6" font-size="7.2" fill="#333">0</text>
<text x="410.9" y="152.8" font-size="7.2" fill="#333">−2</text>
<rect x="399.3" y="466.2" width="6.8" height="112.3" fill="url(#cbA)"/>
<text x="409.9" y="472.0" font-size="7.2" fill="#333">4</text>
<text x="409.9" y="498.2" font-size="7.2" fill="#333">2</text>
<text x="409.9" y="525.3" font-size="7.2" fill="#333">0</text>
<text x="407.6" y="552.4" font-size="7.2" fill="#333">−2</text>
<text x="407.6" y="578.6" font-size="7.2" fill="#333">−4</text>
<text x="429.00" y="70.30" font-size="7.3" fill="#333">sample</text>
<rect x="429.00" y="76.20" width="6.80" height="6.80" fill="#4b1a6b"/>
<text x="439.80" y="82.20" font-size="7.4" fill="#333">EBV− starry sky</text>
<rect x="429.00" y="88.20" width="6.80" height="6.80" fill="#f6b81a"/>
<text x="439.80" y="94.20" font-size="7.4" fill="#333">EBV+ starry sky</text>
<rect x="429.00" y="100.20" width="6.80" height="6.80" fill="#29a9e1"/>
<text x="439.80" y="106.20" font-size="7.4" fill="#333">EBV+ Granulomatous</text>
<text x="429.00" y="120.10" font-size="7.3" fill="#333">significance</text>
<rect x="429.00" y="126.20" width="6.80" height="6.80" fill="#c97a2a"/>
<text x="439.80" y="132.20" font-size="7.4" fill="#333">sign.</text>
<rect x="429.30" y="138.50" width="6.20" height="6.20" fill="#ffffff" stroke="#e4e4ea" stroke-width="0.6"/>
<text x="439.80" y="144.20" font-size="7.4" fill="#333">non-sign.</text>
<text x="426.20" y="472.00" font-size="7.3" fill="#333">sample</text>
<rect x="426.20" y="478.20" width="6.60" height="6.60" fill="#4b1a6b"/>
<text x="437.00" y="484.10" font-size="7.4" fill="#333">EBV− starry sky</text>
<rect x="426.20" y="490.30" width="6.60" height="6.60" fill="#f6b81a"/>
<text x="437.00" y="496.20" font-size="7.4" fill="#333">EBV+ starry sky</text>
<rect x="426.20" y="502.30" width="6.60" height="6.60" fill="#29a9e1"/>
<text x="437.00" y="508.20" font-size="7.4" fill="#333">EBV+ Granulomatous</text>
<text x="426.20" y="522.00" font-size="7.3" fill="#333">significance</text>
<rect x="426.20" y="528.90" width="6.60" height="6.60" fill="#c97a2a"/>
<text x="437.00" y="534.80" font-size="7.4" fill="#333">sign.</text>
<rect x="426.50" y="540.80" width="6.00" height="6.00" fill="#ffffff" stroke="#e4e4ea" stroke-width="0.6"/>
<text x="437.00" y="546.40" font-size="7.4" fill="#333">non-sign.</text>
</svg>
<div class="bd" style="left:0;top:0;width:520px;height:1px"></div>
<div class="bd" style="left:0;top:0;width:1px;height:798px"></div>
<div class="bd" style="left:519px;top:0;width:1px;height:798px"></div>
<div class="bd" style="left:0;top:796.5px;width:520px;height:1.5px"></div>
</body></html>
